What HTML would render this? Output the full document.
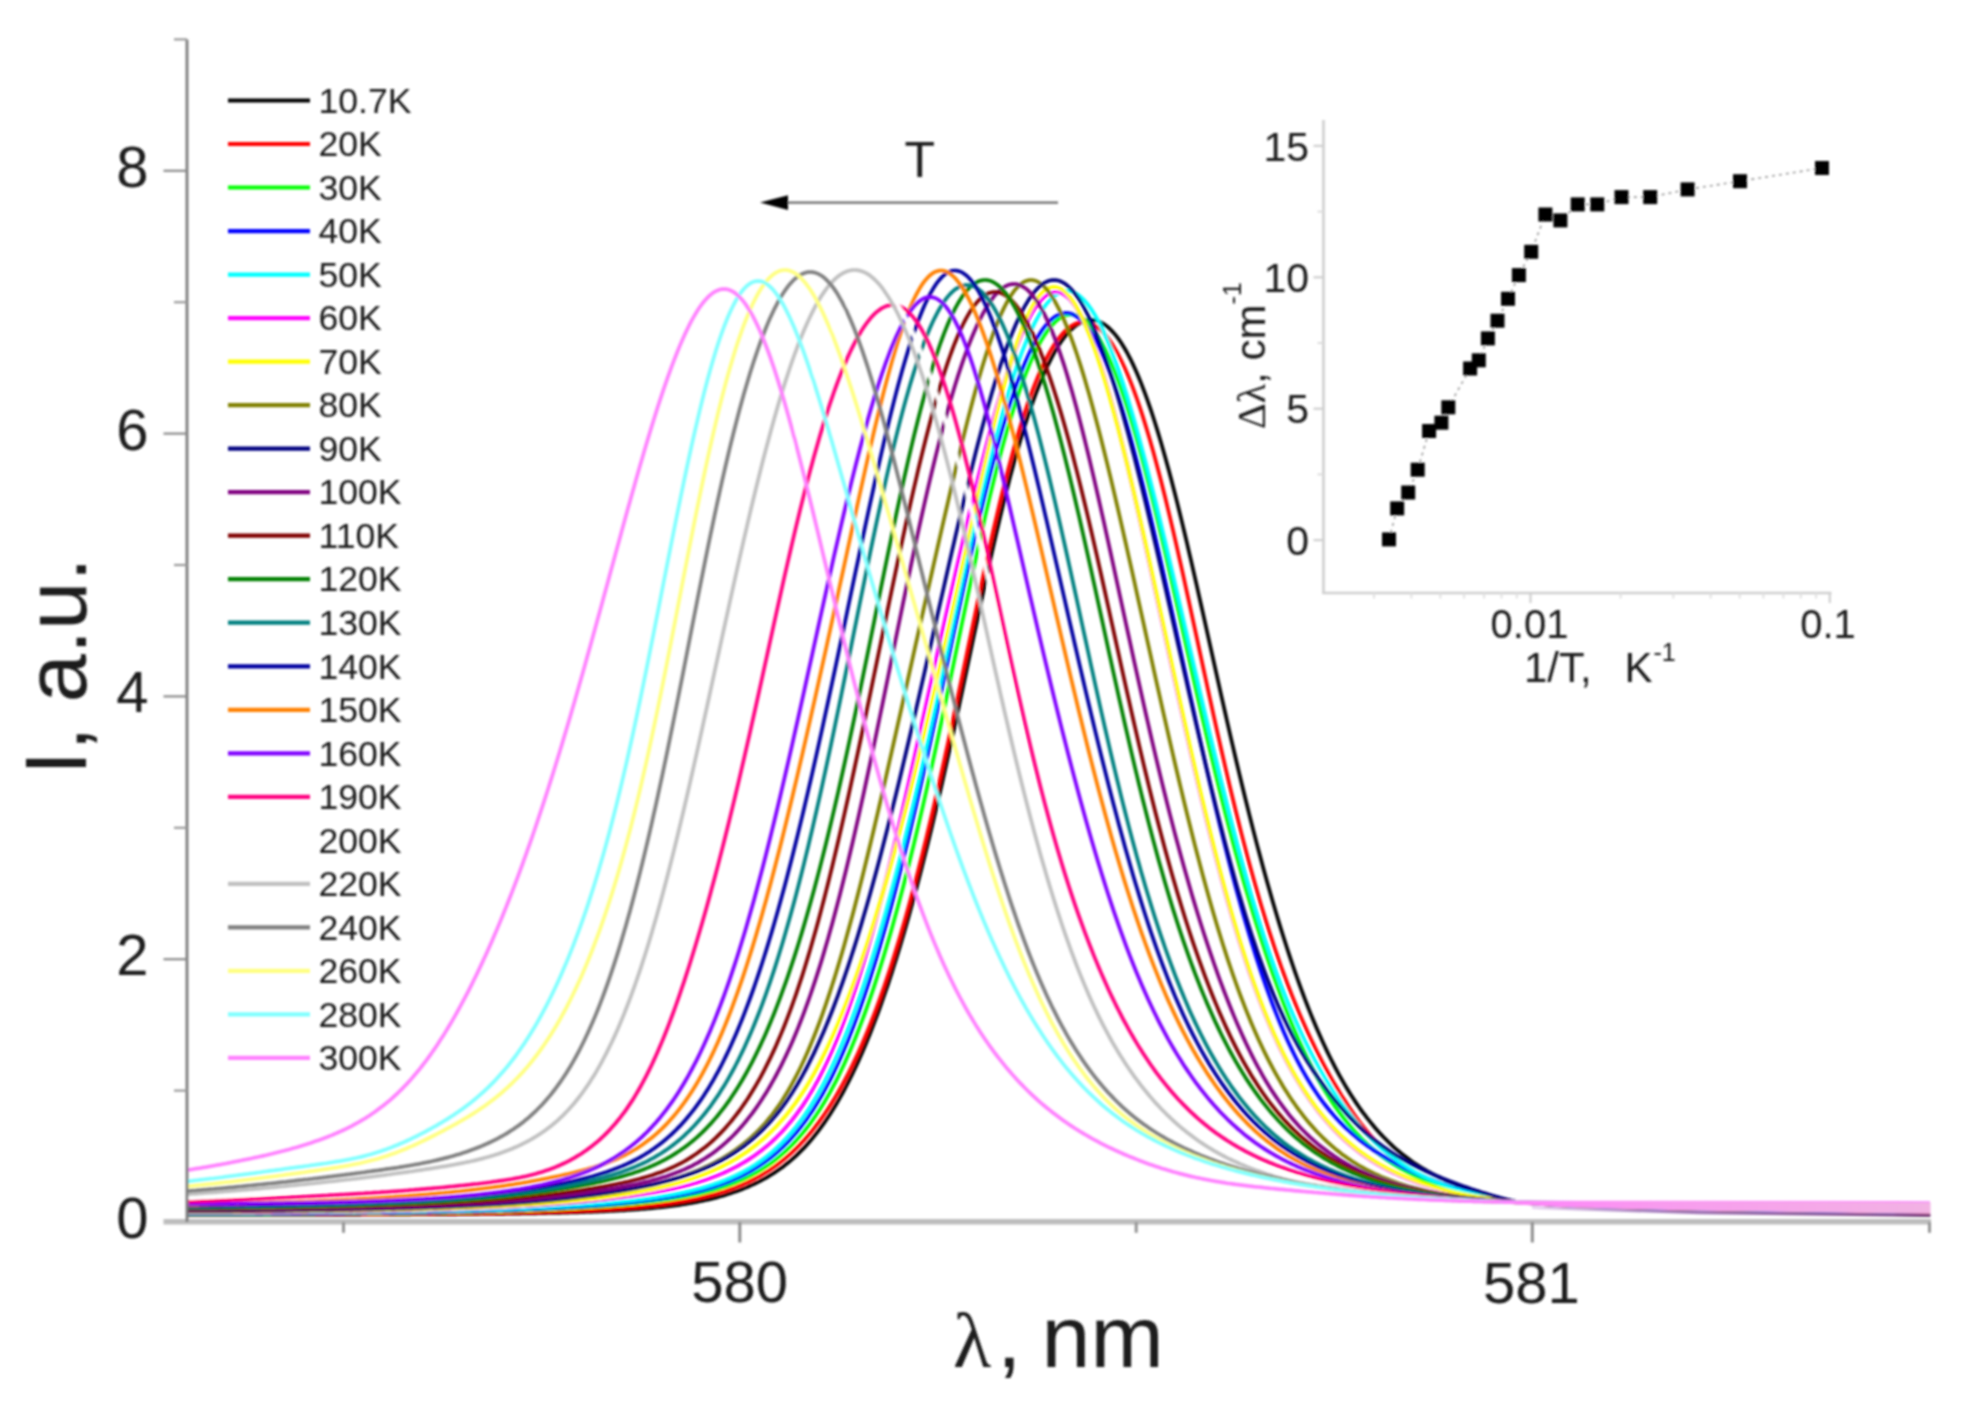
<!DOCTYPE html>
<html lang="en"><head><meta charset="utf-8"><title>Luminescence spectra vs temperature</title>
<style>
html,body{margin:0;padding:0;background:#fff;}
body{width:1965px;height:1404px;overflow:hidden;}
svg{display:block;}
text{font-family:"Liberation Sans",sans-serif;fill:#1a1a1a;}
.ser{font-family:"Liberation Serif",serif;}
.cv path{fill:none;stroke-width:3.7;stroke-linejoin:round;stroke-linecap:butt;}
</style></head><body>
<svg width="1965" height="1404" viewBox="0 0 1965 1404">
<defs><filter id="soft" x="-2%" y="-2%" width="104%" height="104%"><feGaussianBlur stdDeviation="0.9"/></filter></defs>
<rect width="1965" height="1404" fill="#fff"/>
<g filter="url(#soft)">
<g class="cv">
<path d="M188.0 1215.0 L190.0 1215.0 L192.0 1215.0 L194.0 1215.0 L196.0 1215.0 L198.0 1215.0 L200.0 1215.0 L202.0 1215.0 L204.0 1215.0 L206.0 1215.0 L208.0 1215.0 L210.0 1215.0 L212.0 1215.0 L214.0 1215.0 L216.0 1215.0 L218.0 1215.0 L220.0 1215.0 L222.0 1215.0 L224.0 1215.0 L226.0 1215.0 L228.0 1215.0 L230.0 1215.0 L232.0 1215.0 L234.0 1215.0 L236.0 1215.0 L238.0 1215.0 L240.0 1215.0 L242.0 1215.0 L244.0 1215.0 L246.0 1215.0 L248.0 1215.0 L250.0 1215.0 L252.0 1215.0 L254.0 1215.0 L256.0 1215.0 L258.0 1214.9 L260.0 1214.9 L262.0 1214.9 L264.0 1214.9 L266.0 1214.9 L268.0 1214.9 L270.0 1214.9 L272.0 1214.9 L274.0 1214.9 L276.0 1214.9 L278.0 1214.9 L280.0 1214.9 L282.0 1214.9 L284.0 1214.9 L286.0 1214.9 L288.0 1214.9 L290.0 1214.9 L292.0 1214.9 L294.0 1214.9 L296.0 1214.9 L298.0 1214.9 L300.0 1214.9 L302.0 1214.9 L304.0 1214.9 L306.0 1214.9 L308.0 1214.9 L310.0 1214.9 L312.0 1214.9 L314.0 1214.9 L316.0 1214.9 L318.0 1214.9 L320.0 1214.9 L322.0 1214.8 L324.0 1214.8 L326.0 1214.8 L328.0 1214.8 L330.0 1214.8 L332.0 1214.8 L334.0 1214.8 L336.0 1214.8 L338.0 1214.8 L340.0 1214.8 L342.0 1214.8 L344.0 1214.8 L346.0 1214.8 L348.0 1214.8 L350.0 1214.8 L352.0 1214.8 L354.0 1214.8 L356.0 1214.8 L358.0 1214.8 L360.0 1214.8 L362.0 1214.7 L364.0 1214.7 L366.0 1214.7 L368.0 1214.7 L370.0 1214.7 L372.0 1214.7 L374.0 1214.7 L376.0 1214.7 L378.0 1214.7 L380.0 1214.7 L382.0 1214.7 L384.0 1214.7 L386.0 1214.7 L388.0 1214.7 L390.0 1214.6 L392.0 1214.6 L394.0 1214.6 L396.0 1214.6 L398.0 1214.6 L400.0 1214.6 L402.0 1214.6 L404.0 1214.6 L406.0 1214.6 L408.0 1214.6 L410.0 1214.6 L412.0 1214.5 L414.0 1214.5 L416.0 1214.5 L418.0 1214.5 L420.0 1214.5 L422.0 1214.5 L424.0 1214.5 L426.0 1214.5 L428.0 1214.5 L430.0 1214.4 L432.0 1214.4 L434.0 1214.4 L436.0 1214.4 L438.0 1214.4 L440.0 1214.4 L442.0 1214.4 L444.0 1214.3 L446.0 1214.3 L448.0 1214.3 L450.0 1214.3 L452.0 1214.3 L454.0 1214.3 L456.0 1214.3 L458.0 1214.2 L460.0 1214.2 L462.0 1214.2 L464.0 1214.2 L466.0 1214.2 L468.0 1214.2 L470.0 1214.1 L472.0 1214.1 L474.0 1214.1 L476.0 1214.1 L478.0 1214.1 L480.0 1214.0 L482.0 1214.0 L484.0 1214.0 L486.0 1214.0 L488.0 1214.0 L490.0 1213.9 L492.0 1213.9 L494.0 1213.9 L496.0 1213.9 L498.0 1213.8 L500.0 1213.8 L502.0 1213.8 L504.0 1213.8 L506.0 1213.7 L508.0 1213.7 L510.0 1213.7 L512.0 1213.7 L514.0 1213.6 L516.0 1213.6 L518.0 1213.6 L520.0 1213.6 L522.0 1213.5 L524.0 1213.5 L526.0 1213.5 L528.0 1213.4 L530.0 1213.4 L532.0 1213.4 L534.0 1213.3 L536.0 1213.3 L538.0 1213.2 L540.0 1213.2 L542.0 1213.2 L544.0 1213.1 L546.0 1213.1 L548.0 1213.0 L550.0 1213.0 L552.0 1213.0 L554.0 1212.9 L556.0 1212.9 L558.0 1212.8 L560.0 1212.8 L562.0 1212.7 L564.0 1212.7 L566.0 1212.6 L568.0 1212.6 L570.0 1212.5 L572.0 1212.5 L574.0 1212.4 L576.0 1212.3 L578.0 1212.3 L580.0 1212.2 L582.0 1212.2 L584.0 1212.1 L586.0 1212.0 L588.0 1211.9 L590.0 1211.9 L592.0 1211.8 L594.0 1211.7 L596.0 1211.6 L598.0 1211.6 L600.0 1211.5 L602.0 1211.4 L604.0 1211.3 L606.0 1211.2 L608.0 1211.1 L610.0 1211.0 L612.0 1210.9 L614.0 1210.8 L616.0 1210.7 L618.0 1210.6 L620.0 1210.5 L622.0 1210.4 L624.0 1210.3 L626.0 1210.1 L628.0 1210.0 L630.0 1209.9 L632.0 1209.7 L634.0 1209.6 L636.0 1209.5 L638.0 1209.3 L640.0 1209.1 L642.0 1209.0 L644.0 1208.8 L646.0 1208.7 L648.0 1208.5 L650.0 1208.3 L652.0 1208.1 L654.0 1207.9 L656.0 1207.7 L658.0 1207.5 L660.0 1207.3 L662.0 1207.1 L664.0 1206.9 L666.0 1206.7 L668.0 1206.4 L670.0 1206.2 L672.0 1205.9 L674.0 1205.6 L676.0 1205.4 L678.0 1205.1 L680.0 1204.8 L682.0 1204.5 L684.0 1204.2 L686.0 1203.9 L688.0 1203.5 L690.0 1203.2 L692.0 1202.9 L694.0 1202.5 L696.0 1202.1 L698.0 1201.7 L700.0 1201.3 L702.0 1200.9 L704.0 1200.5 L706.0 1200.0 L708.0 1199.6 L710.0 1199.1 L712.0 1198.6 L714.0 1198.1 L716.0 1197.6 L718.0 1197.1 L720.0 1196.5 L722.0 1196.0 L724.0 1195.4 L726.0 1194.8 L728.0 1194.1 L730.0 1193.5 L732.0 1192.8 L734.0 1192.1 L736.0 1191.4 L738.0 1190.7 L740.0 1190.0 L742.0 1189.2 L744.0 1188.4 L746.0 1187.6 L748.0 1186.7 L750.0 1185.8 L752.0 1184.9 L754.0 1184.0 L756.0 1183.0 L758.0 1182.1 L760.0 1181.0 L762.0 1180.0 L764.0 1178.9 L766.0 1177.8 L768.0 1176.6 L770.0 1175.4 L772.0 1174.2 L774.0 1172.9 L776.0 1171.6 L778.0 1170.2 L780.0 1168.8 L782.0 1167.4 L784.0 1165.9 L786.0 1164.3 L788.0 1162.7 L790.0 1161.1 L792.0 1159.4 L794.0 1157.6 L796.0 1155.8 L798.0 1153.9 L800.0 1151.9 L802.0 1149.9 L804.0 1147.9 L806.0 1145.7 L808.0 1143.5 L810.0 1141.2 L812.0 1138.9 L814.0 1136.4 L816.0 1133.9 L818.0 1131.3 L820.0 1128.7 L822.0 1125.9 L824.0 1123.1 L826.0 1120.2 L828.0 1117.2 L830.0 1114.2 L832.0 1111.0 L834.0 1107.8 L836.0 1104.5 L838.0 1101.1 L840.0 1097.6 L842.0 1094.0 L844.0 1090.3 L846.0 1086.5 L848.0 1082.7 L850.0 1078.7 L852.0 1074.6 L854.0 1070.5 L856.0 1066.2 L858.0 1061.9 L860.0 1057.4 L862.0 1052.9 L864.0 1048.2 L866.0 1043.5 L868.0 1038.6 L870.0 1033.7 L872.0 1028.6 L874.0 1023.4 L876.0 1018.2 L878.0 1012.8 L880.0 1007.3 L882.0 1001.7 L884.0 996.0 L886.0 990.2 L888.0 984.3 L890.0 978.2 L892.0 972.1 L894.0 965.8 L896.0 959.4 L898.0 953.0 L900.0 946.4 L902.0 939.7 L904.0 932.9 L906.0 925.9 L908.0 918.9 L910.0 911.8 L912.0 904.5 L914.0 897.2 L916.0 889.7 L918.0 882.2 L920.0 874.5 L922.0 866.7 L924.0 858.8 L926.0 850.8 L928.0 842.8 L930.0 834.6 L932.0 826.3 L934.0 817.9 L936.0 809.4 L938.0 800.9 L940.0 792.2 L942.0 783.5 L944.0 774.6 L946.0 765.7 L948.0 756.7 L950.0 747.7 L952.0 738.5 L954.0 729.3 L956.0 720.1 L958.0 710.8 L960.0 701.4 L962.0 692.0 L964.0 682.6 L966.0 673.1 L968.0 663.6 L970.0 654.1 L972.0 644.7 L974.0 635.2 L976.0 625.8 L978.0 616.3 L980.0 607.0 L982.0 597.6 L984.0 588.4 L986.0 579.2 L988.0 570.1 L990.0 561.0 L992.0 552.1 L994.0 543.3 L996.0 534.6 L998.0 526.0 L1000.0 517.5 L1002.0 509.2 L1004.0 501.0 L1006.0 493.0 L1008.0 485.2 L1010.0 477.4 L1012.0 469.9 L1014.0 462.5 L1016.0 455.3 L1018.0 448.3 L1020.0 441.4 L1022.0 434.8 L1024.0 428.3 L1026.0 422.0 L1028.0 415.8 L1030.0 409.9 L1032.0 404.1 L1034.0 398.6 L1036.0 393.2 L1038.0 388.0 L1040.0 383.0 L1042.0 378.2 L1044.0 373.5 L1046.0 369.1 L1048.0 364.8 L1050.0 360.8 L1052.0 356.9 L1054.0 353.2 L1056.0 349.7 L1058.0 346.4 L1060.0 343.3 L1062.0 340.4 L1064.0 337.7 L1066.0 335.2 L1068.0 332.9 L1070.0 330.7 L1072.0 328.8 L1074.0 327.0 L1076.0 325.5 L1078.0 324.1 L1080.0 322.9 L1082.0 322.0 L1084.0 321.2 L1086.0 320.6 L1088.0 320.2 L1090.0 320.0 L1091.0 320.0 L1093.0 320.1 L1095.0 320.4 L1097.0 320.9 L1099.0 321.6 L1101.0 322.5 L1103.0 323.6 L1105.0 324.9 L1107.0 326.3 L1109.0 328.0 L1111.0 330.0 L1113.0 332.1 L1115.0 334.4 L1117.0 336.9 L1119.0 339.6 L1121.0 342.5 L1123.0 345.7 L1125.0 349.0 L1127.0 352.5 L1129.0 356.3 L1131.0 360.2 L1133.0 364.4 L1135.0 368.7 L1137.0 373.3 L1139.0 378.0 L1141.0 382.9 L1143.0 388.1 L1145.0 393.4 L1147.0 398.9 L1149.0 404.6 L1151.0 410.4 L1153.0 416.5 L1155.0 422.7 L1157.0 429.1 L1159.0 435.7 L1161.0 442.5 L1163.0 449.4 L1165.0 456.4 L1167.0 463.7 L1169.0 471.0 L1171.0 478.5 L1173.0 486.2 L1175.0 494.0 L1177.0 501.9 L1179.0 510.0 L1181.0 518.1 L1183.0 526.4 L1185.0 534.7 L1187.0 543.2 L1189.0 551.8 L1191.0 560.4 L1193.0 569.1 L1195.0 577.9 L1197.0 586.7 L1199.0 595.6 L1201.0 604.5 L1203.0 613.4 L1205.0 622.4 L1207.0 631.4 L1209.0 640.4 L1211.0 649.4 L1213.0 658.4 L1215.0 667.4 L1217.0 676.4 L1219.0 685.4 L1221.0 694.3 L1223.0 703.2 L1225.0 712.0 L1227.0 720.8 L1229.0 729.6 L1231.0 738.3 L1233.0 746.9 L1235.0 755.5 L1237.0 764.0 L1239.0 772.4 L1241.0 780.8 L1243.0 789.0 L1245.0 797.2 L1247.0 805.3 L1249.0 813.4 L1251.0 821.3 L1253.0 829.1 L1255.0 836.9 L1257.0 844.6 L1259.0 852.1 L1261.0 859.6 L1263.0 867.0 L1265.0 874.3 L1267.0 881.5 L1269.0 888.6 L1271.0 895.6 L1273.0 902.5 L1275.0 909.3 L1277.0 916.0 L1279.0 922.6 L1281.0 929.1 L1283.0 935.5 L1285.0 941.8 L1287.0 948.0 L1289.0 954.1 L1291.0 960.1 L1293.0 966.0 L1295.0 971.8 L1297.0 977.5 L1299.0 983.1 L1301.0 988.6 L1303.0 994.0 L1305.0 999.3 L1307.0 1004.5 L1309.0 1009.6 L1311.0 1014.6 L1313.0 1019.5 L1315.0 1024.3 L1317.0 1029.0 L1319.0 1033.6 L1321.0 1038.1 L1323.0 1042.5 L1325.0 1046.8 L1327.0 1051.1 L1329.0 1055.2 L1331.0 1059.3 L1333.0 1063.2 L1335.0 1067.1 L1337.0 1070.9 L1339.0 1074.6 L1341.0 1078.2 L1343.0 1081.7 L1345.0 1085.1 L1347.0 1088.5 L1349.0 1091.8 L1351.0 1095.0 L1353.0 1098.1 L1355.0 1101.1 L1357.0 1104.1 L1359.0 1107.0 L1361.0 1109.8 L1363.0 1112.6 L1365.0 1115.2 L1367.0 1117.9 L1369.0 1120.4 L1371.0 1122.9 L1373.0 1125.3 L1375.0 1127.7 L1377.0 1130.0 L1379.0 1132.2 L1381.0 1134.4 L1383.0 1136.5 L1385.0 1138.5 L1387.0 1140.5 L1389.0 1142.5 L1391.0 1144.4 L1393.0 1146.3 L1395.0 1148.1 L1397.0 1149.8 L1399.0 1151.5 L1401.0 1153.2 L1403.0 1154.8 L1405.0 1156.3 L1407.0 1157.8 L1409.0 1159.3 L1411.0 1160.8 L1413.0 1162.2 L1415.0 1163.5 L1417.0 1164.8 L1419.0 1166.1 L1421.0 1167.3 L1423.0 1168.5 L1425.0 1169.7 L1427.0 1170.9 L1429.0 1172.0 L1431.0 1173.0 L1433.0 1174.1 L1435.0 1175.1 L1437.0 1176.1 L1439.0 1177.0 L1441.0 1178.0 L1443.0 1178.9 L1445.0 1179.8 L1447.0 1180.7 L1449.0 1181.5 L1451.0 1182.3 L1453.0 1183.1 L1455.0 1183.9 L1457.0 1184.7 L1459.0 1185.4 L1461.0 1186.2 L1463.0 1186.9 L1465.0 1187.6 L1467.0 1188.3 L1469.0 1189.0 L1471.0 1189.6 L1473.0 1190.3 L1475.0 1190.9 L1477.0 1191.6 L1479.0 1192.2 L1481.0 1192.8 L1483.0 1193.4 L1485.0 1194.0 L1487.0 1194.5 L1489.0 1195.1 L1491.0 1195.7 L1493.0 1196.2 L1495.0 1196.7 L1497.0 1197.3 L1499.0 1197.8 L1501.0 1198.3 L1503.0 1198.8 L1505.0 1199.3 L1507.0 1199.7 L1509.0 1200.2 L1511.0 1200.7 L1513.0 1201.1 L1515.0 1201.5 L1517.0 1202.0 L1519.0 1202.4 L1579.0 1206.8 L1930.0 1215.0" stroke="#000000"/>
<path d="M188.0 1214.5 L190.0 1214.5 L192.0 1214.5 L194.0 1214.5 L196.0 1214.5 L198.0 1214.5 L200.0 1214.5 L202.0 1214.5 L204.0 1214.5 L206.0 1214.5 L208.0 1214.5 L210.0 1214.5 L212.0 1214.5 L214.0 1214.5 L216.0 1214.5 L218.0 1214.5 L220.0 1214.5 L222.0 1214.5 L224.0 1214.5 L226.0 1214.5 L228.0 1214.5 L230.0 1214.5 L232.0 1214.5 L234.0 1214.5 L236.0 1214.5 L238.0 1214.5 L240.0 1214.5 L242.0 1214.4 L244.0 1214.4 L246.0 1214.4 L248.0 1214.4 L250.0 1214.4 L252.0 1214.4 L254.0 1214.4 L256.0 1214.4 L258.0 1214.4 L260.0 1214.4 L262.0 1214.4 L264.0 1214.4 L266.0 1214.4 L268.0 1214.4 L270.0 1214.4 L272.0 1214.4 L274.0 1214.4 L276.0 1214.4 L278.0 1214.4 L280.0 1214.4 L282.0 1214.4 L284.0 1214.4 L286.0 1214.4 L288.0 1214.4 L290.0 1214.4 L292.0 1214.4 L294.0 1214.4 L296.0 1214.4 L298.0 1214.4 L300.0 1214.4 L302.0 1214.4 L304.0 1214.3 L306.0 1214.3 L308.0 1214.3 L310.0 1214.3 L312.0 1214.3 L314.0 1214.3 L316.0 1214.3 L318.0 1214.3 L320.0 1214.3 L322.0 1214.3 L324.0 1214.3 L326.0 1214.3 L328.0 1214.3 L330.0 1214.3 L332.0 1214.3 L334.0 1214.3 L336.0 1214.3 L338.0 1214.3 L340.0 1214.2 L342.0 1214.2 L344.0 1214.2 L346.0 1214.2 L348.0 1214.2 L350.0 1214.2 L352.0 1214.2 L354.0 1214.2 L356.0 1214.2 L358.0 1214.2 L360.0 1214.2 L362.0 1214.2 L364.0 1214.2 L366.0 1214.2 L368.0 1214.1 L370.0 1214.1 L372.0 1214.1 L374.0 1214.1 L376.0 1214.1 L378.0 1214.1 L380.0 1214.1 L382.0 1214.1 L384.0 1214.1 L386.0 1214.1 L388.0 1214.1 L390.0 1214.0 L392.0 1214.0 L394.0 1214.0 L396.0 1214.0 L398.0 1214.0 L400.0 1214.0 L402.0 1214.0 L404.0 1214.0 L406.0 1214.0 L408.0 1213.9 L410.0 1213.9 L412.0 1213.9 L414.0 1213.9 L416.0 1213.9 L418.0 1213.9 L420.0 1213.9 L422.0 1213.8 L424.0 1213.8 L426.0 1213.8 L428.0 1213.8 L430.0 1213.8 L432.0 1213.8 L434.0 1213.8 L436.0 1213.7 L438.0 1213.7 L440.0 1213.7 L442.0 1213.7 L444.0 1213.7 L446.0 1213.7 L448.0 1213.6 L450.0 1213.6 L452.0 1213.6 L454.0 1213.6 L456.0 1213.6 L458.0 1213.5 L460.0 1213.5 L462.0 1213.5 L464.0 1213.5 L466.0 1213.4 L468.0 1213.4 L470.0 1213.4 L472.0 1213.4 L474.0 1213.3 L476.0 1213.3 L478.0 1213.3 L480.0 1213.3 L482.0 1213.2 L484.0 1213.2 L486.0 1213.2 L488.0 1213.2 L490.0 1213.1 L492.0 1213.1 L494.0 1213.1 L496.0 1213.0 L498.0 1213.0 L500.0 1213.0 L502.0 1212.9 L504.0 1212.9 L506.0 1212.9 L508.0 1212.8 L510.0 1212.8 L512.0 1212.7 L514.0 1212.7 L516.0 1212.7 L518.0 1212.6 L520.0 1212.6 L522.0 1212.5 L524.0 1212.5 L526.0 1212.4 L528.0 1212.4 L530.0 1212.3 L532.0 1212.3 L534.0 1212.2 L536.0 1212.2 L538.0 1212.1 L540.0 1212.1 L542.0 1212.0 L544.0 1212.0 L546.0 1211.9 L548.0 1211.9 L550.0 1211.8 L552.0 1211.7 L554.0 1211.7 L556.0 1211.6 L558.0 1211.5 L560.0 1211.5 L562.0 1211.4 L564.0 1211.3 L566.0 1211.3 L568.0 1211.2 L570.0 1211.1 L572.0 1211.0 L574.0 1210.9 L576.0 1210.9 L578.0 1210.8 L580.0 1210.7 L582.0 1210.6 L584.0 1210.5 L586.0 1210.4 L588.0 1210.3 L590.0 1210.2 L592.0 1210.1 L594.0 1210.0 L596.0 1209.9 L598.0 1209.8 L600.0 1209.7 L602.0 1209.6 L604.0 1209.5 L606.0 1209.3 L608.0 1209.2 L610.0 1209.1 L612.0 1209.0 L614.0 1208.8 L616.0 1208.7 L618.0 1208.6 L620.0 1208.4 L622.0 1208.3 L624.0 1208.1 L626.0 1208.0 L628.0 1207.8 L630.0 1207.6 L632.0 1207.5 L634.0 1207.3 L636.0 1207.1 L638.0 1206.9 L640.0 1206.8 L642.0 1206.6 L644.0 1206.4 L646.0 1206.2 L648.0 1206.0 L650.0 1205.7 L652.0 1205.5 L654.0 1205.3 L656.0 1205.1 L658.0 1204.8 L660.0 1204.6 L662.0 1204.3 L664.0 1204.1 L666.0 1203.8 L668.0 1203.5 L670.0 1203.3 L672.0 1203.0 L674.0 1202.7 L676.0 1202.4 L678.0 1202.0 L680.0 1201.7 L682.0 1201.4 L684.0 1201.0 L686.0 1200.7 L688.0 1200.3 L690.0 1199.9 L692.0 1199.5 L694.0 1199.1 L696.0 1198.7 L698.0 1198.3 L700.0 1197.8 L702.0 1197.4 L704.0 1196.9 L706.0 1196.4 L708.0 1195.9 L710.0 1195.4 L712.0 1194.9 L714.0 1194.4 L716.0 1193.8 L718.0 1193.2 L720.0 1192.6 L722.0 1192.0 L724.0 1191.4 L726.0 1190.7 L728.0 1190.0 L730.0 1189.3 L732.0 1188.6 L734.0 1187.9 L736.0 1187.1 L738.0 1186.3 L740.0 1185.5 L742.0 1184.7 L744.0 1183.8 L746.0 1182.9 L748.0 1182.0 L750.0 1181.0 L752.0 1180.0 L754.0 1179.0 L756.0 1178.0 L758.0 1176.9 L760.0 1175.8 L762.0 1174.6 L764.0 1173.4 L766.0 1172.2 L768.0 1171.0 L770.0 1169.7 L772.0 1168.3 L774.0 1166.9 L776.0 1165.5 L778.0 1164.0 L780.0 1162.5 L782.0 1160.9 L784.0 1159.3 L786.0 1157.6 L788.0 1155.9 L790.0 1154.1 L792.0 1152.3 L794.0 1150.4 L796.0 1148.5 L798.0 1146.5 L800.0 1144.5 L802.0 1142.3 L804.0 1140.2 L806.0 1137.9 L808.0 1135.6 L810.0 1133.3 L812.0 1130.8 L814.0 1128.3 L816.0 1125.7 L818.0 1123.1 L820.0 1120.4 L822.0 1117.6 L824.0 1114.7 L826.0 1111.8 L828.0 1108.8 L830.0 1105.7 L832.0 1102.5 L834.0 1099.2 L836.0 1095.9 L838.0 1092.5 L840.0 1089.0 L842.0 1085.4 L844.0 1081.7 L846.0 1077.9 L848.0 1074.0 L850.0 1070.0 L852.0 1066.0 L854.0 1061.8 L856.0 1057.6 L858.0 1053.2 L860.0 1048.8 L862.0 1044.2 L864.0 1039.5 L866.0 1034.8 L868.0 1029.9 L870.0 1024.9 L872.0 1019.8 L874.0 1014.6 L876.0 1009.3 L878.0 1003.9 L880.0 998.4 L882.0 992.7 L884.0 987.0 L886.0 981.1 L888.0 975.1 L890.0 969.0 L892.0 962.7 L894.0 956.4 L896.0 949.9 L898.0 943.4 L900.0 936.7 L902.0 929.8 L904.0 922.9 L906.0 915.9 L908.0 908.7 L910.0 901.4 L912.0 894.0 L914.0 886.5 L916.0 878.9 L918.0 871.2 L920.0 863.3 L922.0 855.4 L924.0 847.3 L926.0 839.1 L928.0 830.8 L930.0 822.5 L932.0 814.0 L934.0 805.4 L936.0 796.7 L938.0 787.9 L940.0 779.1 L942.0 770.1 L944.0 761.1 L946.0 751.9 L948.0 742.8 L950.0 733.5 L952.0 724.2 L954.0 714.8 L956.0 705.3 L958.0 695.9 L960.0 686.3 L962.0 676.8 L964.0 667.2 L966.0 657.6 L968.0 648.0 L970.0 638.5 L972.0 628.9 L974.0 619.4 L976.0 609.9 L978.0 600.4 L980.0 591.0 L982.0 581.6 L984.0 572.4 L986.0 563.2 L988.0 554.1 L990.0 545.1 L992.0 536.2 L994.0 527.5 L996.0 518.9 L998.0 510.4 L1000.0 502.0 L1002.0 493.8 L1004.0 485.8 L1006.0 477.9 L1008.0 470.2 L1010.0 462.6 L1012.0 455.2 L1014.0 448.0 L1016.0 441.0 L1018.0 434.2 L1020.0 427.5 L1022.0 421.1 L1024.0 414.8 L1026.0 408.8 L1028.0 402.9 L1030.0 397.2 L1032.0 391.7 L1034.0 386.5 L1036.0 381.4 L1038.0 376.5 L1040.0 371.9 L1042.0 367.4 L1044.0 363.1 L1046.0 359.1 L1048.0 355.3 L1050.0 351.6 L1052.0 348.2 L1054.0 345.0 L1056.0 342.0 L1058.0 339.2 L1060.0 336.6 L1062.0 334.2 L1064.0 332.0 L1066.0 330.1 L1068.0 328.3 L1070.0 326.8 L1072.0 325.5 L1074.0 324.4 L1076.0 323.5 L1078.0 322.8 L1080.0 322.3 L1082.0 322.1 L1083.5 322.0 L1085.5 322.1 L1087.5 322.4 L1089.5 323.0 L1091.5 323.7 L1093.5 324.7 L1095.5 325.8 L1097.5 327.2 L1099.5 328.9 L1101.5 330.7 L1103.5 332.7 L1105.5 335.0 L1107.5 337.5 L1109.5 340.2 L1111.5 343.1 L1113.5 346.3 L1115.5 349.6 L1117.5 353.2 L1119.5 357.0 L1121.5 361.0 L1123.5 365.2 L1125.5 369.6 L1127.5 374.3 L1129.5 379.1 L1131.5 384.1 L1133.5 389.4 L1135.5 394.9 L1137.5 400.5 L1139.5 406.4 L1141.5 412.4 L1143.5 418.6 L1145.5 425.1 L1147.5 431.7 L1149.5 438.5 L1151.5 445.5 L1153.5 452.6 L1155.5 459.9 L1157.5 467.4 L1159.5 475.0 L1161.5 482.8 L1163.5 490.8 L1165.5 498.8 L1167.5 507.1 L1169.5 515.4 L1171.5 523.9 L1173.5 532.4 L1175.5 541.1 L1177.5 549.9 L1179.5 558.8 L1181.5 567.7 L1183.5 576.7 L1185.5 585.8 L1187.5 595.0 L1189.5 604.1 L1191.5 613.4 L1193.5 622.6 L1195.5 631.9 L1197.5 641.2 L1199.5 650.5 L1201.5 659.7 L1203.5 669.0 L1205.5 678.2 L1207.5 687.4 L1209.5 696.6 L1211.5 705.7 L1213.5 714.8 L1215.5 723.8 L1217.5 732.8 L1219.5 741.6 L1221.5 750.5 L1223.5 759.2 L1225.5 767.8 L1227.5 776.4 L1229.5 784.9 L1231.5 793.2 L1233.5 801.5 L1235.5 809.7 L1237.5 817.8 L1239.5 825.8 L1241.5 833.6 L1243.5 841.4 L1245.5 849.0 L1247.5 856.6 L1249.5 864.0 L1251.5 871.3 L1253.5 878.5 L1255.5 885.6 L1257.5 892.6 L1259.5 899.5 L1261.5 906.2 L1263.5 912.8 L1265.5 919.4 L1267.5 925.8 L1269.5 932.1 L1271.5 938.2 L1273.5 944.3 L1275.5 950.3 L1277.5 956.1 L1279.5 961.9 L1281.5 967.5 L1283.5 973.0 L1285.5 978.4 L1287.5 983.8 L1289.5 989.0 L1291.5 994.1 L1293.5 999.1 L1295.5 1004.0 L1297.5 1008.9 L1299.5 1013.6 L1301.5 1018.3 L1303.5 1022.8 L1305.5 1027.3 L1307.5 1031.7 L1309.5 1036.0 L1311.5 1040.2 L1313.5 1044.4 L1315.5 1048.5 L1317.5 1052.5 L1319.5 1056.4 L1321.5 1060.3 L1323.5 1064.1 L1325.5 1067.8 L1327.5 1071.5 L1329.5 1075.1 L1331.5 1078.6 L1333.5 1082.1 L1335.5 1085.5 L1337.5 1088.8 L1339.5 1092.1 L1341.5 1095.4 L1343.5 1098.5 L1345.5 1101.6 L1347.5 1104.7 L1349.5 1107.7 L1351.5 1110.6 L1353.5 1113.5 L1355.5 1116.3 L1357.5 1119.1 L1359.5 1121.8 L1361.5 1124.4 L1363.5 1127.0 L1365.5 1129.5 L1367.5 1132.0 L1369.5 1134.4 L1371.5 1136.7 L1373.5 1139.0 L1375.5 1141.2 L1377.5 1143.4 L1379.5 1145.5 L1381.5 1147.5 L1383.5 1149.5 L1385.5 1151.5 L1387.5 1153.4 L1389.5 1155.2 L1391.5 1156.9 L1393.5 1158.7 L1395.5 1160.3 L1397.5 1161.9 L1399.5 1163.5 L1401.5 1165.0 L1403.5 1166.5 L1405.5 1167.9 L1407.5 1169.3 L1409.5 1170.6 L1411.5 1171.9 L1413.5 1173.1 L1415.5 1174.3 L1417.5 1175.5 L1419.5 1176.6 L1421.5 1177.6 L1423.5 1178.7 L1425.5 1179.7 L1427.5 1180.7 L1429.5 1181.6 L1431.5 1182.5 L1433.5 1183.4 L1435.5 1184.2 L1437.5 1185.0 L1439.5 1185.8 L1441.5 1186.6 L1443.5 1187.3 L1445.5 1188.0 L1447.5 1188.7 L1449.5 1189.3 L1451.5 1189.9 L1453.5 1190.6 L1455.5 1191.1 L1457.5 1191.7 L1459.5 1192.3 L1461.5 1192.8 L1463.5 1193.3 L1465.5 1193.8 L1467.5 1194.3 L1469.5 1194.7 L1471.5 1195.2 L1473.5 1195.6 L1475.5 1196.0 L1477.5 1196.4 L1479.5 1196.8 L1481.5 1197.1 L1483.5 1197.5 L1485.5 1197.8 L1487.5 1198.2 L1489.5 1198.5 L1491.5 1198.8 L1493.5 1199.1 L1495.5 1199.4 L1497.5 1199.7 L1499.5 1200.0 L1501.5 1200.3 L1503.5 1200.5 L1505.5 1200.8 L1507.5 1201.0 L1509.5 1201.3 L1511.5 1201.5 L1513.5 1201.8 L1515.5 1202.0 L1517.5 1202.2 L1519.0 1202.4 L1579.0 1206.6 L1930.0 1214.5" stroke="#ff0000"/>
<path d="M188.0 1214.0 L190.0 1214.0 L192.0 1214.0 L194.0 1214.0 L196.0 1214.0 L198.0 1214.0 L200.0 1214.0 L202.0 1214.0 L204.0 1214.0 L206.0 1214.0 L208.0 1214.0 L210.0 1213.9 L212.0 1213.9 L214.0 1213.9 L216.0 1213.9 L218.0 1213.9 L220.0 1213.9 L222.0 1213.9 L224.0 1213.9 L226.0 1213.9 L228.0 1213.9 L230.0 1213.9 L232.0 1213.9 L234.0 1213.9 L236.0 1213.9 L238.0 1213.9 L240.0 1213.9 L242.0 1213.9 L244.0 1213.8 L246.0 1213.8 L248.0 1213.8 L250.0 1213.8 L252.0 1213.8 L254.0 1213.8 L256.0 1213.8 L258.0 1213.8 L260.0 1213.8 L262.0 1213.8 L264.0 1213.8 L266.0 1213.8 L268.0 1213.8 L270.0 1213.8 L272.0 1213.7 L274.0 1213.7 L276.0 1213.7 L278.0 1213.7 L280.0 1213.7 L282.0 1213.7 L284.0 1213.7 L286.0 1213.7 L288.0 1213.7 L290.0 1213.7 L292.0 1213.7 L294.0 1213.7 L296.0 1213.6 L298.0 1213.6 L300.0 1213.6 L302.0 1213.6 L304.0 1213.6 L306.0 1213.6 L308.0 1213.6 L310.0 1213.6 L312.0 1213.6 L314.0 1213.6 L316.0 1213.5 L318.0 1213.5 L320.0 1213.5 L322.0 1213.5 L324.0 1213.5 L326.0 1213.5 L328.0 1213.5 L330.0 1213.5 L332.0 1213.5 L334.0 1213.4 L336.0 1213.4 L338.0 1213.4 L340.0 1213.4 L342.0 1213.4 L344.0 1213.4 L346.0 1213.4 L348.0 1213.3 L350.0 1213.3 L352.0 1213.3 L354.0 1213.3 L356.0 1213.3 L358.0 1213.3 L360.0 1213.3 L362.0 1213.2 L364.0 1213.2 L366.0 1213.2 L368.0 1213.2 L370.0 1213.2 L372.0 1213.2 L374.0 1213.1 L376.0 1213.1 L378.0 1213.1 L380.0 1213.1 L382.0 1213.1 L384.0 1213.0 L386.0 1213.0 L388.0 1213.0 L390.0 1213.0 L392.0 1213.0 L394.0 1212.9 L396.0 1212.9 L398.0 1212.9 L400.0 1212.9 L402.0 1212.9 L404.0 1212.8 L406.0 1212.8 L408.0 1212.8 L410.0 1212.8 L412.0 1212.7 L414.0 1212.7 L416.0 1212.7 L418.0 1212.7 L420.0 1212.6 L422.0 1212.6 L424.0 1212.6 L426.0 1212.6 L428.0 1212.5 L430.0 1212.5 L432.0 1212.5 L434.0 1212.5 L436.0 1212.4 L438.0 1212.4 L440.0 1212.4 L442.0 1212.3 L444.0 1212.3 L446.0 1212.3 L448.0 1212.2 L450.0 1212.2 L452.0 1212.2 L454.0 1212.1 L456.0 1212.1 L458.0 1212.1 L460.0 1212.0 L462.0 1212.0 L464.0 1211.9 L466.0 1211.9 L468.0 1211.9 L470.0 1211.8 L472.0 1211.8 L474.0 1211.7 L476.0 1211.7 L478.0 1211.7 L480.0 1211.6 L482.0 1211.6 L484.0 1211.5 L486.0 1211.5 L488.0 1211.4 L490.0 1211.4 L492.0 1211.3 L494.0 1211.3 L496.0 1211.2 L498.0 1211.2 L500.0 1211.1 L502.0 1211.1 L504.0 1211.0 L506.0 1210.9 L508.0 1210.9 L510.0 1210.8 L512.0 1210.8 L514.0 1210.7 L516.0 1210.6 L518.0 1210.6 L520.0 1210.5 L522.0 1210.4 L524.0 1210.4 L526.0 1210.3 L528.0 1210.2 L530.0 1210.2 L532.0 1210.1 L534.0 1210.0 L536.0 1209.9 L538.0 1209.9 L540.0 1209.8 L542.0 1209.7 L544.0 1209.6 L546.0 1209.5 L548.0 1209.4 L550.0 1209.3 L552.0 1209.3 L554.0 1209.2 L556.0 1209.1 L558.0 1209.0 L560.0 1208.9 L562.0 1208.8 L564.0 1208.7 L566.0 1208.6 L568.0 1208.5 L570.0 1208.4 L572.0 1208.3 L574.0 1208.2 L576.0 1208.1 L578.0 1207.9 L580.0 1207.8 L582.0 1207.7 L584.0 1207.6 L586.0 1207.5 L588.0 1207.3 L590.0 1207.2 L592.0 1207.1 L594.0 1207.0 L596.0 1206.8 L598.0 1206.7 L600.0 1206.6 L602.0 1206.4 L604.0 1206.3 L606.0 1206.1 L608.0 1206.0 L610.0 1205.8 L612.0 1205.7 L614.0 1205.5 L616.0 1205.4 L618.0 1205.2 L620.0 1205.0 L622.0 1204.9 L624.0 1204.7 L626.0 1204.5 L628.0 1204.3 L630.0 1204.1 L632.0 1203.9 L634.0 1203.7 L636.0 1203.6 L638.0 1203.3 L640.0 1203.1 L642.0 1202.9 L644.0 1202.7 L646.0 1202.5 L648.0 1202.3 L650.0 1202.0 L652.0 1201.8 L654.0 1201.5 L656.0 1201.3 L658.0 1201.0 L660.0 1200.8 L662.0 1200.5 L664.0 1200.2 L666.0 1199.9 L668.0 1199.6 L670.0 1199.3 L672.0 1199.0 L674.0 1198.7 L676.0 1198.4 L678.0 1198.1 L680.0 1197.7 L682.0 1197.4 L684.0 1197.0 L686.0 1196.6 L688.0 1196.2 L690.0 1195.8 L692.0 1195.4 L694.0 1195.0 L696.0 1194.6 L698.0 1194.1 L700.0 1193.7 L702.0 1193.2 L704.0 1192.7 L706.0 1192.2 L708.0 1191.7 L710.0 1191.2 L712.0 1190.6 L714.0 1190.1 L716.0 1189.5 L718.0 1188.9 L720.0 1188.2 L722.0 1187.6 L724.0 1186.9 L726.0 1186.3 L728.0 1185.5 L730.0 1184.8 L732.0 1184.1 L734.0 1183.3 L736.0 1182.5 L738.0 1181.6 L740.0 1180.8 L742.0 1179.9 L744.0 1179.0 L746.0 1178.0 L748.0 1177.1 L750.0 1176.0 L752.0 1175.0 L754.0 1173.9 L756.0 1172.8 L758.0 1171.7 L760.0 1170.5 L762.0 1169.2 L764.0 1168.0 L766.0 1166.6 L768.0 1165.3 L770.0 1163.9 L772.0 1162.4 L774.0 1160.9 L776.0 1159.4 L778.0 1157.8 L780.0 1156.1 L782.0 1154.4 L784.0 1152.7 L786.0 1150.8 L788.0 1148.9 L790.0 1147.0 L792.0 1145.0 L794.0 1142.9 L796.0 1140.8 L798.0 1138.6 L800.0 1136.3 L802.0 1133.9 L804.0 1131.5 L806.0 1129.0 L808.0 1126.4 L810.0 1123.8 L812.0 1121.0 L814.0 1118.2 L816.0 1115.3 L818.0 1112.3 L820.0 1109.2 L822.0 1106.0 L824.0 1102.8 L826.0 1099.4 L828.0 1095.9 L830.0 1092.4 L832.0 1088.7 L834.0 1084.9 L836.0 1081.1 L838.0 1077.1 L840.0 1073.0 L842.0 1068.8 L844.0 1064.5 L846.0 1060.1 L848.0 1055.6 L850.0 1051.0 L852.0 1046.3 L854.0 1041.4 L856.0 1036.5 L858.0 1031.4 L860.0 1026.2 L862.0 1020.9 L864.0 1015.5 L866.0 1010.0 L868.0 1004.4 L870.0 998.6 L872.0 992.8 L874.0 986.8 L876.0 980.7 L878.0 974.5 L880.0 968.2 L882.0 961.7 L884.0 955.2 L886.0 948.5 L888.0 941.7 L890.0 934.9 L892.0 927.9 L894.0 920.8 L896.0 913.5 L898.0 906.2 L900.0 898.8 L902.0 891.2 L904.0 883.5 L906.0 875.8 L908.0 867.9 L910.0 859.9 L912.0 851.8 L914.0 843.6 L916.0 835.3 L918.0 826.9 L920.0 818.4 L922.0 809.8 L924.0 801.1 L926.0 792.3 L928.0 783.5 L930.0 774.5 L932.0 765.4 L934.0 756.3 L936.0 747.1 L938.0 737.8 L940.0 728.5 L942.0 719.1 L944.0 709.6 L946.0 700.1 L948.0 690.6 L950.0 681.0 L952.0 671.4 L954.0 661.8 L956.0 652.2 L958.0 642.6 L960.0 633.0 L962.0 623.4 L964.0 613.8 L966.0 604.3 L968.0 594.8 L970.0 585.3 L972.0 576.0 L974.0 566.7 L976.0 557.5 L978.0 548.3 L980.0 539.3 L982.0 530.4 L984.0 521.6 L986.0 512.9 L988.0 504.4 L990.0 495.9 L992.0 487.7 L994.0 479.5 L996.0 471.6 L998.0 463.8 L1000.0 456.1 L1002.0 448.6 L1004.0 441.3 L1006.0 434.2 L1008.0 427.2 L1010.0 420.4 L1012.0 413.9 L1014.0 407.5 L1016.0 401.3 L1018.0 395.2 L1020.0 389.4 L1022.0 383.8 L1024.0 378.4 L1026.0 373.2 L1028.0 368.2 L1030.0 363.4 L1032.0 358.8 L1034.0 354.5 L1036.0 350.3 L1038.0 346.4 L1040.0 342.7 L1042.0 339.2 L1044.0 335.9 L1046.0 332.9 L1048.0 330.1 L1050.0 327.5 L1052.0 325.2 L1054.0 323.0 L1056.0 321.2 L1058.0 319.5 L1060.0 318.1 L1062.0 316.9 L1064.0 316.0 L1066.0 315.2 L1068.0 314.8 L1070.0 314.5 L1071.0 314.5 L1073.0 314.6 L1075.0 315.0 L1077.0 315.6 L1079.0 316.4 L1081.0 317.5 L1083.0 318.8 L1085.0 320.4 L1087.0 322.2 L1089.0 324.3 L1091.0 326.5 L1093.0 329.1 L1095.0 331.8 L1097.0 334.8 L1099.0 338.1 L1101.0 341.6 L1103.0 345.3 L1105.0 349.2 L1107.0 353.3 L1109.0 357.7 L1111.0 362.3 L1113.0 367.1 L1115.0 372.1 L1117.0 377.4 L1119.0 382.8 L1121.0 388.4 L1123.0 394.3 L1125.0 400.3 L1127.0 406.5 L1129.0 412.9 L1131.0 419.4 L1133.0 426.1 L1135.0 433.0 L1137.0 440.1 L1139.0 447.3 L1141.0 454.6 L1143.0 462.1 L1145.0 469.7 L1147.0 477.5 L1149.0 485.3 L1151.0 493.3 L1153.0 501.4 L1155.0 509.6 L1157.0 517.9 L1159.0 526.3 L1161.0 534.8 L1163.0 543.3 L1165.0 551.9 L1167.0 560.6 L1169.0 569.4 L1171.0 578.2 L1173.0 587.0 L1175.0 595.9 L1177.0 604.8 L1179.0 613.7 L1181.0 622.6 L1183.0 631.6 L1185.0 640.5 L1187.0 649.5 L1189.0 658.4 L1191.0 667.4 L1193.0 676.3 L1195.0 685.1 L1197.0 694.0 L1199.0 702.8 L1201.0 711.6 L1203.0 720.3 L1205.0 728.9 L1207.0 737.5 L1209.0 746.1 L1211.0 754.5 L1213.0 762.9 L1215.0 771.3 L1217.0 779.5 L1219.0 787.7 L1221.0 795.8 L1223.0 803.8 L1225.0 811.7 L1227.0 819.5 L1229.0 827.3 L1231.0 834.9 L1233.0 842.5 L1235.0 849.9 L1237.0 857.3 L1239.0 864.6 L1241.0 871.8 L1243.0 878.9 L1245.0 885.9 L1247.0 892.8 L1249.0 899.6 L1251.0 906.3 L1253.0 913.0 L1255.0 919.5 L1257.0 926.0 L1259.0 932.3 L1261.0 938.6 L1263.0 944.8 L1265.0 950.9 L1267.0 956.9 L1269.0 962.8 L1271.0 968.6 L1273.0 974.3 L1275.0 979.9 L1277.0 985.5 L1279.0 990.9 L1281.0 996.3 L1283.0 1001.6 L1285.0 1006.7 L1287.0 1011.8 L1289.0 1016.8 L1291.0 1021.7 L1293.0 1026.5 L1295.0 1031.2 L1297.0 1035.8 L1299.0 1040.4 L1301.0 1044.8 L1303.0 1049.1 L1305.0 1053.4 L1307.0 1057.5 L1309.0 1061.6 L1311.0 1065.6 L1313.0 1069.5 L1315.0 1073.2 L1317.0 1076.9 L1319.0 1080.6 L1321.0 1084.1 L1323.0 1087.5 L1325.0 1090.9 L1327.0 1094.1 L1329.0 1097.3 L1331.0 1100.4 L1333.0 1103.4 L1335.0 1106.4 L1337.0 1109.2 L1339.0 1112.0 L1341.0 1114.7 L1343.0 1117.3 L1345.0 1119.9 L1347.0 1122.4 L1349.0 1124.8 L1351.0 1127.1 L1353.0 1129.4 L1355.0 1131.7 L1357.0 1133.8 L1359.0 1135.9 L1361.0 1138.0 L1363.0 1140.0 L1365.0 1141.9 L1367.0 1143.8 L1369.0 1145.6 L1371.0 1147.4 L1373.0 1149.1 L1375.0 1150.8 L1377.0 1152.4 L1379.0 1154.0 L1381.0 1155.5 L1383.0 1157.0 L1385.0 1158.5 L1387.0 1159.9 L1389.0 1161.3 L1391.0 1162.6 L1393.0 1163.9 L1395.0 1165.2 L1397.0 1166.4 L1399.0 1167.6 L1401.0 1168.8 L1403.0 1169.9 L1405.0 1171.0 L1407.0 1172.1 L1409.0 1173.1 L1411.0 1174.1 L1413.0 1175.1 L1415.0 1176.1 L1417.0 1177.0 L1419.0 1177.9 L1421.0 1178.8 L1423.0 1179.7 L1425.0 1180.5 L1427.0 1181.3 L1429.0 1182.1 L1431.0 1182.9 L1433.0 1183.6 L1435.0 1184.3 L1437.0 1185.0 L1439.0 1185.7 L1441.0 1186.4 L1443.0 1187.0 L1445.0 1187.7 L1447.0 1188.3 L1449.0 1188.9 L1451.0 1189.5 L1453.0 1190.0 L1455.0 1190.6 L1457.0 1191.1 L1459.0 1191.7 L1461.0 1192.2 L1463.0 1192.7 L1465.0 1193.1 L1467.0 1193.6 L1469.0 1194.1 L1471.0 1194.5 L1473.0 1194.9 L1475.0 1195.3 L1477.0 1195.8 L1479.0 1196.2 L1481.0 1196.5 L1483.0 1196.9 L1485.0 1197.3 L1487.0 1197.6 L1489.0 1198.0 L1491.0 1198.3 L1493.0 1198.7 L1495.0 1199.0 L1497.0 1199.3 L1499.0 1199.6 L1501.0 1199.9 L1503.0 1200.2 L1505.0 1200.5 L1507.0 1200.8 L1509.0 1201.1 L1511.0 1201.4 L1513.0 1201.6 L1515.0 1201.9 L1517.0 1202.1 L1519.0 1202.4 L1579.0 1206.4 L1930.0 1213.9" stroke="#00ff00"/>
<path d="M188.0 1213.5 L190.0 1213.5 L192.0 1213.5 L194.0 1213.5 L196.0 1213.5 L198.0 1213.5 L200.0 1213.5 L202.0 1213.5 L204.0 1213.5 L206.0 1213.5 L208.0 1213.4 L210.0 1213.4 L212.0 1213.4 L214.0 1213.4 L216.0 1213.4 L218.0 1213.4 L220.0 1213.4 L222.0 1213.4 L224.0 1213.4 L226.0 1213.4 L228.0 1213.4 L230.0 1213.4 L232.0 1213.4 L234.0 1213.4 L236.0 1213.4 L238.0 1213.3 L240.0 1213.3 L242.0 1213.3 L244.0 1213.3 L246.0 1213.3 L248.0 1213.3 L250.0 1213.3 L252.0 1213.3 L254.0 1213.3 L256.0 1213.3 L258.0 1213.3 L260.0 1213.3 L262.0 1213.3 L264.0 1213.2 L266.0 1213.2 L268.0 1213.2 L270.0 1213.2 L272.0 1213.2 L274.0 1213.2 L276.0 1213.2 L278.0 1213.2 L280.0 1213.2 L282.0 1213.2 L284.0 1213.1 L286.0 1213.1 L288.0 1213.1 L290.0 1213.1 L292.0 1213.1 L294.0 1213.1 L296.0 1213.1 L298.0 1213.1 L300.0 1213.1 L302.0 1213.0 L304.0 1213.0 L306.0 1213.0 L308.0 1213.0 L310.0 1213.0 L312.0 1213.0 L314.0 1213.0 L316.0 1213.0 L318.0 1213.0 L320.0 1212.9 L322.0 1212.9 L324.0 1212.9 L326.0 1212.9 L328.0 1212.9 L330.0 1212.9 L332.0 1212.9 L334.0 1212.8 L336.0 1212.8 L338.0 1212.8 L340.0 1212.8 L342.0 1212.8 L344.0 1212.8 L346.0 1212.7 L348.0 1212.7 L350.0 1212.7 L352.0 1212.7 L354.0 1212.7 L356.0 1212.7 L358.0 1212.6 L360.0 1212.6 L362.0 1212.6 L364.0 1212.6 L366.0 1212.6 L368.0 1212.5 L370.0 1212.5 L372.0 1212.5 L374.0 1212.5 L376.0 1212.5 L378.0 1212.4 L380.0 1212.4 L382.0 1212.4 L384.0 1212.4 L386.0 1212.4 L388.0 1212.3 L390.0 1212.3 L392.0 1212.3 L394.0 1212.3 L396.0 1212.2 L398.0 1212.2 L400.0 1212.2 L402.0 1212.2 L404.0 1212.1 L406.0 1212.1 L408.0 1212.1 L410.0 1212.1 L412.0 1212.0 L414.0 1212.0 L416.0 1212.0 L418.0 1211.9 L420.0 1211.9 L422.0 1211.9 L424.0 1211.8 L426.0 1211.8 L428.0 1211.8 L430.0 1211.8 L432.0 1211.7 L434.0 1211.7 L436.0 1211.6 L438.0 1211.6 L440.0 1211.6 L442.0 1211.5 L444.0 1211.5 L446.0 1211.5 L448.0 1211.4 L450.0 1211.4 L452.0 1211.3 L454.0 1211.3 L456.0 1211.3 L458.0 1211.2 L460.0 1211.2 L462.0 1211.1 L464.0 1211.1 L466.0 1211.0 L468.0 1211.0 L470.0 1211.0 L472.0 1210.9 L474.0 1210.9 L476.0 1210.8 L478.0 1210.8 L480.0 1210.7 L482.0 1210.6 L484.0 1210.6 L486.0 1210.5 L488.0 1210.5 L490.0 1210.4 L492.0 1210.4 L494.0 1210.3 L496.0 1210.3 L498.0 1210.2 L500.0 1210.1 L502.0 1210.1 L504.0 1210.0 L506.0 1209.9 L508.0 1209.9 L510.0 1209.8 L512.0 1209.7 L514.0 1209.7 L516.0 1209.6 L518.0 1209.5 L520.0 1209.4 L522.0 1209.4 L524.0 1209.3 L526.0 1209.2 L528.0 1209.1 L530.0 1209.0 L532.0 1208.9 L534.0 1208.9 L536.0 1208.8 L538.0 1208.7 L540.0 1208.6 L542.0 1208.5 L544.0 1208.4 L546.0 1208.3 L548.0 1208.2 L550.0 1208.1 L552.0 1208.0 L554.0 1207.9 L556.0 1207.8 L558.0 1207.7 L560.0 1207.6 L562.0 1207.5 L564.0 1207.4 L566.0 1207.2 L568.0 1207.1 L570.0 1207.0 L572.0 1206.9 L574.0 1206.8 L576.0 1206.6 L578.0 1206.5 L580.0 1206.4 L582.0 1206.3 L584.0 1206.1 L586.0 1206.0 L588.0 1205.8 L590.0 1205.7 L592.0 1205.6 L594.0 1205.4 L596.0 1205.3 L598.0 1205.1 L600.0 1205.0 L602.0 1204.8 L604.0 1204.7 L606.0 1204.5 L608.0 1204.3 L610.0 1204.2 L612.0 1204.0 L614.0 1203.8 L616.0 1203.6 L618.0 1203.5 L620.0 1203.3 L622.0 1203.1 L624.0 1202.9 L626.0 1202.7 L628.0 1202.5 L630.0 1202.3 L632.0 1202.1 L634.0 1201.9 L636.0 1201.7 L638.0 1201.4 L640.0 1201.2 L642.0 1201.0 L644.0 1200.7 L646.0 1200.5 L648.0 1200.3 L650.0 1200.0 L652.0 1199.7 L654.0 1199.5 L656.0 1199.2 L658.0 1198.9 L660.0 1198.6 L662.0 1198.3 L664.0 1198.0 L666.0 1197.7 L668.0 1197.4 L670.0 1197.1 L672.0 1196.7 L674.0 1196.4 L676.0 1196.0 L678.0 1195.7 L680.0 1195.3 L682.0 1194.9 L684.0 1194.5 L686.0 1194.1 L688.0 1193.7 L690.0 1193.3 L692.0 1192.8 L694.0 1192.4 L696.0 1191.9 L698.0 1191.4 L700.0 1190.9 L702.0 1190.4 L704.0 1189.9 L706.0 1189.3 L708.0 1188.7 L710.0 1188.2 L712.0 1187.6 L714.0 1186.9 L716.0 1186.3 L718.0 1185.6 L720.0 1185.0 L722.0 1184.3 L724.0 1183.5 L726.0 1182.8 L728.0 1182.0 L730.0 1181.2 L732.0 1180.4 L734.0 1179.5 L736.0 1178.6 L738.0 1177.7 L740.0 1176.8 L742.0 1175.8 L744.0 1174.8 L746.0 1173.8 L748.0 1172.7 L750.0 1171.6 L752.0 1170.4 L754.0 1169.3 L756.0 1168.0 L758.0 1166.8 L760.0 1165.5 L762.0 1164.1 L764.0 1162.7 L766.0 1161.3 L768.0 1159.8 L770.0 1158.2 L772.0 1156.7 L774.0 1155.0 L776.0 1153.3 L778.0 1151.6 L780.0 1149.7 L782.0 1147.9 L784.0 1145.9 L786.0 1143.9 L788.0 1141.9 L790.0 1139.8 L792.0 1137.6 L794.0 1135.3 L796.0 1133.0 L798.0 1130.5 L800.0 1128.0 L802.0 1125.5 L804.0 1122.8 L806.0 1120.1 L808.0 1117.3 L810.0 1114.3 L812.0 1111.4 L814.0 1108.3 L816.0 1105.1 L818.0 1101.8 L820.0 1098.4 L822.0 1095.0 L824.0 1091.4 L826.0 1087.7 L828.0 1083.9 L830.0 1080.1 L832.0 1076.1 L834.0 1072.0 L836.0 1067.8 L838.0 1063.4 L840.0 1059.0 L842.0 1054.5 L844.0 1049.8 L846.0 1045.0 L848.0 1040.2 L850.0 1035.1 L852.0 1030.0 L854.0 1024.8 L856.0 1019.4 L858.0 1014.0 L860.0 1008.4 L862.0 1002.7 L864.0 996.8 L866.0 990.9 L868.0 984.8 L870.0 978.6 L872.0 972.3 L874.0 965.9 L876.0 959.4 L878.0 952.7 L880.0 945.9 L882.0 939.0 L884.0 932.0 L886.0 924.9 L888.0 917.7 L890.0 910.4 L892.0 902.9 L894.0 895.4 L896.0 887.7 L898.0 880.0 L900.0 872.1 L902.0 864.1 L904.0 856.1 L906.0 847.9 L908.0 839.7 L910.0 831.3 L912.0 822.9 L914.0 814.4 L916.0 805.8 L918.0 797.1 L920.0 788.3 L922.0 779.5 L924.0 770.6 L926.0 761.6 L928.0 752.6 L930.0 743.5 L932.0 734.4 L934.0 725.2 L936.0 715.9 L938.0 706.7 L940.0 697.4 L942.0 688.0 L944.0 678.7 L946.0 669.3 L948.0 660.0 L950.0 650.6 L952.0 641.2 L954.0 631.9 L956.0 622.6 L958.0 613.3 L960.0 604.0 L962.0 594.8 L964.0 585.7 L966.0 576.6 L968.0 567.5 L970.0 558.5 L972.0 549.7 L974.0 540.9 L976.0 532.1 L978.0 523.5 L980.0 515.0 L982.0 506.6 L984.0 498.4 L986.0 490.2 L988.0 482.2 L990.0 474.3 L992.0 466.6 L994.0 459.0 L996.0 451.5 L998.0 444.2 L1000.0 437.1 L1002.0 430.1 L1004.0 423.3 L1006.0 416.7 L1008.0 410.2 L1010.0 403.9 L1012.0 397.8 L1014.0 391.9 L1016.0 386.2 L1018.0 380.7 L1020.0 375.3 L1022.0 370.2 L1024.0 365.3 L1026.0 360.5 L1028.0 356.0 L1030.0 351.7 L1032.0 347.6 L1034.0 343.7 L1036.0 340.1 L1038.0 336.6 L1040.0 333.4 L1042.0 330.4 L1044.0 327.7 L1046.0 325.2 L1048.0 322.9 L1050.0 320.8 L1052.0 319.0 L1054.0 317.4 L1056.0 316.1 L1058.0 315.0 L1060.0 314.1 L1062.0 313.5 L1064.0 313.1 L1066.0 313.0 L1068.0 313.1 L1070.0 313.5 L1072.0 314.1 L1074.0 315.0 L1076.0 316.1 L1078.0 317.5 L1080.0 319.1 L1082.0 321.0 L1084.0 323.1 L1086.0 325.5 L1088.0 328.1 L1090.0 331.0 L1092.0 334.1 L1094.0 337.5 L1096.0 341.1 L1098.0 344.9 L1100.0 349.0 L1102.0 353.3 L1104.0 357.8 L1106.0 362.5 L1108.0 367.5 L1110.0 372.7 L1112.0 378.1 L1114.0 383.7 L1116.0 389.5 L1118.0 395.6 L1120.0 401.8 L1122.0 408.2 L1124.0 414.7 L1126.0 421.5 L1128.0 428.4 L1130.0 435.5 L1132.0 442.8 L1134.0 450.2 L1136.0 457.7 L1138.0 465.4 L1140.0 473.2 L1142.0 481.2 L1144.0 489.3 L1146.0 497.5 L1148.0 505.8 L1150.0 514.2 L1152.0 522.7 L1154.0 531.3 L1156.0 540.0 L1158.0 548.7 L1160.0 557.5 L1162.0 566.4 L1164.0 575.4 L1166.0 584.4 L1168.0 593.5 L1170.0 602.6 L1172.0 611.7 L1174.0 620.8 L1176.0 630.0 L1178.0 639.2 L1180.0 648.4 L1182.0 657.6 L1184.0 666.8 L1186.0 676.0 L1188.0 685.2 L1190.0 694.3 L1192.0 703.4 L1194.0 712.5 L1196.0 721.6 L1198.0 730.6 L1200.0 739.6 L1202.0 748.5 L1204.0 757.3 L1206.0 766.1 L1208.0 774.9 L1210.0 783.5 L1212.0 792.1 L1214.0 800.6 L1216.0 809.1 L1218.0 817.4 L1220.0 825.7 L1222.0 833.8 L1224.0 841.9 L1226.0 849.9 L1228.0 857.7 L1230.0 865.5 L1232.0 873.2 L1234.0 880.8 L1236.0 888.2 L1238.0 895.6 L1240.0 902.8 L1242.0 909.9 L1244.0 916.9 L1246.0 923.8 L1248.0 930.6 L1250.0 937.3 L1252.0 943.8 L1254.0 950.3 L1256.0 956.6 L1258.0 962.8 L1260.0 968.8 L1262.0 974.8 L1264.0 980.6 L1266.0 986.3 L1268.0 991.9 L1270.0 997.4 L1272.0 1002.8 L1274.0 1008.0 L1276.0 1013.1 L1278.0 1018.1 L1280.0 1023.0 L1282.0 1027.8 L1284.0 1032.5 L1286.0 1037.0 L1288.0 1041.4 L1290.0 1045.7 L1292.0 1049.9 L1294.0 1054.0 L1296.0 1058.0 L1298.0 1061.9 L1300.0 1065.7 L1302.0 1069.4 L1304.0 1072.9 L1306.0 1076.4 L1308.0 1079.8 L1310.0 1083.0 L1312.0 1086.2 L1314.0 1089.3 L1316.0 1092.3 L1318.0 1095.2 L1320.0 1098.1 L1322.0 1100.8 L1324.0 1103.5 L1326.0 1106.0 L1328.0 1108.5 L1330.0 1111.0 L1332.0 1113.3 L1334.0 1115.6 L1336.0 1117.9 L1338.0 1120.0 L1340.0 1122.1 L1342.0 1124.1 L1344.0 1126.1 L1346.0 1128.1 L1348.0 1129.9 L1350.0 1131.7 L1352.0 1133.5 L1354.0 1135.2 L1356.0 1136.9 L1358.0 1138.6 L1360.0 1140.2 L1362.0 1141.7 L1364.0 1143.3 L1366.0 1144.7 L1368.0 1146.2 L1370.0 1147.6 L1372.0 1149.0 L1374.0 1150.4 L1376.0 1151.7 L1378.0 1153.0 L1380.0 1154.3 L1382.0 1155.5 L1384.0 1156.7 L1386.0 1157.9 L1388.0 1159.1 L1390.0 1160.3 L1392.0 1161.4 L1394.0 1162.5 L1396.0 1163.6 L1398.0 1164.7 L1400.0 1165.7 L1402.0 1166.7 L1404.0 1167.8 L1406.0 1168.7 L1408.0 1169.7 L1410.0 1170.7 L1412.0 1171.6 L1414.0 1172.5 L1416.0 1173.4 L1418.0 1174.3 L1420.0 1175.2 L1422.0 1176.0 L1424.0 1176.8 L1426.0 1177.7 L1428.0 1178.5 L1430.0 1179.2 L1432.0 1180.0 L1434.0 1180.8 L1436.0 1181.5 L1438.0 1182.2 L1440.0 1183.0 L1442.0 1183.7 L1444.0 1184.3 L1446.0 1185.0 L1448.0 1185.7 L1450.0 1186.3 L1452.0 1187.0 L1454.0 1187.6 L1456.0 1188.2 L1458.0 1188.8 L1460.0 1189.4 L1462.0 1189.9 L1464.0 1190.5 L1466.0 1191.1 L1468.0 1191.6 L1470.0 1192.1 L1472.0 1192.7 L1474.0 1193.2 L1476.0 1193.7 L1478.0 1194.2 L1480.0 1194.6 L1482.0 1195.1 L1484.0 1195.6 L1486.0 1196.0 L1488.0 1196.5 L1490.0 1196.9 L1492.0 1197.3 L1494.0 1197.8 L1496.0 1198.2 L1498.0 1198.6 L1500.0 1199.0 L1502.0 1199.4 L1504.0 1199.8 L1506.0 1200.1 L1508.0 1200.5 L1510.0 1200.9 L1512.0 1201.2 L1514.0 1201.6 L1516.0 1201.9 L1518.0 1202.2 L1519.0 1202.4 L1579.0 1206.2 L1930.0 1213.4" stroke="#0000ff"/>
<path d="M188.0 1213.0 L190.0 1213.0 L192.0 1213.0 L194.0 1213.0 L196.0 1213.0 L198.0 1213.0 L200.0 1213.0 L202.0 1213.0 L204.0 1212.9 L206.0 1212.9 L208.0 1212.9 L210.0 1212.9 L212.0 1212.9 L214.0 1212.9 L216.0 1212.9 L218.0 1212.9 L220.0 1212.9 L222.0 1212.9 L224.0 1212.9 L226.0 1212.9 L228.0 1212.9 L230.0 1212.9 L232.0 1212.8 L234.0 1212.8 L236.0 1212.8 L238.0 1212.8 L240.0 1212.8 L242.0 1212.8 L244.0 1212.8 L246.0 1212.8 L248.0 1212.8 L250.0 1212.8 L252.0 1212.8 L254.0 1212.8 L256.0 1212.7 L258.0 1212.7 L260.0 1212.7 L262.0 1212.7 L264.0 1212.7 L266.0 1212.7 L268.0 1212.7 L270.0 1212.7 L272.0 1212.7 L274.0 1212.7 L276.0 1212.6 L278.0 1212.6 L280.0 1212.6 L282.0 1212.6 L284.0 1212.6 L286.0 1212.6 L288.0 1212.6 L290.0 1212.6 L292.0 1212.5 L294.0 1212.5 L296.0 1212.5 L298.0 1212.5 L300.0 1212.5 L302.0 1212.5 L304.0 1212.5 L306.0 1212.5 L308.0 1212.4 L310.0 1212.4 L312.0 1212.4 L314.0 1212.4 L316.0 1212.4 L318.0 1212.4 L320.0 1212.4 L322.0 1212.3 L324.0 1212.3 L326.0 1212.3 L328.0 1212.3 L330.0 1212.3 L332.0 1212.3 L334.0 1212.2 L336.0 1212.2 L338.0 1212.2 L340.0 1212.2 L342.0 1212.2 L344.0 1212.1 L346.0 1212.1 L348.0 1212.1 L350.0 1212.1 L352.0 1212.1 L354.0 1212.1 L356.0 1212.0 L358.0 1212.0 L360.0 1212.0 L362.0 1212.0 L364.0 1211.9 L366.0 1211.9 L368.0 1211.9 L370.0 1211.9 L372.0 1211.9 L374.0 1211.8 L376.0 1211.8 L378.0 1211.8 L380.0 1211.8 L382.0 1211.7 L384.0 1211.7 L386.0 1211.7 L388.0 1211.7 L390.0 1211.6 L392.0 1211.6 L394.0 1211.6 L396.0 1211.5 L398.0 1211.5 L400.0 1211.5 L402.0 1211.5 L404.0 1211.4 L406.0 1211.4 L408.0 1211.4 L410.0 1211.3 L412.0 1211.3 L414.0 1211.3 L416.0 1211.2 L418.0 1211.2 L420.0 1211.2 L422.0 1211.1 L424.0 1211.1 L426.0 1211.1 L428.0 1211.0 L430.0 1211.0 L432.0 1210.9 L434.0 1210.9 L436.0 1210.9 L438.0 1210.8 L440.0 1210.8 L442.0 1210.7 L444.0 1210.7 L446.0 1210.7 L448.0 1210.6 L450.0 1210.6 L452.0 1210.5 L454.0 1210.5 L456.0 1210.4 L458.0 1210.4 L460.0 1210.3 L462.0 1210.3 L464.0 1210.2 L466.0 1210.2 L468.0 1210.1 L470.0 1210.1 L472.0 1210.0 L474.0 1210.0 L476.0 1209.9 L478.0 1209.8 L480.0 1209.8 L482.0 1209.7 L484.0 1209.7 L486.0 1209.6 L488.0 1209.5 L490.0 1209.5 L492.0 1209.4 L494.0 1209.3 L496.0 1209.3 L498.0 1209.2 L500.0 1209.1 L502.0 1209.1 L504.0 1209.0 L506.0 1208.9 L508.0 1208.8 L510.0 1208.8 L512.0 1208.7 L514.0 1208.6 L516.0 1208.5 L518.0 1208.4 L520.0 1208.4 L522.0 1208.3 L524.0 1208.2 L526.0 1208.1 L528.0 1208.0 L530.0 1207.9 L532.0 1207.8 L534.0 1207.7 L536.0 1207.6 L538.0 1207.5 L540.0 1207.4 L542.0 1207.3 L544.0 1207.2 L546.0 1207.1 L548.0 1207.0 L550.0 1206.9 L552.0 1206.8 L554.0 1206.6 L556.0 1206.5 L558.0 1206.4 L560.0 1206.3 L562.0 1206.2 L564.0 1206.0 L566.0 1205.9 L568.0 1205.8 L570.0 1205.7 L572.0 1205.5 L574.0 1205.4 L576.0 1205.2 L578.0 1205.1 L580.0 1205.0 L582.0 1204.8 L584.0 1204.7 L586.0 1204.5 L588.0 1204.4 L590.0 1204.2 L592.0 1204.1 L594.0 1203.9 L596.0 1203.7 L598.0 1203.6 L600.0 1203.4 L602.0 1203.3 L604.0 1203.1 L606.0 1202.9 L608.0 1202.7 L610.0 1202.5 L612.0 1202.4 L614.0 1202.2 L616.0 1202.0 L618.0 1201.8 L620.0 1201.6 L622.0 1201.4 L624.0 1201.2 L626.0 1201.0 L628.0 1200.8 L630.0 1200.6 L632.0 1200.3 L634.0 1200.1 L636.0 1199.9 L638.0 1199.6 L640.0 1199.4 L642.0 1199.2 L644.0 1198.9 L646.0 1198.6 L648.0 1198.4 L650.0 1198.1 L652.0 1197.8 L654.0 1197.5 L656.0 1197.3 L658.0 1197.0 L660.0 1196.7 L662.0 1196.3 L664.0 1196.0 L666.0 1195.7 L668.0 1195.4 L670.0 1195.0 L672.0 1194.7 L674.0 1194.3 L676.0 1193.9 L678.0 1193.5 L680.0 1193.1 L682.0 1192.7 L684.0 1192.3 L686.0 1191.9 L688.0 1191.4 L690.0 1191.0 L692.0 1190.5 L694.0 1190.0 L696.0 1189.5 L698.0 1189.0 L700.0 1188.5 L702.0 1187.9 L704.0 1187.4 L706.0 1186.8 L708.0 1186.2 L710.0 1185.6 L712.0 1184.9 L714.0 1184.3 L716.0 1183.6 L718.0 1182.9 L720.0 1182.2 L722.0 1181.4 L724.0 1180.7 L726.0 1179.9 L728.0 1179.0 L730.0 1178.2 L732.0 1177.3 L734.0 1176.4 L736.0 1175.5 L738.0 1174.5 L740.0 1173.5 L742.0 1172.5 L744.0 1171.4 L746.0 1170.3 L748.0 1169.1 L750.0 1168.0 L752.0 1166.7 L754.0 1165.5 L756.0 1164.2 L758.0 1162.8 L760.0 1161.4 L762.0 1160.0 L764.0 1158.5 L766.0 1157.0 L768.0 1155.4 L770.0 1153.8 L772.0 1152.1 L774.0 1150.3 L776.0 1148.5 L778.0 1146.6 L780.0 1144.7 L782.0 1142.7 L784.0 1140.6 L786.0 1138.5 L788.0 1136.3 L790.0 1134.0 L792.0 1131.7 L794.0 1129.3 L796.0 1126.8 L798.0 1124.2 L800.0 1121.5 L802.0 1118.8 L804.0 1116.0 L806.0 1113.1 L808.0 1110.1 L810.0 1107.0 L812.0 1103.8 L814.0 1100.5 L816.0 1097.1 L818.0 1093.6 L820.0 1090.0 L822.0 1086.4 L824.0 1082.6 L826.0 1078.7 L828.0 1074.7 L830.0 1070.6 L832.0 1066.4 L834.0 1062.1 L836.0 1057.6 L838.0 1053.1 L840.0 1048.5 L842.0 1043.7 L844.0 1038.8 L846.0 1033.9 L848.0 1028.8 L850.0 1023.6 L852.0 1018.3 L854.0 1012.8 L856.0 1007.3 L858.0 1001.7 L860.0 995.9 L862.0 990.1 L864.0 984.1 L866.0 978.0 L868.0 971.8 L870.0 965.5 L872.0 959.1 L874.0 952.6 L876.0 946.0 L878.0 939.3 L880.0 932.5 L882.0 925.5 L884.0 918.5 L886.0 911.4 L888.0 904.1 L890.0 896.8 L892.0 889.3 L894.0 881.8 L896.0 874.2 L898.0 866.4 L900.0 858.6 L902.0 850.7 L904.0 842.6 L906.0 834.5 L908.0 826.3 L910.0 818.0 L912.0 809.6 L914.0 801.2 L916.0 792.6 L918.0 784.0 L920.0 775.3 L922.0 766.5 L924.0 757.7 L926.0 748.7 L928.0 739.8 L930.0 730.7 L932.0 721.6 L934.0 712.5 L936.0 703.3 L938.0 694.1 L940.0 684.8 L942.0 675.5 L944.0 666.2 L946.0 656.8 L948.0 647.5 L950.0 638.1 L952.0 628.8 L954.0 619.4 L956.0 610.1 L958.0 600.8 L960.0 591.5 L962.0 582.3 L964.0 573.0 L966.0 563.9 L968.0 554.8 L970.0 545.7 L972.0 536.8 L974.0 527.8 L976.0 519.0 L978.0 510.3 L980.0 501.7 L982.0 493.1 L984.0 484.7 L986.0 476.4 L988.0 468.2 L990.0 460.1 L992.0 452.2 L994.0 444.4 L996.0 436.7 L998.0 429.2 L1000.0 421.8 L1002.0 414.6 L1004.0 407.6 L1006.0 400.7 L1008.0 394.0 L1010.0 387.4 L1012.0 381.1 L1014.0 374.9 L1016.0 369.0 L1018.0 363.2 L1020.0 357.6 L1022.0 352.2 L1024.0 347.1 L1026.0 342.1 L1028.0 337.3 L1030.0 332.8 L1032.0 328.5 L1034.0 324.4 L1036.0 320.5 L1038.0 316.9 L1040.0 313.5 L1042.0 310.3 L1044.0 307.4 L1046.0 304.7 L1048.0 302.2 L1050.0 300.0 L1052.0 298.0 L1054.0 296.3 L1056.0 294.8 L1058.0 293.5 L1060.0 292.5 L1062.0 291.8 L1064.0 291.3 L1066.0 291.0 L1067.0 291.0 L1069.0 291.1 L1071.0 291.5 L1073.0 292.1 L1075.0 293.0 L1077.0 294.1 L1079.0 295.5 L1081.0 297.1 L1083.0 299.0 L1085.0 301.1 L1087.0 303.4 L1089.0 306.0 L1091.0 308.8 L1093.0 311.9 L1095.0 315.2 L1097.0 318.7 L1099.0 322.4 L1101.0 326.4 L1103.0 330.5 L1105.0 334.9 L1107.0 339.5 L1109.0 344.3 L1111.0 349.3 L1113.0 354.5 L1115.0 359.9 L1117.0 365.4 L1119.0 371.2 L1121.0 377.1 L1123.0 383.2 L1125.0 389.5 L1127.0 395.9 L1129.0 402.5 L1131.0 409.2 L1133.0 416.1 L1135.0 423.1 L1137.0 430.2 L1139.0 437.5 L1141.0 444.9 L1143.0 452.4 L1145.0 460.0 L1147.0 467.7 L1149.0 475.6 L1151.0 483.5 L1153.0 491.5 L1155.0 499.5 L1157.0 507.7 L1159.0 515.9 L1161.0 524.2 L1163.0 532.6 L1165.0 541.0 L1167.0 549.4 L1169.0 557.9 L1171.0 566.4 L1173.0 575.0 L1175.0 583.6 L1177.0 592.2 L1179.0 600.9 L1181.0 609.5 L1183.0 618.2 L1185.0 626.9 L1187.0 635.6 L1189.0 644.3 L1191.0 653.0 L1193.0 661.6 L1195.0 670.3 L1197.0 678.9 L1199.0 687.6 L1201.0 696.2 L1203.0 704.8 L1205.0 713.3 L1207.0 721.8 L1209.0 730.3 L1211.0 738.7 L1213.0 747.1 L1215.0 755.5 L1217.0 763.7 L1219.0 772.0 L1221.0 780.2 L1223.0 788.3 L1225.0 796.3 L1227.0 804.3 L1229.0 812.2 L1231.0 820.0 L1233.0 827.8 L1235.0 835.5 L1237.0 843.1 L1239.0 850.6 L1241.0 858.0 L1243.0 865.3 L1245.0 872.6 L1247.0 879.7 L1249.0 886.7 L1251.0 893.7 L1253.0 900.5 L1255.0 907.2 L1257.0 913.9 L1259.0 920.4 L1261.0 926.8 L1263.0 933.1 L1265.0 939.3 L1267.0 945.4 L1269.0 951.3 L1271.0 957.2 L1273.0 962.9 L1275.0 968.6 L1277.0 974.1 L1279.0 979.5 L1281.0 984.8 L1283.0 990.0 L1285.0 995.1 L1287.0 1000.1 L1289.0 1005.0 L1291.0 1009.8 L1293.0 1014.5 L1295.0 1019.1 L1297.0 1023.6 L1299.0 1028.0 L1301.0 1032.3 L1303.0 1036.5 L1305.0 1040.7 L1307.0 1044.7 L1309.0 1048.7 L1311.0 1052.6 L1313.0 1056.4 L1315.0 1060.1 L1317.0 1063.7 L1319.0 1067.3 L1321.0 1070.8 L1323.0 1074.2 L1325.0 1077.6 L1327.0 1080.9 L1329.0 1084.1 L1331.0 1087.3 L1333.0 1090.4 L1335.0 1093.4 L1337.0 1096.4 L1339.0 1099.3 L1341.0 1102.2 L1343.0 1105.0 L1345.0 1107.7 L1347.0 1110.4 L1349.0 1113.0 L1351.0 1115.6 L1353.0 1118.1 L1355.0 1120.6 L1357.0 1123.0 L1359.0 1125.3 L1361.0 1127.6 L1363.0 1129.8 L1365.0 1132.0 L1367.0 1134.2 L1369.0 1136.3 L1371.0 1138.3 L1373.0 1140.3 L1375.0 1142.2 L1377.0 1144.1 L1379.0 1146.0 L1381.0 1147.8 L1383.0 1149.5 L1385.0 1151.2 L1387.0 1152.9 L1389.0 1154.5 L1391.0 1156.1 L1393.0 1157.6 L1395.0 1159.1 L1397.0 1160.6 L1399.0 1162.0 L1401.0 1163.4 L1403.0 1164.7 L1405.0 1166.0 L1407.0 1167.2 L1409.0 1168.5 L1411.0 1169.7 L1413.0 1170.8 L1415.0 1172.0 L1417.0 1173.1 L1419.0 1174.1 L1421.0 1175.2 L1423.0 1176.2 L1425.0 1177.1 L1427.0 1178.1 L1429.0 1179.0 L1431.0 1179.9 L1433.0 1180.8 L1435.0 1181.6 L1437.0 1182.4 L1439.0 1183.2 L1441.0 1184.0 L1443.0 1184.8 L1445.0 1185.5 L1447.0 1186.2 L1449.0 1186.9 L1451.0 1187.6 L1453.0 1188.2 L1455.0 1188.9 L1457.0 1189.5 L1459.0 1190.1 L1461.0 1190.7 L1463.0 1191.3 L1465.0 1191.8 L1467.0 1192.4 L1469.0 1192.9 L1471.0 1193.4 L1473.0 1193.9 L1475.0 1194.4 L1477.0 1194.8 L1479.0 1195.3 L1481.0 1195.7 L1483.0 1196.2 L1485.0 1196.6 L1487.0 1197.0 L1489.0 1197.4 L1491.0 1197.8 L1493.0 1198.2 L1495.0 1198.5 L1497.0 1198.9 L1499.0 1199.3 L1501.0 1199.6 L1503.0 1199.9 L1505.0 1200.3 L1507.0 1200.6 L1509.0 1200.9 L1511.0 1201.2 L1513.0 1201.5 L1515.0 1201.8 L1517.0 1202.1 L1519.0 1202.4 L1579.0 1206.0 L1930.0 1212.8" stroke="#00ffff"/>
<path d="M188.0 1212.5 L190.0 1212.5 L192.0 1212.5 L194.0 1212.5 L196.0 1212.5 L198.0 1212.5 L200.0 1212.5 L202.0 1212.4 L204.0 1212.4 L206.0 1212.4 L208.0 1212.4 L210.0 1212.4 L212.0 1212.4 L214.0 1212.4 L216.0 1212.4 L218.0 1212.4 L220.0 1212.4 L222.0 1212.4 L224.0 1212.3 L226.0 1212.3 L228.0 1212.3 L230.0 1212.3 L232.0 1212.3 L234.0 1212.3 L236.0 1212.3 L238.0 1212.3 L240.0 1212.3 L242.0 1212.2 L244.0 1212.2 L246.0 1212.2 L248.0 1212.2 L250.0 1212.2 L252.0 1212.2 L254.0 1212.2 L256.0 1212.2 L258.0 1212.1 L260.0 1212.1 L262.0 1212.1 L264.0 1212.1 L266.0 1212.1 L268.0 1212.1 L270.0 1212.1 L272.0 1212.1 L274.0 1212.0 L276.0 1212.0 L278.0 1212.0 L280.0 1212.0 L282.0 1212.0 L284.0 1212.0 L286.0 1211.9 L288.0 1211.9 L290.0 1211.9 L292.0 1211.9 L294.0 1211.9 L296.0 1211.9 L298.0 1211.8 L300.0 1211.8 L302.0 1211.8 L304.0 1211.8 L306.0 1211.8 L308.0 1211.8 L310.0 1211.7 L312.0 1211.7 L314.0 1211.7 L316.0 1211.7 L318.0 1211.7 L320.0 1211.6 L322.0 1211.6 L324.0 1211.6 L326.0 1211.6 L328.0 1211.6 L330.0 1211.5 L332.0 1211.5 L334.0 1211.5 L336.0 1211.5 L338.0 1211.4 L340.0 1211.4 L342.0 1211.4 L344.0 1211.4 L346.0 1211.3 L348.0 1211.3 L350.0 1211.3 L352.0 1211.3 L354.0 1211.2 L356.0 1211.2 L358.0 1211.2 L360.0 1211.2 L362.0 1211.1 L364.0 1211.1 L366.0 1211.1 L368.0 1211.0 L370.0 1211.0 L372.0 1211.0 L374.0 1210.9 L376.0 1210.9 L378.0 1210.9 L380.0 1210.8 L382.0 1210.8 L384.0 1210.8 L386.0 1210.7 L388.0 1210.7 L390.0 1210.7 L392.0 1210.6 L394.0 1210.6 L396.0 1210.6 L398.0 1210.5 L400.0 1210.5 L402.0 1210.4 L404.0 1210.4 L406.0 1210.4 L408.0 1210.3 L410.0 1210.3 L412.0 1210.2 L414.0 1210.2 L416.0 1210.1 L418.0 1210.1 L420.0 1210.0 L422.0 1210.0 L424.0 1210.0 L426.0 1209.9 L428.0 1209.9 L430.0 1209.8 L432.0 1209.8 L434.0 1209.7 L436.0 1209.7 L438.0 1209.6 L440.0 1209.5 L442.0 1209.5 L444.0 1209.4 L446.0 1209.4 L448.0 1209.3 L450.0 1209.3 L452.0 1209.2 L454.0 1209.1 L456.0 1209.1 L458.0 1209.0 L460.0 1208.9 L462.0 1208.9 L464.0 1208.8 L466.0 1208.7 L468.0 1208.7 L470.0 1208.6 L472.0 1208.5 L474.0 1208.5 L476.0 1208.4 L478.0 1208.3 L480.0 1208.2 L482.0 1208.1 L484.0 1208.1 L486.0 1208.0 L488.0 1207.9 L490.0 1207.8 L492.0 1207.7 L494.0 1207.6 L496.0 1207.5 L498.0 1207.5 L500.0 1207.4 L502.0 1207.3 L504.0 1207.2 L506.0 1207.1 L508.0 1207.0 L510.0 1206.9 L512.0 1206.8 L514.0 1206.7 L516.0 1206.6 L518.0 1206.5 L520.0 1206.3 L522.0 1206.2 L524.0 1206.1 L526.0 1206.0 L528.0 1205.9 L530.0 1205.8 L532.0 1205.6 L534.0 1205.5 L536.0 1205.4 L538.0 1205.3 L540.0 1205.1 L542.0 1205.0 L544.0 1204.8 L546.0 1204.7 L548.0 1204.6 L550.0 1204.4 L552.0 1204.3 L554.0 1204.1 L556.0 1204.0 L558.0 1203.8 L560.0 1203.7 L562.0 1203.5 L564.0 1203.4 L566.0 1203.2 L568.0 1203.0 L570.0 1202.9 L572.0 1202.7 L574.0 1202.5 L576.0 1202.3 L578.0 1202.2 L580.0 1202.0 L582.0 1201.8 L584.0 1201.6 L586.0 1201.4 L588.0 1201.2 L590.0 1201.0 L592.0 1200.8 L594.0 1200.6 L596.0 1200.4 L598.0 1200.2 L600.0 1200.0 L602.0 1199.8 L604.0 1199.6 L606.0 1199.4 L608.0 1199.1 L610.0 1198.9 L612.0 1198.7 L614.0 1198.4 L616.0 1198.2 L618.0 1197.9 L620.0 1197.7 L622.0 1197.4 L624.0 1197.2 L626.0 1196.9 L628.0 1196.6 L630.0 1196.4 L632.0 1196.1 L634.0 1195.8 L636.0 1195.5 L638.0 1195.2 L640.0 1194.9 L642.0 1194.6 L644.0 1194.3 L646.0 1194.0 L648.0 1193.7 L650.0 1193.3 L652.0 1193.0 L654.0 1192.6 L656.0 1192.3 L658.0 1191.9 L660.0 1191.5 L662.0 1191.1 L664.0 1190.8 L666.0 1190.4 L668.0 1189.9 L670.0 1189.5 L672.0 1189.1 L674.0 1188.6 L676.0 1188.2 L678.0 1187.7 L680.0 1187.3 L682.0 1186.8 L684.0 1186.3 L686.0 1185.7 L688.0 1185.2 L690.0 1184.7 L692.0 1184.1 L694.0 1183.5 L696.0 1183.0 L698.0 1182.3 L700.0 1181.7 L702.0 1181.1 L704.0 1180.4 L706.0 1179.7 L708.0 1179.1 L710.0 1178.3 L712.0 1177.6 L714.0 1176.8 L716.0 1176.1 L718.0 1175.3 L720.0 1174.4 L722.0 1173.6 L724.0 1172.7 L726.0 1171.8 L728.0 1170.9 L730.0 1169.9 L732.0 1168.9 L734.0 1167.9 L736.0 1166.9 L738.0 1165.8 L740.0 1164.7 L742.0 1163.5 L744.0 1162.4 L746.0 1161.2 L748.0 1159.9 L750.0 1158.6 L752.0 1157.3 L754.0 1155.9 L756.0 1154.5 L758.0 1153.1 L760.0 1151.6 L762.0 1150.0 L764.0 1148.4 L766.0 1146.8 L768.0 1145.1 L770.0 1143.4 L772.0 1141.6 L774.0 1139.7 L776.0 1137.8 L778.0 1135.8 L780.0 1133.8 L782.0 1131.7 L784.0 1129.5 L786.0 1127.2 L788.0 1124.9 L790.0 1122.5 L792.0 1120.1 L794.0 1117.5 L796.0 1114.9 L798.0 1112.2 L800.0 1109.4 L802.0 1106.6 L804.0 1103.6 L806.0 1100.5 L808.0 1097.4 L810.0 1094.1 L812.0 1090.8 L814.0 1087.3 L816.0 1083.7 L818.0 1080.1 L820.0 1076.3 L822.0 1072.4 L824.0 1068.4 L826.0 1064.3 L828.0 1060.0 L830.0 1055.7 L832.0 1051.2 L834.0 1046.6 L836.0 1041.8 L838.0 1037.0 L840.0 1032.0 L842.0 1026.9 L844.0 1021.6 L846.0 1016.2 L848.0 1010.7 L850.0 1005.0 L852.0 999.2 L854.0 993.2 L856.0 987.1 L858.0 980.9 L860.0 974.5 L862.0 968.0 L864.0 961.4 L866.0 954.6 L868.0 947.7 L870.0 940.6 L872.0 933.4 L874.0 926.1 L876.0 918.7 L878.0 911.1 L880.0 903.4 L882.0 895.7 L884.0 887.7 L886.0 879.7 L888.0 871.6 L890.0 863.4 L892.0 855.1 L894.0 846.7 L896.0 838.2 L898.0 829.6 L900.0 821.0 L902.0 812.3 L904.0 803.5 L906.0 794.7 L908.0 785.8 L910.0 776.9 L912.0 768.0 L914.0 759.0 L916.0 750.0 L918.0 741.0 L920.0 731.9 L922.0 722.9 L924.0 713.8 L926.0 704.8 L928.0 695.7 L930.0 686.6 L932.0 677.6 L934.0 668.5 L936.0 659.5 L938.0 650.5 L940.0 641.5 L942.0 632.5 L944.0 623.6 L946.0 614.7 L948.0 605.8 L950.0 597.0 L952.0 588.2 L954.0 579.4 L956.0 570.7 L958.0 562.0 L960.0 553.4 L962.0 544.8 L964.0 536.2 L966.0 527.8 L968.0 519.3 L970.0 511.0 L972.0 502.7 L974.0 494.5 L976.0 486.3 L978.0 478.3 L980.0 470.3 L982.0 462.4 L984.0 454.6 L986.0 447.0 L988.0 439.4 L990.0 431.9 L992.0 424.6 L994.0 417.3 L996.0 410.3 L998.0 403.3 L1000.0 396.5 L1002.0 389.9 L1004.0 383.4 L1006.0 377.0 L1008.0 370.9 L1010.0 364.9 L1012.0 359.1 L1014.0 353.6 L1016.0 348.2 L1018.0 343.0 L1020.0 338.0 L1022.0 333.3 L1024.0 328.8 L1026.0 324.5 L1028.0 320.4 L1030.0 316.6 L1032.0 313.1 L1034.0 309.8 L1036.0 306.8 L1038.0 304.0 L1040.0 301.5 L1042.0 299.3 L1044.0 297.4 L1046.0 295.8 L1048.0 294.4 L1050.0 293.4 L1052.0 292.6 L1054.0 292.2 L1056.0 292.0 L1058.0 292.2 L1060.0 292.6 L1062.0 293.4 L1064.0 294.5 L1066.0 295.9 L1068.0 297.5 L1070.0 299.5 L1072.0 301.8 L1074.0 304.4 L1076.0 307.3 L1078.0 310.5 L1080.0 313.9 L1082.0 317.7 L1084.0 321.7 L1086.0 326.0 L1088.0 330.6 L1090.0 335.4 L1092.0 340.5 L1094.0 345.8 L1096.0 351.4 L1098.0 357.2 L1100.0 363.3 L1102.0 369.6 L1104.0 376.1 L1106.0 382.8 L1108.0 389.7 L1110.0 396.8 L1112.0 404.1 L1114.0 411.5 L1116.0 419.2 L1118.0 427.0 L1120.0 434.9 L1122.0 443.0 L1124.0 451.2 L1126.0 459.5 L1128.0 468.0 L1130.0 476.5 L1132.0 485.2 L1134.0 493.9 L1136.0 502.8 L1138.0 511.7 L1140.0 520.6 L1142.0 529.7 L1144.0 538.7 L1146.0 547.8 L1148.0 557.0 L1150.0 566.2 L1152.0 575.4 L1154.0 584.6 L1156.0 593.9 L1158.0 603.1 L1160.0 612.4 L1162.0 621.7 L1164.0 630.9 L1166.0 640.2 L1168.0 649.4 L1170.0 658.6 L1172.0 667.8 L1174.0 677.0 L1176.0 686.1 L1178.0 695.3 L1180.0 704.3 L1182.0 713.4 L1184.0 722.4 L1186.0 731.3 L1188.0 740.2 L1190.0 749.1 L1192.0 757.8 L1194.0 766.6 L1196.0 775.2 L1198.0 783.8 L1200.0 792.4 L1202.0 800.8 L1204.0 809.2 L1206.0 817.5 L1208.0 825.7 L1210.0 833.8 L1212.0 841.8 L1214.0 849.7 L1216.0 857.6 L1218.0 865.3 L1220.0 872.9 L1222.0 880.5 L1224.0 887.9 L1226.0 895.2 L1228.0 902.4 L1230.0 909.5 L1232.0 916.4 L1234.0 923.3 L1236.0 930.0 L1238.0 936.6 L1240.0 943.1 L1242.0 949.5 L1244.0 955.7 L1246.0 961.9 L1248.0 967.9 L1250.0 973.8 L1252.0 979.5 L1254.0 985.2 L1256.0 990.7 L1258.0 996.1 L1260.0 1001.4 L1262.0 1006.5 L1264.0 1011.6 L1266.0 1016.5 L1268.0 1021.4 L1270.0 1026.1 L1272.0 1030.7 L1274.0 1035.2 L1276.0 1039.6 L1278.0 1043.9 L1280.0 1048.1 L1282.0 1052.2 L1284.0 1056.2 L1286.0 1060.1 L1288.0 1063.9 L1290.0 1067.6 L1292.0 1071.2 L1294.0 1074.8 L1296.0 1078.2 L1298.0 1081.6 L1300.0 1084.9 L1302.0 1088.1 L1304.0 1091.2 L1306.0 1094.3 L1308.0 1097.2 L1310.0 1100.1 L1312.0 1102.9 L1314.0 1105.7 L1316.0 1108.4 L1318.0 1111.0 L1320.0 1113.5 L1322.0 1116.0 L1324.0 1118.4 L1326.0 1120.8 L1328.0 1123.1 L1330.0 1125.3 L1332.0 1127.5 L1334.0 1129.6 L1336.0 1131.7 L1338.0 1133.7 L1340.0 1135.7 L1342.0 1137.6 L1344.0 1139.5 L1346.0 1141.3 L1348.0 1143.0 L1350.0 1144.8 L1352.0 1146.4 L1354.0 1148.1 L1356.0 1149.6 L1358.0 1151.2 L1360.0 1152.7 L1362.0 1154.2 L1364.0 1155.6 L1366.0 1157.0 L1368.0 1158.3 L1370.0 1159.6 L1372.0 1160.9 L1374.0 1162.2 L1376.0 1163.4 L1378.0 1164.6 L1380.0 1165.7 L1382.0 1166.8 L1384.0 1167.9 L1386.0 1169.0 L1388.0 1170.0 L1390.0 1171.0 L1392.0 1172.0 L1394.0 1173.0 L1396.0 1173.9 L1398.0 1174.8 L1400.0 1175.7 L1402.0 1176.6 L1404.0 1177.4 L1406.0 1178.2 L1408.0 1179.0 L1410.0 1179.8 L1412.0 1180.5 L1414.0 1181.3 L1416.0 1182.0 L1418.0 1182.7 L1420.0 1183.4 L1422.0 1184.0 L1424.0 1184.7 L1426.0 1185.3 L1428.0 1185.9 L1430.0 1186.5 L1432.0 1187.1 L1434.0 1187.7 L1436.0 1188.2 L1438.0 1188.8 L1440.0 1189.3 L1442.0 1189.8 L1444.0 1190.3 L1446.0 1190.8 L1448.0 1191.3 L1450.0 1191.7 L1452.0 1192.2 L1454.0 1192.6 L1456.0 1193.0 L1458.0 1193.5 L1460.0 1193.9 L1462.0 1194.3 L1464.0 1194.7 L1466.0 1195.0 L1468.0 1195.4 L1470.0 1195.8 L1472.0 1196.1 L1474.0 1196.5 L1476.0 1196.8 L1478.0 1197.1 L1480.0 1197.4 L1482.0 1197.7 L1484.0 1198.0 L1486.0 1198.3 L1488.0 1198.6 L1490.0 1198.9 L1492.0 1199.2 L1494.0 1199.5 L1496.0 1199.7 L1498.0 1200.0 L1500.0 1200.2 L1502.0 1200.5 L1504.0 1200.7 L1506.0 1201.0 L1508.0 1201.2 L1510.0 1201.4 L1512.0 1201.6 L1514.0 1201.9 L1516.0 1202.1 L1518.0 1202.3 L1519.0 1202.4 L1579.0 1205.9 L1930.0 1212.3" stroke="#ff00ff"/>
<path d="M188.0 1212.0 L190.0 1212.0 L192.0 1212.0 L194.0 1212.0 L196.0 1212.0 L198.0 1212.0 L200.0 1212.0 L202.0 1211.9 L204.0 1211.9 L206.0 1211.9 L208.0 1211.9 L210.0 1211.9 L212.0 1211.9 L214.0 1211.9 L216.0 1211.9 L218.0 1211.9 L220.0 1211.9 L222.0 1211.8 L224.0 1211.8 L226.0 1211.8 L228.0 1211.8 L230.0 1211.8 L232.0 1211.8 L234.0 1211.8 L236.0 1211.8 L238.0 1211.8 L240.0 1211.8 L242.0 1211.7 L244.0 1211.7 L246.0 1211.7 L248.0 1211.7 L250.0 1211.7 L252.0 1211.7 L254.0 1211.7 L256.0 1211.7 L258.0 1211.6 L260.0 1211.6 L262.0 1211.6 L264.0 1211.6 L266.0 1211.6 L268.0 1211.6 L270.0 1211.6 L272.0 1211.5 L274.0 1211.5 L276.0 1211.5 L278.0 1211.5 L280.0 1211.5 L282.0 1211.5 L284.0 1211.4 L286.0 1211.4 L288.0 1211.4 L290.0 1211.4 L292.0 1211.4 L294.0 1211.4 L296.0 1211.3 L298.0 1211.3 L300.0 1211.3 L302.0 1211.3 L304.0 1211.3 L306.0 1211.3 L308.0 1211.2 L310.0 1211.2 L312.0 1211.2 L314.0 1211.2 L316.0 1211.2 L318.0 1211.1 L320.0 1211.1 L322.0 1211.1 L324.0 1211.1 L326.0 1211.0 L328.0 1211.0 L330.0 1211.0 L332.0 1211.0 L334.0 1210.9 L336.0 1210.9 L338.0 1210.9 L340.0 1210.9 L342.0 1210.8 L344.0 1210.8 L346.0 1210.8 L348.0 1210.8 L350.0 1210.7 L352.0 1210.7 L354.0 1210.7 L356.0 1210.7 L358.0 1210.6 L360.0 1210.6 L362.0 1210.6 L364.0 1210.5 L366.0 1210.5 L368.0 1210.5 L370.0 1210.4 L372.0 1210.4 L374.0 1210.4 L376.0 1210.3 L378.0 1210.3 L380.0 1210.3 L382.0 1210.2 L384.0 1210.2 L386.0 1210.2 L388.0 1210.1 L390.0 1210.1 L392.0 1210.0 L394.0 1210.0 L396.0 1210.0 L398.0 1209.9 L400.0 1209.9 L402.0 1209.8 L404.0 1209.8 L406.0 1209.7 L408.0 1209.7 L410.0 1209.7 L412.0 1209.6 L414.0 1209.6 L416.0 1209.5 L418.0 1209.5 L420.0 1209.4 L422.0 1209.4 L424.0 1209.3 L426.0 1209.3 L428.0 1209.2 L430.0 1209.1 L432.0 1209.1 L434.0 1209.0 L436.0 1209.0 L438.0 1208.9 L440.0 1208.9 L442.0 1208.8 L444.0 1208.7 L446.0 1208.7 L448.0 1208.6 L450.0 1208.5 L452.0 1208.5 L454.0 1208.4 L456.0 1208.3 L458.0 1208.3 L460.0 1208.2 L462.0 1208.1 L464.0 1208.1 L466.0 1208.0 L468.0 1207.9 L470.0 1207.8 L472.0 1207.8 L474.0 1207.7 L476.0 1207.6 L478.0 1207.5 L480.0 1207.4 L482.0 1207.3 L484.0 1207.2 L486.0 1207.2 L488.0 1207.1 L490.0 1207.0 L492.0 1206.9 L494.0 1206.8 L496.0 1206.7 L498.0 1206.6 L500.0 1206.5 L502.0 1206.4 L504.0 1206.3 L506.0 1206.2 L508.0 1206.0 L510.0 1205.9 L512.0 1205.8 L514.0 1205.7 L516.0 1205.6 L518.0 1205.5 L520.0 1205.3 L522.0 1205.2 L524.0 1205.1 L526.0 1205.0 L528.0 1204.8 L530.0 1204.7 L532.0 1204.6 L534.0 1204.4 L536.0 1204.3 L538.0 1204.1 L540.0 1204.0 L542.0 1203.8 L544.0 1203.7 L546.0 1203.5 L548.0 1203.4 L550.0 1203.2 L552.0 1203.0 L554.0 1202.9 L556.0 1202.7 L558.0 1202.5 L560.0 1202.3 L562.0 1202.2 L564.0 1202.0 L566.0 1201.8 L568.0 1201.6 L570.0 1201.4 L572.0 1201.2 L574.0 1201.0 L576.0 1200.8 L578.0 1200.6 L580.0 1200.4 L582.0 1200.2 L584.0 1200.0 L586.0 1199.7 L588.0 1199.5 L590.0 1199.3 L592.0 1199.1 L594.0 1198.8 L596.0 1198.6 L598.0 1198.3 L600.0 1198.1 L602.0 1197.8 L604.0 1197.6 L606.0 1197.3 L608.0 1197.0 L610.0 1196.8 L612.0 1196.5 L614.0 1196.2 L616.0 1195.9 L618.0 1195.6 L620.0 1195.3 L622.0 1195.0 L624.0 1194.7 L626.0 1194.4 L628.0 1194.1 L630.0 1193.7 L632.0 1193.4 L634.0 1193.0 L636.0 1192.7 L638.0 1192.3 L640.0 1192.0 L642.0 1191.6 L644.0 1191.2 L646.0 1190.8 L648.0 1190.4 L650.0 1190.0 L652.0 1189.6 L654.0 1189.2 L656.0 1188.7 L658.0 1188.3 L660.0 1187.8 L662.0 1187.4 L664.0 1186.9 L666.0 1186.4 L668.0 1185.9 L670.0 1185.4 L672.0 1184.9 L674.0 1184.3 L676.0 1183.8 L678.0 1183.2 L680.0 1182.6 L682.0 1182.1 L684.0 1181.5 L686.0 1180.8 L688.0 1180.2 L690.0 1179.5 L692.0 1178.9 L694.0 1178.2 L696.0 1177.5 L698.0 1176.8 L700.0 1176.0 L702.0 1175.3 L704.0 1174.5 L706.0 1173.7 L708.0 1172.9 L710.0 1172.0 L712.0 1171.2 L714.0 1170.3 L716.0 1169.4 L718.0 1168.4 L720.0 1167.5 L722.0 1166.5 L724.0 1165.5 L726.0 1164.4 L728.0 1163.4 L730.0 1162.3 L732.0 1161.1 L734.0 1160.0 L736.0 1158.8 L738.0 1157.6 L740.0 1156.3 L742.0 1155.0 L744.0 1153.7 L746.0 1152.4 L748.0 1151.0 L750.0 1149.5 L752.0 1148.1 L754.0 1146.5 L756.0 1145.0 L758.0 1143.4 L760.0 1141.7 L762.0 1140.0 L764.0 1138.3 L766.0 1136.5 L768.0 1134.6 L770.0 1132.7 L772.0 1130.8 L774.0 1128.8 L776.0 1126.7 L778.0 1124.5 L780.0 1122.3 L782.0 1120.1 L784.0 1117.8 L786.0 1115.4 L788.0 1112.9 L790.0 1110.3 L792.0 1107.7 L794.0 1105.0 L796.0 1102.3 L798.0 1099.4 L800.0 1096.5 L802.0 1093.5 L804.0 1090.4 L806.0 1087.2 L808.0 1083.9 L810.0 1080.6 L812.0 1077.1 L814.0 1073.6 L816.0 1069.9 L818.0 1066.2 L820.0 1062.4 L822.0 1058.4 L824.0 1054.4 L826.0 1050.3 L828.0 1046.1 L830.0 1041.8 L832.0 1037.4 L834.0 1032.9 L836.0 1028.3 L838.0 1023.6 L840.0 1018.8 L842.0 1013.8 L844.0 1008.8 L846.0 1003.7 L848.0 998.5 L850.0 993.2 L852.0 987.8 L854.0 982.4 L856.0 976.8 L858.0 971.1 L860.0 965.3 L862.0 959.4 L864.0 953.4 L866.0 947.4 L868.0 941.2 L870.0 934.9 L872.0 928.6 L874.0 922.2 L876.0 915.6 L878.0 909.0 L880.0 902.3 L882.0 895.5 L884.0 888.6 L886.0 881.6 L888.0 874.6 L890.0 867.4 L892.0 860.2 L894.0 852.9 L896.0 845.5 L898.0 838.1 L900.0 830.5 L902.0 822.9 L904.0 815.2 L906.0 807.5 L908.0 799.6 L910.0 791.7 L912.0 783.8 L914.0 775.7 L916.0 767.6 L918.0 759.5 L920.0 751.2 L922.0 743.0 L924.0 734.6 L926.0 726.2 L928.0 717.7 L930.0 709.2 L932.0 700.7 L934.0 692.1 L936.0 683.4 L938.0 674.7 L940.0 665.9 L942.0 657.1 L944.0 648.2 L946.0 639.4 L948.0 630.4 L950.0 621.5 L952.0 612.4 L954.0 603.4 L956.0 594.3 L958.0 585.3 L960.0 576.2 L962.0 567.0 L964.0 557.9 L966.0 548.8 L968.0 539.6 L970.0 530.5 L972.0 521.4 L974.0 512.3 L976.0 503.3 L978.0 494.3 L980.0 485.3 L982.0 476.4 L984.0 467.6 L986.0 458.9 L988.0 450.2 L990.0 441.7 L992.0 433.3 L994.0 425.0 L996.0 416.8 L998.0 408.9 L1000.0 401.0 L1002.0 393.4 L1004.0 385.9 L1006.0 378.7 L1008.0 371.6 L1010.0 364.8 L1012.0 358.2 L1014.0 351.9 L1016.0 345.8 L1018.0 340.0 L1020.0 334.4 L1022.0 329.1 L1024.0 324.1 L1026.0 319.4 L1028.0 315.0 L1030.0 310.9 L1032.0 307.1 L1034.0 303.7 L1036.0 300.5 L1038.0 297.7 L1040.0 295.2 L1042.0 293.0 L1044.0 291.2 L1046.0 289.7 L1048.0 288.5 L1050.0 287.7 L1052.0 287.2 L1054.0 287.0 L1056.0 287.2 L1058.0 287.7 L1060.0 288.5 L1062.0 289.7 L1064.0 291.1 L1066.0 292.9 L1068.0 295.0 L1070.0 297.4 L1072.0 300.1 L1074.0 303.0 L1076.0 306.3 L1078.0 309.8 L1080.0 313.6 L1082.0 317.7 L1084.0 322.0 L1086.0 326.6 L1088.0 331.4 L1090.0 336.4 L1092.0 341.7 L1094.0 347.2 L1096.0 352.9 L1098.0 358.8 L1100.0 364.9 L1102.0 371.2 L1104.0 377.7 L1106.0 384.3 L1108.0 391.2 L1110.0 398.2 L1112.0 405.4 L1114.0 412.7 L1116.0 420.2 L1118.0 427.8 L1120.0 435.6 L1122.0 443.5 L1124.0 451.5 L1126.0 459.6 L1128.0 467.8 L1130.0 476.2 L1132.0 484.6 L1134.0 493.1 L1136.0 501.8 L1138.0 510.5 L1140.0 519.2 L1142.0 528.1 L1144.0 537.0 L1146.0 545.9 L1148.0 554.9 L1150.0 564.0 L1152.0 573.0 L1154.0 582.2 L1156.0 591.3 L1158.0 600.5 L1160.0 609.7 L1162.0 618.9 L1164.0 628.1 L1166.0 637.3 L1168.0 646.5 L1170.0 655.7 L1172.0 664.9 L1174.0 674.1 L1176.0 683.2 L1178.0 692.4 L1180.0 701.5 L1182.0 710.5 L1184.0 719.6 L1186.0 728.5 L1188.0 737.5 L1190.0 746.3 L1192.0 755.2 L1194.0 763.9 L1196.0 772.6 L1198.0 781.3 L1200.0 789.8 L1202.0 798.3 L1204.0 806.7 L1206.0 815.1 L1208.0 823.3 L1210.0 831.4 L1212.0 839.5 L1214.0 847.5 L1216.0 855.3 L1218.0 863.1 L1220.0 870.8 L1222.0 878.3 L1224.0 885.8 L1226.0 893.1 L1228.0 900.3 L1230.0 907.4 L1232.0 914.4 L1234.0 921.3 L1236.0 928.1 L1238.0 934.7 L1240.0 941.2 L1242.0 947.6 L1244.0 953.9 L1246.0 960.1 L1248.0 966.1 L1250.0 972.0 L1252.0 977.8 L1254.0 983.5 L1256.0 989.1 L1258.0 994.5 L1260.0 999.8 L1262.0 1005.0 L1264.0 1010.1 L1266.0 1015.1 L1268.0 1020.0 L1270.0 1024.7 L1272.0 1029.3 L1274.0 1033.9 L1276.0 1038.3 L1278.0 1042.6 L1280.0 1046.8 L1282.0 1051.0 L1284.0 1055.0 L1286.0 1058.9 L1288.0 1062.7 L1290.0 1066.4 L1292.0 1070.1 L1294.0 1073.6 L1296.0 1077.1 L1298.0 1080.5 L1300.0 1083.8 L1302.0 1087.0 L1304.0 1090.1 L1306.0 1093.1 L1308.0 1096.1 L1310.0 1099.0 L1312.0 1101.8 L1314.0 1104.6 L1316.0 1107.3 L1318.0 1109.9 L1320.0 1112.4 L1322.0 1114.9 L1324.0 1117.3 L1326.0 1119.6 L1328.0 1121.9 L1330.0 1124.2 L1332.0 1126.3 L1334.0 1128.4 L1336.0 1130.5 L1338.0 1132.5 L1340.0 1134.5 L1342.0 1136.4 L1344.0 1138.2 L1346.0 1140.0 L1348.0 1141.8 L1350.0 1143.5 L1352.0 1145.2 L1354.0 1146.8 L1356.0 1148.4 L1358.0 1149.9 L1360.0 1151.4 L1362.0 1152.9 L1364.0 1154.3 L1366.0 1155.7 L1368.0 1157.1 L1370.0 1158.4 L1372.0 1159.7 L1374.0 1160.9 L1376.0 1162.2 L1378.0 1163.3 L1380.0 1164.5 L1382.0 1165.6 L1384.0 1166.7 L1386.0 1167.8 L1388.0 1168.9 L1390.0 1169.9 L1392.0 1170.9 L1394.0 1171.8 L1396.0 1172.8 L1398.0 1173.7 L1400.0 1174.6 L1402.0 1175.5 L1404.0 1176.3 L1406.0 1177.2 L1408.0 1178.0 L1410.0 1178.8 L1412.0 1179.6 L1414.0 1180.3 L1416.0 1181.1 L1418.0 1181.8 L1420.0 1182.5 L1422.0 1183.2 L1424.0 1183.8 L1426.0 1184.5 L1428.0 1185.1 L1430.0 1185.7 L1432.0 1186.3 L1434.0 1186.9 L1436.0 1187.5 L1438.0 1188.0 L1440.0 1188.6 L1442.0 1189.1 L1444.0 1189.6 L1446.0 1190.1 L1448.0 1190.6 L1450.0 1191.1 L1452.0 1191.6 L1454.0 1192.0 L1456.0 1192.5 L1458.0 1192.9 L1460.0 1193.4 L1462.0 1193.8 L1464.0 1194.2 L1466.0 1194.6 L1468.0 1195.0 L1470.0 1195.3 L1472.0 1195.7 L1474.0 1196.1 L1476.0 1196.4 L1478.0 1196.8 L1480.0 1197.1 L1482.0 1197.4 L1484.0 1197.8 L1486.0 1198.1 L1488.0 1198.4 L1490.0 1198.7 L1492.0 1199.0 L1494.0 1199.3 L1496.0 1199.5 L1498.0 1199.8 L1500.0 1200.1 L1502.0 1200.3 L1504.0 1200.6 L1506.0 1200.9 L1508.0 1201.1 L1510.0 1201.3 L1512.0 1201.6 L1514.0 1201.8 L1516.0 1202.1 L1518.0 1202.3 L1519.0 1202.4 L1579.0 1205.7 L1930.0 1211.7" stroke="#ffff00"/>
<path d="M188.0 1211.5 L190.0 1211.5 L192.0 1211.5 L194.0 1211.5 L196.0 1211.5 L198.0 1211.5 L200.0 1211.4 L202.0 1211.4 L204.0 1211.4 L206.0 1211.4 L208.0 1211.4 L210.0 1211.4 L212.0 1211.4 L214.0 1211.4 L216.0 1211.4 L218.0 1211.3 L220.0 1211.3 L222.0 1211.3 L224.0 1211.3 L226.0 1211.3 L228.0 1211.3 L230.0 1211.3 L232.0 1211.3 L234.0 1211.2 L236.0 1211.2 L238.0 1211.2 L240.0 1211.2 L242.0 1211.2 L244.0 1211.2 L246.0 1211.2 L248.0 1211.1 L250.0 1211.1 L252.0 1211.1 L254.0 1211.1 L256.0 1211.1 L258.0 1211.1 L260.0 1211.1 L262.0 1211.0 L264.0 1211.0 L266.0 1211.0 L268.0 1211.0 L270.0 1211.0 L272.0 1211.0 L274.0 1210.9 L276.0 1210.9 L278.0 1210.9 L280.0 1210.9 L282.0 1210.9 L284.0 1210.8 L286.0 1210.8 L288.0 1210.8 L290.0 1210.8 L292.0 1210.8 L294.0 1210.7 L296.0 1210.7 L298.0 1210.7 L300.0 1210.7 L302.0 1210.6 L304.0 1210.6 L306.0 1210.6 L308.0 1210.6 L310.0 1210.5 L312.0 1210.5 L314.0 1210.5 L316.0 1210.5 L318.0 1210.4 L320.0 1210.4 L322.0 1210.4 L324.0 1210.4 L326.0 1210.3 L328.0 1210.3 L330.0 1210.3 L332.0 1210.3 L334.0 1210.2 L336.0 1210.2 L338.0 1210.2 L340.0 1210.1 L342.0 1210.1 L344.0 1210.1 L346.0 1210.0 L348.0 1210.0 L350.0 1210.0 L352.0 1209.9 L354.0 1209.9 L356.0 1209.9 L358.0 1209.8 L360.0 1209.8 L362.0 1209.7 L364.0 1209.7 L366.0 1209.7 L368.0 1209.6 L370.0 1209.6 L372.0 1209.6 L374.0 1209.5 L376.0 1209.5 L378.0 1209.4 L380.0 1209.4 L382.0 1209.3 L384.0 1209.3 L386.0 1209.2 L388.0 1209.2 L390.0 1209.2 L392.0 1209.1 L394.0 1209.1 L396.0 1209.0 L398.0 1209.0 L400.0 1208.9 L402.0 1208.9 L404.0 1208.8 L406.0 1208.7 L408.0 1208.7 L410.0 1208.6 L412.0 1208.6 L414.0 1208.5 L416.0 1208.5 L418.0 1208.4 L420.0 1208.3 L422.0 1208.3 L424.0 1208.2 L426.0 1208.1 L428.0 1208.1 L430.0 1208.0 L432.0 1207.9 L434.0 1207.9 L436.0 1207.8 L438.0 1207.7 L440.0 1207.7 L442.0 1207.6 L444.0 1207.5 L446.0 1207.4 L448.0 1207.4 L450.0 1207.3 L452.0 1207.2 L454.0 1207.1 L456.0 1207.0 L458.0 1206.9 L460.0 1206.9 L462.0 1206.8 L464.0 1206.7 L466.0 1206.6 L468.0 1206.5 L470.0 1206.4 L472.0 1206.3 L474.0 1206.2 L476.0 1206.1 L478.0 1206.0 L480.0 1205.9 L482.0 1205.8 L484.0 1205.7 L486.0 1205.6 L488.0 1205.5 L490.0 1205.4 L492.0 1205.2 L494.0 1205.1 L496.0 1205.0 L498.0 1204.9 L500.0 1204.8 L502.0 1204.6 L504.0 1204.5 L506.0 1204.4 L508.0 1204.2 L510.0 1204.1 L512.0 1204.0 L514.0 1203.8 L516.0 1203.7 L518.0 1203.5 L520.0 1203.4 L522.0 1203.2 L524.0 1203.1 L526.0 1202.9 L528.0 1202.7 L530.0 1202.6 L532.0 1202.4 L534.0 1202.2 L536.0 1202.1 L538.0 1201.9 L540.0 1201.7 L542.0 1201.5 L544.0 1201.4 L546.0 1201.2 L548.0 1201.0 L550.0 1200.8 L552.0 1200.6 L554.0 1200.4 L556.0 1200.2 L558.0 1200.0 L560.0 1199.8 L562.0 1199.5 L564.0 1199.3 L566.0 1199.1 L568.0 1198.9 L570.0 1198.7 L572.0 1198.4 L574.0 1198.2 L576.0 1197.9 L578.0 1197.7 L580.0 1197.5 L582.0 1197.2 L584.0 1196.9 L586.0 1196.7 L588.0 1196.4 L590.0 1196.2 L592.0 1195.9 L594.0 1195.6 L596.0 1195.3 L598.0 1195.0 L600.0 1194.8 L602.0 1194.5 L604.0 1194.2 L606.0 1193.9 L608.0 1193.6 L610.0 1193.2 L612.0 1192.9 L614.0 1192.6 L616.0 1192.3 L618.0 1191.9 L620.0 1191.6 L622.0 1191.2 L624.0 1190.9 L626.0 1190.5 L628.0 1190.1 L630.0 1189.8 L632.0 1189.4 L634.0 1189.0 L636.0 1188.6 L638.0 1188.2 L640.0 1187.8 L642.0 1187.3 L644.0 1186.9 L646.0 1186.5 L648.0 1186.0 L650.0 1185.6 L652.0 1185.1 L654.0 1184.6 L656.0 1184.1 L658.0 1183.6 L660.0 1183.1 L662.0 1182.5 L664.0 1182.0 L666.0 1181.4 L668.0 1180.9 L670.0 1180.3 L672.0 1179.7 L674.0 1179.1 L676.0 1178.4 L678.0 1177.8 L680.0 1177.1 L682.0 1176.5 L684.0 1175.8 L686.0 1175.1 L688.0 1174.3 L690.0 1173.6 L692.0 1172.8 L694.0 1172.0 L696.0 1171.2 L698.0 1170.4 L700.0 1169.5 L702.0 1168.6 L704.0 1167.7 L706.0 1166.8 L708.0 1165.9 L710.0 1164.9 L712.0 1163.9 L714.0 1162.9 L716.0 1161.8 L718.0 1160.7 L720.0 1159.6 L722.0 1158.5 L724.0 1157.3 L726.0 1156.1 L728.0 1154.8 L730.0 1153.6 L732.0 1152.2 L734.0 1150.9 L736.0 1149.5 L738.0 1148.0 L740.0 1146.5 L742.0 1145.0 L744.0 1143.4 L746.0 1141.8 L748.0 1140.1 L750.0 1138.4 L752.0 1136.6 L754.0 1134.7 L756.0 1132.8 L758.0 1130.8 L760.0 1128.7 L762.0 1126.6 L764.0 1124.4 L766.0 1122.1 L768.0 1119.7 L770.0 1117.3 L772.0 1114.8 L774.0 1112.1 L776.0 1109.4 L778.0 1106.6 L780.0 1103.7 L782.0 1100.7 L784.0 1097.5 L786.0 1094.3 L788.0 1091.0 L790.0 1087.5 L792.0 1083.9 L794.0 1080.2 L796.0 1076.4 L798.0 1072.5 L800.0 1068.5 L802.0 1064.3 L804.0 1060.0 L806.0 1055.5 L808.0 1051.0 L810.0 1046.3 L812.0 1041.4 L814.0 1036.5 L816.0 1031.4 L818.0 1026.1 L820.0 1020.8 L822.0 1015.3 L824.0 1009.6 L826.0 1003.8 L828.0 997.9 L830.0 991.9 L832.0 985.7 L834.0 979.4 L836.0 973.0 L838.0 966.4 L840.0 959.7 L842.0 952.9 L844.0 945.9 L846.0 938.8 L848.0 931.6 L850.0 924.3 L852.0 916.9 L854.0 909.4 L856.0 901.7 L858.0 894.0 L860.0 886.1 L862.0 878.2 L864.0 870.1 L866.0 862.0 L868.0 853.8 L870.0 845.5 L872.0 837.1 L874.0 828.7 L876.0 820.2 L878.0 811.6 L880.0 803.0 L882.0 794.3 L884.0 785.6 L886.0 776.8 L888.0 768.0 L890.0 759.2 L892.0 750.4 L894.0 741.5 L896.0 732.6 L898.0 723.7 L900.0 714.8 L902.0 705.8 L904.0 696.9 L906.0 687.9 L908.0 679.0 L910.0 670.0 L912.0 661.1 L914.0 652.2 L916.0 643.2 L918.0 634.3 L920.0 625.4 L922.0 616.4 L924.0 607.5 L926.0 598.6 L928.0 589.7 L930.0 580.8 L932.0 572.0 L934.0 563.1 L936.0 554.3 L938.0 545.5 L940.0 536.7 L942.0 527.9 L944.0 519.2 L946.0 510.5 L948.0 501.8 L950.0 493.2 L952.0 484.6 L954.0 476.1 L956.0 467.7 L958.0 459.3 L960.0 451.0 L962.0 442.8 L964.0 434.7 L966.0 426.8 L968.0 418.9 L970.0 411.1 L972.0 403.5 L974.0 396.1 L976.0 388.7 L978.0 381.6 L980.0 374.6 L982.0 367.8 L984.0 361.3 L986.0 354.9 L988.0 348.7 L990.0 342.7 L992.0 337.0 L994.0 331.5 L996.0 326.3 L998.0 321.3 L1000.0 316.6 L1002.0 312.1 L1004.0 307.9 L1006.0 304.0 L1008.0 300.4 L1010.0 297.0 L1012.0 294.0 L1014.0 291.2 L1016.0 288.7 L1018.0 286.6 L1020.0 284.7 L1022.0 283.2 L1024.0 281.9 L1026.0 281.0 L1028.0 280.4 L1030.0 280.0 L1031.0 280.0 L1033.0 280.2 L1035.0 280.6 L1037.0 281.4 L1039.0 282.5 L1041.0 283.9 L1043.0 285.6 L1045.0 287.5 L1047.0 289.8 L1049.0 292.3 L1051.0 295.2 L1053.0 298.3 L1055.0 301.6 L1057.0 305.3 L1059.0 309.1 L1061.0 313.3 L1063.0 317.6 L1065.0 322.2 L1067.0 327.1 L1069.0 332.1 L1071.0 337.4 L1073.0 342.9 L1075.0 348.6 L1077.0 354.5 L1079.0 360.6 L1081.0 366.9 L1083.0 373.4 L1085.0 380.0 L1087.0 386.9 L1089.0 393.8 L1091.0 401.0 L1093.0 408.2 L1095.0 415.7 L1097.0 423.2 L1099.0 430.9 L1101.0 438.7 L1103.0 446.7 L1105.0 454.7 L1107.0 462.9 L1109.0 471.1 L1111.0 479.4 L1113.0 487.9 L1115.0 496.4 L1117.0 505.0 L1119.0 513.6 L1121.0 522.3 L1123.0 531.1 L1125.0 540.0 L1127.0 548.8 L1129.0 557.8 L1131.0 566.7 L1133.0 575.7 L1135.0 584.7 L1137.0 593.8 L1139.0 602.8 L1141.0 611.9 L1143.0 620.9 L1145.0 630.0 L1147.0 639.1 L1149.0 648.2 L1151.0 657.2 L1153.0 666.3 L1155.0 675.3 L1157.0 684.3 L1159.0 693.2 L1161.0 702.2 L1163.0 711.1 L1165.0 719.9 L1167.0 728.7 L1169.0 737.5 L1171.0 746.2 L1173.0 754.9 L1175.0 763.5 L1177.0 772.0 L1179.0 780.5 L1181.0 788.9 L1183.0 797.2 L1185.0 805.5 L1187.0 813.7 L1189.0 821.8 L1191.0 829.8 L1193.0 837.7 L1195.0 845.6 L1197.0 853.3 L1199.0 860.9 L1201.0 868.5 L1203.0 875.9 L1205.0 883.3 L1207.0 890.5 L1209.0 897.7 L1211.0 904.7 L1213.0 911.7 L1215.0 918.5 L1217.0 925.2 L1219.0 931.8 L1221.0 938.3 L1223.0 944.7 L1225.0 950.9 L1227.0 957.1 L1229.0 963.1 L1231.0 969.0 L1233.0 974.8 L1235.0 980.5 L1237.0 986.1 L1239.0 991.6 L1241.0 997.0 L1243.0 1002.2 L1245.0 1007.4 L1247.0 1012.4 L1249.0 1017.3 L1251.0 1022.2 L1253.0 1026.9 L1255.0 1031.5 L1257.0 1036.0 L1259.0 1040.4 L1261.0 1044.8 L1263.0 1049.0 L1265.0 1053.1 L1267.0 1057.1 L1269.0 1061.1 L1271.0 1064.9 L1273.0 1068.7 L1275.0 1072.3 L1277.0 1075.9 L1279.0 1079.4 L1281.0 1082.8 L1283.0 1086.2 L1285.0 1089.4 L1287.0 1092.6 L1289.0 1095.7 L1291.0 1098.7 L1293.0 1101.7 L1295.0 1104.5 L1297.0 1107.3 L1299.0 1110.1 L1301.0 1112.7 L1303.0 1115.3 L1305.0 1117.8 L1307.0 1120.3 L1309.0 1122.7 L1311.0 1125.0 L1313.0 1127.3 L1315.0 1129.5 L1317.0 1131.7 L1319.0 1133.8 L1321.0 1135.8 L1323.0 1137.8 L1325.0 1139.7 L1327.0 1141.6 L1329.0 1143.4 L1331.0 1145.2 L1333.0 1146.9 L1335.0 1148.6 L1337.0 1150.2 L1339.0 1151.8 L1341.0 1153.4 L1343.0 1154.9 L1345.0 1156.3 L1347.0 1157.8 L1349.0 1159.1 L1351.0 1160.5 L1353.0 1161.8 L1355.0 1163.0 L1357.0 1164.3 L1359.0 1165.5 L1361.0 1166.6 L1363.0 1167.7 L1365.0 1168.8 L1367.0 1169.9 L1369.0 1170.9 L1371.0 1171.9 L1373.0 1172.9 L1375.0 1173.9 L1377.0 1174.8 L1379.0 1175.7 L1381.0 1176.6 L1383.0 1177.4 L1385.0 1178.2 L1387.0 1179.0 L1389.0 1179.8 L1391.0 1180.6 L1393.0 1181.3 L1395.0 1182.0 L1397.0 1182.7 L1399.0 1183.4 L1401.0 1184.0 L1403.0 1184.7 L1405.0 1185.3 L1407.0 1185.9 L1409.0 1186.5 L1411.0 1187.0 L1413.0 1187.6 L1415.0 1188.1 L1417.0 1188.6 L1419.0 1189.1 L1421.0 1189.6 L1423.0 1190.1 L1425.0 1190.6 L1427.0 1191.0 L1429.0 1191.5 L1431.0 1191.9 L1433.0 1192.3 L1435.0 1192.7 L1437.0 1193.1 L1439.0 1193.5 L1441.0 1193.8 L1443.0 1194.2 L1445.0 1194.6 L1447.0 1194.9 L1449.0 1195.2 L1451.0 1195.5 L1453.0 1195.8 L1455.0 1196.1 L1457.0 1196.4 L1459.0 1196.7 L1461.0 1197.0 L1463.0 1197.3 L1465.0 1197.5 L1467.0 1197.8 L1469.0 1198.0 L1471.0 1198.3 L1473.0 1198.5 L1475.0 1198.7 L1477.0 1198.9 L1479.0 1199.1 L1481.0 1199.3 L1483.0 1199.5 L1485.0 1199.7 L1487.0 1199.9 L1489.0 1200.1 L1491.0 1200.3 L1493.0 1200.5 L1495.0 1200.6 L1497.0 1200.8 L1499.0 1201.0 L1501.0 1201.1 L1503.0 1201.3 L1505.0 1201.4 L1507.0 1201.6 L1509.0 1201.7 L1511.0 1201.9 L1513.0 1202.0 L1515.0 1202.1 L1517.0 1202.3 L1519.0 1202.4 L1579.0 1205.5 L1930.0 1211.2" stroke="#808000"/>
<path d="M188.0 1211.0 L190.0 1211.0 L192.0 1211.0 L194.0 1211.0 L196.0 1211.0 L198.0 1210.9 L200.0 1210.9 L202.0 1210.9 L204.0 1210.9 L206.0 1210.9 L208.0 1210.9 L210.0 1210.9 L212.0 1210.9 L214.0 1210.9 L216.0 1210.8 L218.0 1210.8 L220.0 1210.8 L222.0 1210.8 L224.0 1210.8 L226.0 1210.8 L228.0 1210.8 L230.0 1210.8 L232.0 1210.7 L234.0 1210.7 L236.0 1210.7 L238.0 1210.7 L240.0 1210.7 L242.0 1210.7 L244.0 1210.6 L246.0 1210.6 L248.0 1210.6 L250.0 1210.6 L252.0 1210.6 L254.0 1210.6 L256.0 1210.5 L258.0 1210.5 L260.0 1210.5 L262.0 1210.5 L264.0 1210.5 L266.0 1210.5 L268.0 1210.4 L270.0 1210.4 L272.0 1210.4 L274.0 1210.4 L276.0 1210.4 L278.0 1210.3 L280.0 1210.3 L282.0 1210.3 L284.0 1210.3 L286.0 1210.2 L288.0 1210.2 L290.0 1210.2 L292.0 1210.2 L294.0 1210.2 L296.0 1210.1 L298.0 1210.1 L300.0 1210.1 L302.0 1210.1 L304.0 1210.0 L306.0 1210.0 L308.0 1210.0 L310.0 1209.9 L312.0 1209.9 L314.0 1209.9 L316.0 1209.9 L318.0 1209.8 L320.0 1209.8 L322.0 1209.8 L324.0 1209.7 L326.0 1209.7 L328.0 1209.7 L330.0 1209.6 L332.0 1209.6 L334.0 1209.6 L336.0 1209.5 L338.0 1209.5 L340.0 1209.5 L342.0 1209.4 L344.0 1209.4 L346.0 1209.4 L348.0 1209.3 L350.0 1209.3 L352.0 1209.3 L354.0 1209.2 L356.0 1209.2 L358.0 1209.1 L360.0 1209.1 L362.0 1209.1 L364.0 1209.0 L366.0 1209.0 L368.0 1208.9 L370.0 1208.9 L372.0 1208.8 L374.0 1208.8 L376.0 1208.8 L378.0 1208.7 L380.0 1208.7 L382.0 1208.6 L384.0 1208.6 L386.0 1208.5 L388.0 1208.5 L390.0 1208.4 L392.0 1208.4 L394.0 1208.3 L396.0 1208.2 L398.0 1208.2 L400.0 1208.1 L402.0 1208.1 L404.0 1208.0 L406.0 1208.0 L408.0 1207.9 L410.0 1207.8 L412.0 1207.8 L414.0 1207.7 L416.0 1207.6 L418.0 1207.6 L420.0 1207.5 L422.0 1207.4 L424.0 1207.4 L426.0 1207.3 L428.0 1207.2 L430.0 1207.2 L432.0 1207.1 L434.0 1207.0 L436.0 1206.9 L438.0 1206.9 L440.0 1206.8 L442.0 1206.7 L444.0 1206.6 L446.0 1206.5 L448.0 1206.5 L450.0 1206.4 L452.0 1206.3 L454.0 1206.2 L456.0 1206.1 L458.0 1206.0 L460.0 1205.9 L462.0 1205.8 L464.0 1205.7 L466.0 1205.6 L468.0 1205.5 L470.0 1205.4 L472.0 1205.3 L474.0 1205.2 L476.0 1205.1 L478.0 1205.0 L480.0 1204.9 L482.0 1204.8 L484.0 1204.7 L486.0 1204.5 L488.0 1204.4 L490.0 1204.3 L492.0 1204.2 L494.0 1204.1 L496.0 1203.9 L498.0 1203.8 L500.0 1203.7 L502.0 1203.5 L504.0 1203.4 L506.0 1203.3 L508.0 1203.1 L510.0 1203.0 L512.0 1202.8 L514.0 1202.7 L516.0 1202.5 L518.0 1202.4 L520.0 1202.2 L522.0 1202.1 L524.0 1201.9 L526.0 1201.7 L528.0 1201.6 L530.0 1201.4 L532.0 1201.2 L534.0 1201.0 L536.0 1200.9 L538.0 1200.7 L540.0 1200.5 L542.0 1200.3 L544.0 1200.1 L546.0 1199.9 L548.0 1199.7 L550.0 1199.5 L552.0 1199.3 L554.0 1199.1 L556.0 1198.9 L558.0 1198.7 L560.0 1198.5 L562.0 1198.3 L564.0 1198.0 L566.0 1197.8 L568.0 1197.6 L570.0 1197.4 L572.0 1197.1 L574.0 1196.9 L576.0 1196.7 L578.0 1196.4 L580.0 1196.2 L582.0 1195.9 L584.0 1195.7 L586.0 1195.4 L588.0 1195.2 L590.0 1194.9 L592.0 1194.7 L594.0 1194.4 L596.0 1194.1 L598.0 1193.8 L600.0 1193.6 L602.0 1193.3 L604.0 1193.0 L606.0 1192.7 L608.0 1192.4 L610.0 1192.1 L612.0 1191.8 L614.0 1191.5 L616.0 1191.2 L618.0 1190.9 L620.0 1190.6 L622.0 1190.2 L624.0 1189.9 L626.0 1189.6 L628.0 1189.2 L630.0 1188.9 L632.0 1188.5 L634.0 1188.2 L636.0 1187.8 L638.0 1187.4 L640.0 1187.0 L642.0 1186.7 L644.0 1186.3 L646.0 1185.9 L648.0 1185.4 L650.0 1185.0 L652.0 1184.6 L654.0 1184.2 L656.0 1183.7 L658.0 1183.2 L660.0 1182.8 L662.0 1182.3 L664.0 1181.8 L666.0 1181.3 L668.0 1180.8 L670.0 1180.2 L672.0 1179.7 L674.0 1179.1 L676.0 1178.6 L678.0 1178.0 L680.0 1177.4 L682.0 1176.8 L684.0 1176.1 L686.0 1175.5 L688.0 1174.8 L690.0 1174.1 L692.0 1173.4 L694.0 1172.7 L696.0 1171.9 L698.0 1171.2 L700.0 1170.4 L702.0 1169.6 L704.0 1168.7 L706.0 1167.9 L708.0 1167.0 L710.0 1166.1 L712.0 1165.1 L714.0 1164.2 L716.0 1163.2 L718.0 1162.2 L720.0 1161.1 L722.0 1160.1 L724.0 1158.9 L726.0 1157.8 L728.0 1156.6 L730.0 1155.4 L732.0 1154.2 L734.0 1152.9 L736.0 1151.6 L738.0 1150.2 L740.0 1148.8 L742.0 1147.4 L744.0 1145.9 L746.0 1144.4 L748.0 1142.8 L750.0 1141.2 L752.0 1139.5 L754.0 1137.8 L756.0 1136.1 L758.0 1134.2 L760.0 1132.3 L762.0 1130.4 L764.0 1128.4 L766.0 1126.3 L768.0 1124.2 L770.0 1122.0 L772.0 1119.8 L774.0 1117.4 L776.0 1115.0 L778.0 1112.5 L780.0 1110.0 L782.0 1107.4 L784.0 1104.6 L786.0 1101.8 L788.0 1099.0 L790.0 1096.0 L792.0 1092.9 L794.0 1089.8 L796.0 1086.6 L798.0 1083.2 L800.0 1079.8 L802.0 1076.3 L804.0 1072.7 L806.0 1069.0 L808.0 1065.1 L810.0 1061.2 L812.0 1057.2 L814.0 1053.1 L816.0 1048.8 L818.0 1044.5 L820.0 1040.1 L822.0 1035.5 L824.0 1030.9 L826.0 1026.1 L828.0 1021.2 L830.0 1016.3 L832.0 1011.2 L834.0 1006.0 L836.0 1000.7 L838.0 995.3 L840.0 989.7 L842.0 984.1 L844.0 978.4 L846.0 972.5 L848.0 966.6 L850.0 960.5 L852.0 954.3 L854.0 948.1 L856.0 941.7 L858.0 935.2 L860.0 928.6 L862.0 921.9 L864.0 915.1 L866.0 908.2 L868.0 901.3 L870.0 894.2 L872.0 887.0 L874.0 879.7 L876.0 872.4 L878.0 864.9 L880.0 857.4 L882.0 849.7 L884.0 842.0 L886.0 834.2 L888.0 826.4 L890.0 818.4 L892.0 810.4 L894.0 802.3 L896.0 794.2 L898.0 786.0 L900.0 777.7 L902.0 769.3 L904.0 760.9 L906.0 752.5 L908.0 744.0 L910.0 735.4 L912.0 726.9 L914.0 718.2 L916.0 709.6 L918.0 700.9 L920.0 692.1 L922.0 683.4 L924.0 674.6 L926.0 665.8 L928.0 657.0 L930.0 648.1 L932.0 639.3 L934.0 630.4 L936.0 621.6 L938.0 612.7 L940.0 603.9 L942.0 595.1 L944.0 586.3 L946.0 577.5 L948.0 568.7 L950.0 559.9 L952.0 551.2 L954.0 542.6 L956.0 533.9 L958.0 525.4 L960.0 516.8 L962.0 508.4 L964.0 500.0 L966.0 491.7 L968.0 483.4 L970.0 475.2 L972.0 467.2 L974.0 459.2 L976.0 451.3 L978.0 443.5 L980.0 435.9 L982.0 428.3 L984.0 420.9 L986.0 413.6 L988.0 406.5 L990.0 399.5 L992.0 392.6 L994.0 385.9 L996.0 379.4 L998.0 373.0 L1000.0 366.8 L1002.0 360.8 L1004.0 355.0 L1006.0 349.4 L1008.0 343.9 L1010.0 338.6 L1012.0 333.6 L1014.0 328.7 L1016.0 324.1 L1018.0 319.7 L1020.0 315.5 L1022.0 311.5 L1024.0 307.7 L1026.0 304.2 L1028.0 300.9 L1030.0 297.9 L1032.0 295.0 L1034.0 292.4 L1036.0 290.1 L1038.0 288.0 L1040.0 286.1 L1042.0 284.5 L1044.0 283.1 L1046.0 282.0 L1048.0 281.1 L1050.0 280.5 L1052.0 280.1 L1054.0 280.0 L1056.0 280.1 L1058.0 280.5 L1060.0 281.1 L1062.0 282.0 L1064.0 283.1 L1066.0 284.5 L1068.0 286.1 L1070.0 288.0 L1072.0 290.1 L1074.0 292.4 L1076.0 295.0 L1078.0 297.8 L1080.0 300.8 L1082.0 304.1 L1084.0 307.6 L1086.0 311.3 L1088.0 315.2 L1090.0 319.4 L1092.0 323.7 L1094.0 328.3 L1096.0 333.0 L1098.0 338.0 L1100.0 343.1 L1102.0 348.5 L1104.0 354.0 L1106.0 359.7 L1108.0 365.6 L1110.0 371.6 L1112.0 377.8 L1114.0 384.2 L1116.0 390.8 L1118.0 397.5 L1120.0 404.3 L1122.0 411.3 L1124.0 418.4 L1126.0 425.7 L1128.0 433.0 L1130.0 440.5 L1132.0 448.2 L1134.0 455.9 L1136.0 463.7 L1138.0 471.7 L1140.0 479.7 L1142.0 487.9 L1144.0 496.1 L1146.0 504.4 L1148.0 512.8 L1150.0 521.2 L1152.0 529.7 L1154.0 538.3 L1156.0 546.9 L1158.0 555.6 L1160.0 564.3 L1162.0 573.1 L1164.0 581.9 L1166.0 590.7 L1168.0 599.5 L1170.0 608.4 L1172.0 617.3 L1174.0 626.2 L1176.0 635.1 L1178.0 644.0 L1180.0 652.8 L1182.0 661.7 L1184.0 670.6 L1186.0 679.4 L1188.0 688.3 L1190.0 697.1 L1192.0 705.8 L1194.0 714.6 L1196.0 723.3 L1198.0 731.9 L1200.0 740.5 L1202.0 749.0 L1204.0 757.5 L1206.0 766.0 L1208.0 774.3 L1210.0 782.6 L1212.0 790.9 L1214.0 799.0 L1216.0 807.1 L1218.0 815.1 L1220.0 823.0 L1222.0 830.8 L1224.0 838.6 L1226.0 846.2 L1228.0 853.7 L1230.0 861.2 L1232.0 868.5 L1234.0 875.7 L1236.0 882.9 L1238.0 889.9 L1240.0 896.8 L1242.0 903.5 L1244.0 910.2 L1246.0 916.7 L1248.0 923.2 L1250.0 929.5 L1252.0 935.7 L1254.0 941.7 L1256.0 947.7 L1258.0 953.5 L1260.0 959.2 L1262.0 964.7 L1264.0 970.2 L1266.0 975.5 L1268.0 980.7 L1270.0 985.8 L1272.0 990.7 L1274.0 995.6 L1276.0 1000.3 L1278.0 1004.9 L1280.0 1009.4 L1282.0 1013.8 L1284.0 1018.1 L1286.0 1022.3 L1288.0 1026.4 L1290.0 1030.4 L1292.0 1034.3 L1294.0 1038.1 L1296.0 1041.8 L1298.0 1045.5 L1300.0 1049.0 L1302.0 1052.5 L1304.0 1055.9 L1306.0 1059.2 L1308.0 1062.5 L1310.0 1065.6 L1312.0 1068.8 L1314.0 1071.8 L1316.0 1074.8 L1318.0 1077.7 L1320.0 1080.6 L1322.0 1083.4 L1324.0 1086.1 L1326.0 1088.8 L1328.0 1091.5 L1330.0 1094.1 L1332.0 1096.6 L1334.0 1099.1 L1336.0 1101.5 L1338.0 1103.9 L1340.0 1106.3 L1342.0 1108.6 L1344.0 1110.8 L1346.0 1113.1 L1348.0 1115.2 L1350.0 1117.4 L1352.0 1119.4 L1354.0 1121.5 L1356.0 1123.5 L1358.0 1125.4 L1360.0 1127.3 L1362.0 1129.2 L1364.0 1131.0 L1366.0 1132.8 L1368.0 1134.6 L1370.0 1136.3 L1372.0 1138.0 L1374.0 1139.6 L1376.0 1141.2 L1378.0 1142.8 L1380.0 1144.3 L1382.0 1145.8 L1384.0 1147.2 L1386.0 1148.6 L1388.0 1150.0 L1390.0 1151.4 L1392.0 1152.7 L1394.0 1154.0 L1396.0 1155.3 L1398.0 1156.5 L1400.0 1157.7 L1402.0 1158.9 L1404.0 1160.0 L1406.0 1161.1 L1408.0 1162.2 L1410.0 1163.3 L1412.0 1164.4 L1414.0 1165.4 L1416.0 1166.4 L1418.0 1167.4 L1420.0 1168.4 L1422.0 1169.4 L1424.0 1170.3 L1426.0 1171.2 L1428.0 1172.1 L1430.0 1173.0 L1432.0 1173.9 L1434.0 1174.8 L1436.0 1175.6 L1438.0 1176.5 L1440.0 1177.3 L1442.0 1178.1 L1444.0 1178.9 L1446.0 1179.7 L1448.0 1180.5 L1450.0 1181.3 L1452.0 1182.0 L1454.0 1182.8 L1456.0 1183.5 L1458.0 1184.3 L1460.0 1185.0 L1462.0 1185.7 L1464.0 1186.4 L1466.0 1187.1 L1468.0 1187.8 L1470.0 1188.5 L1472.0 1189.2 L1474.0 1189.8 L1476.0 1190.5 L1478.0 1191.1 L1480.0 1191.8 L1482.0 1192.4 L1484.0 1193.0 L1486.0 1193.6 L1488.0 1194.3 L1490.0 1194.8 L1492.0 1195.4 L1494.0 1196.0 L1496.0 1196.6 L1498.0 1197.1 L1500.0 1197.7 L1502.0 1198.2 L1504.0 1198.7 L1506.0 1199.3 L1508.0 1199.8 L1510.0 1200.3 L1512.0 1200.8 L1514.0 1201.2 L1516.0 1201.7 L1518.0 1202.2 L1519.0 1202.4 L1579.0 1205.3 L1930.0 1210.6" stroke="#000080"/>
<path d="M188.0 1210.0 L190.0 1210.0 L192.0 1210.0 L194.0 1210.0 L196.0 1210.0 L198.0 1209.9 L200.0 1209.9 L202.0 1209.9 L204.0 1209.9 L206.0 1209.9 L208.0 1209.9 L210.0 1209.9 L212.0 1209.9 L214.0 1209.8 L216.0 1209.8 L218.0 1209.8 L220.0 1209.8 L222.0 1209.8 L224.0 1209.8 L226.0 1209.8 L228.0 1209.7 L230.0 1209.7 L232.0 1209.7 L234.0 1209.7 L236.0 1209.7 L238.0 1209.7 L240.0 1209.7 L242.0 1209.6 L244.0 1209.6 L246.0 1209.6 L248.0 1209.6 L250.0 1209.6 L252.0 1209.5 L254.0 1209.5 L256.0 1209.5 L258.0 1209.5 L260.0 1209.5 L262.0 1209.5 L264.0 1209.4 L266.0 1209.4 L268.0 1209.4 L270.0 1209.4 L272.0 1209.3 L274.0 1209.3 L276.0 1209.3 L278.0 1209.3 L280.0 1209.3 L282.0 1209.2 L284.0 1209.2 L286.0 1209.2 L288.0 1209.2 L290.0 1209.1 L292.0 1209.1 L294.0 1209.1 L296.0 1209.1 L298.0 1209.0 L300.0 1209.0 L302.0 1209.0 L304.0 1208.9 L306.0 1208.9 L308.0 1208.9 L310.0 1208.9 L312.0 1208.8 L314.0 1208.8 L316.0 1208.8 L318.0 1208.7 L320.0 1208.7 L322.0 1208.7 L324.0 1208.6 L326.0 1208.6 L328.0 1208.6 L330.0 1208.5 L332.0 1208.5 L334.0 1208.5 L336.0 1208.4 L338.0 1208.4 L340.0 1208.4 L342.0 1208.3 L344.0 1208.3 L346.0 1208.2 L348.0 1208.2 L350.0 1208.2 L352.0 1208.1 L354.0 1208.1 L356.0 1208.0 L358.0 1208.0 L360.0 1207.9 L362.0 1207.9 L364.0 1207.8 L366.0 1207.8 L368.0 1207.7 L370.0 1207.7 L372.0 1207.6 L374.0 1207.6 L376.0 1207.5 L378.0 1207.5 L380.0 1207.4 L382.0 1207.4 L384.0 1207.3 L386.0 1207.3 L388.0 1207.2 L390.0 1207.2 L392.0 1207.1 L394.0 1207.0 L396.0 1207.0 L398.0 1206.9 L400.0 1206.9 L402.0 1206.8 L404.0 1206.7 L406.0 1206.7 L408.0 1206.6 L410.0 1206.5 L412.0 1206.5 L414.0 1206.4 L416.0 1206.3 L418.0 1206.2 L420.0 1206.2 L422.0 1206.1 L424.0 1206.0 L426.0 1205.9 L428.0 1205.9 L430.0 1205.8 L432.0 1205.7 L434.0 1205.6 L436.0 1205.5 L438.0 1205.4 L440.0 1205.4 L442.0 1205.3 L444.0 1205.2 L446.0 1205.1 L448.0 1205.0 L450.0 1204.9 L452.0 1204.8 L454.0 1204.7 L456.0 1204.6 L458.0 1204.5 L460.0 1204.4 L462.0 1204.3 L464.0 1204.2 L466.0 1204.1 L468.0 1203.9 L470.0 1203.8 L472.0 1203.7 L474.0 1203.6 L476.0 1203.5 L478.0 1203.3 L480.0 1203.2 L482.0 1203.1 L484.0 1203.0 L486.0 1202.8 L488.0 1202.7 L490.0 1202.6 L492.0 1202.4 L494.0 1202.3 L496.0 1202.1 L498.0 1202.0 L500.0 1201.8 L502.0 1201.7 L504.0 1201.5 L506.0 1201.4 L508.0 1201.2 L510.0 1201.0 L512.0 1200.9 L514.0 1200.7 L516.0 1200.5 L518.0 1200.4 L520.0 1200.2 L522.0 1200.0 L524.0 1199.8 L526.0 1199.6 L528.0 1199.4 L530.0 1199.2 L532.0 1199.0 L534.0 1198.8 L536.0 1198.6 L538.0 1198.4 L540.0 1198.2 L542.0 1198.0 L544.0 1197.8 L546.0 1197.6 L548.0 1197.4 L550.0 1197.1 L552.0 1196.9 L554.0 1196.7 L556.0 1196.4 L558.0 1196.2 L560.0 1196.0 L562.0 1195.7 L564.0 1195.5 L566.0 1195.2 L568.0 1195.0 L570.0 1194.7 L572.0 1194.4 L574.0 1194.2 L576.0 1193.9 L578.0 1193.7 L580.0 1193.4 L582.0 1193.1 L584.0 1192.8 L586.0 1192.6 L588.0 1192.3 L590.0 1192.0 L592.0 1191.7 L594.0 1191.4 L596.0 1191.1 L598.0 1190.8 L600.0 1190.5 L602.0 1190.2 L604.0 1189.9 L606.0 1189.6 L608.0 1189.3 L610.0 1189.0 L612.0 1188.6 L614.0 1188.3 L616.0 1188.0 L618.0 1187.6 L620.0 1187.3 L622.0 1186.9 L624.0 1186.5 L626.0 1186.2 L628.0 1185.8 L630.0 1185.4 L632.0 1185.0 L634.0 1184.6 L636.0 1184.2 L638.0 1183.8 L640.0 1183.3 L642.0 1182.9 L644.0 1182.4 L646.0 1181.9 L648.0 1181.5 L650.0 1181.0 L652.0 1180.4 L654.0 1179.9 L656.0 1179.4 L658.0 1178.8 L660.0 1178.2 L662.0 1177.6 L664.0 1177.0 L666.0 1176.4 L668.0 1175.7 L670.0 1175.0 L672.0 1174.3 L674.0 1173.6 L676.0 1172.8 L678.0 1172.1 L680.0 1171.3 L682.0 1170.4 L684.0 1169.6 L686.0 1168.7 L688.0 1167.7 L690.0 1166.8 L692.0 1165.8 L694.0 1164.7 L696.0 1163.7 L698.0 1162.6 L700.0 1161.4 L702.0 1160.2 L704.0 1159.0 L706.0 1157.7 L708.0 1156.4 L710.0 1155.1 L712.0 1153.7 L714.0 1152.2 L716.0 1150.7 L718.0 1149.1 L720.0 1147.5 L722.0 1145.9 L724.0 1144.1 L726.0 1142.4 L728.0 1140.5 L730.0 1138.7 L732.0 1136.7 L734.0 1134.7 L736.0 1132.6 L738.0 1130.5 L740.0 1128.3 L742.0 1126.0 L744.0 1123.6 L746.0 1121.2 L748.0 1118.7 L750.0 1116.2 L752.0 1113.6 L754.0 1110.8 L756.0 1108.1 L758.0 1105.2 L760.0 1102.2 L762.0 1099.2 L764.0 1096.1 L766.0 1092.9 L768.0 1089.6 L770.0 1086.2 L772.0 1082.7 L774.0 1079.2 L776.0 1075.5 L778.0 1071.7 L780.0 1067.9 L782.0 1063.9 L784.0 1059.8 L786.0 1055.6 L788.0 1051.3 L790.0 1046.9 L792.0 1042.4 L794.0 1037.7 L796.0 1033.0 L798.0 1028.1 L800.0 1023.0 L802.0 1017.9 L804.0 1012.6 L806.0 1007.2 L808.0 1001.7 L810.0 996.0 L812.0 990.2 L814.0 984.2 L816.0 978.2 L818.0 971.9 L820.0 965.6 L822.0 959.1 L824.0 952.4 L826.0 945.6 L828.0 938.7 L830.0 931.6 L832.0 924.4 L834.0 917.0 L836.0 909.6 L838.0 901.9 L840.0 894.2 L842.0 886.3 L844.0 878.3 L846.0 870.2 L848.0 861.9 L850.0 853.5 L852.0 845.0 L854.0 836.4 L856.0 827.7 L858.0 818.8 L860.0 809.9 L862.0 800.9 L864.0 791.8 L866.0 782.5 L868.0 773.2 L870.0 763.9 L872.0 754.4 L874.0 744.9 L876.0 735.3 L878.0 725.7 L880.0 716.0 L882.0 706.3 L884.0 696.6 L886.0 686.8 L888.0 677.0 L890.0 667.2 L892.0 657.4 L894.0 647.5 L896.0 637.7 L898.0 627.9 L900.0 618.2 L902.0 608.4 L904.0 598.7 L906.0 589.1 L908.0 579.5 L910.0 570.0 L912.0 560.5 L914.0 551.1 L916.0 541.8 L918.0 532.6 L920.0 523.5 L922.0 514.5 L924.0 505.6 L926.0 496.8 L928.0 488.2 L930.0 479.6 L932.0 471.2 L934.0 463.0 L936.0 454.9 L938.0 446.9 L940.0 439.0 L942.0 431.4 L944.0 423.9 L946.0 416.5 L948.0 409.3 L950.0 402.3 L952.0 395.4 L954.0 388.8 L956.0 382.3 L958.0 375.9 L960.0 369.8 L962.0 363.8 L964.0 358.1 L966.0 352.5 L968.0 347.2 L970.0 342.0 L972.0 337.0 L974.0 332.2 L976.0 327.7 L978.0 323.3 L980.0 319.2 L982.0 315.3 L984.0 311.6 L986.0 308.1 L988.0 304.8 L990.0 301.8 L992.0 299.0 L994.0 296.4 L996.0 294.1 L998.0 292.0 L1000.0 290.1 L1002.0 288.5 L1004.0 287.1 L1006.0 286.0 L1008.0 285.1 L1010.0 284.5 L1012.0 284.1 L1014.0 284.0 L1016.0 284.1 L1018.0 284.5 L1020.0 285.2 L1022.0 286.1 L1024.0 287.3 L1026.0 288.7 L1028.0 290.4 L1030.0 292.4 L1032.0 294.6 L1034.0 297.1 L1036.0 299.9 L1038.0 302.9 L1040.0 306.2 L1042.0 309.7 L1044.0 313.5 L1046.0 317.6 L1048.0 321.9 L1050.0 326.4 L1052.0 331.2 L1054.0 336.3 L1056.0 341.6 L1058.0 347.1 L1060.0 352.8 L1062.0 358.8 L1064.0 364.9 L1066.0 371.3 L1068.0 377.9 L1070.0 384.7 L1072.0 391.6 L1074.0 398.8 L1076.0 406.1 L1078.0 413.6 L1080.0 421.2 L1082.0 429.0 L1084.0 437.0 L1086.0 445.1 L1088.0 453.3 L1090.0 461.6 L1092.0 470.1 L1094.0 478.6 L1096.0 487.3 L1098.0 496.0 L1100.0 504.9 L1102.0 513.8 L1104.0 522.7 L1106.0 531.8 L1108.0 540.9 L1110.0 550.0 L1112.0 559.1 L1114.0 568.3 L1116.0 577.6 L1118.0 586.8 L1120.0 596.1 L1122.0 605.3 L1124.0 614.6 L1126.0 623.8 L1128.0 633.0 L1130.0 642.2 L1132.0 651.4 L1134.0 660.6 L1136.0 669.7 L1138.0 678.7 L1140.0 687.7 L1142.0 696.7 L1144.0 705.6 L1146.0 714.5 L1148.0 723.2 L1150.0 732.0 L1152.0 740.6 L1154.0 749.2 L1156.0 757.6 L1158.0 766.0 L1160.0 774.4 L1162.0 782.6 L1164.0 790.7 L1166.0 798.8 L1168.0 806.8 L1170.0 814.6 L1172.0 822.4 L1174.0 830.1 L1176.0 837.7 L1178.0 845.1 L1180.0 852.5 L1182.0 859.8 L1184.0 867.0 L1186.0 874.1 L1188.0 881.1 L1190.0 888.0 L1192.0 894.9 L1194.0 901.6 L1196.0 908.2 L1198.0 914.7 L1200.0 921.2 L1202.0 927.5 L1204.0 933.7 L1206.0 939.9 L1208.0 945.9 L1210.0 951.9 L1212.0 957.7 L1214.0 963.5 L1216.0 969.2 L1218.0 974.8 L1220.0 980.3 L1222.0 985.7 L1224.0 991.0 L1226.0 996.2 L1228.0 1001.3 L1230.0 1006.3 L1232.0 1011.3 L1234.0 1016.1 L1236.0 1020.9 L1238.0 1025.5 L1240.0 1030.1 L1242.0 1034.6 L1244.0 1038.9 L1246.0 1043.2 L1248.0 1047.4 L1250.0 1051.5 L1252.0 1055.6 L1254.0 1059.5 L1256.0 1063.3 L1258.0 1067.1 L1260.0 1070.7 L1262.0 1074.3 L1264.0 1077.8 L1266.0 1081.2 L1268.0 1084.5 L1270.0 1087.7 L1272.0 1090.9 L1274.0 1093.9 L1276.0 1096.9 L1278.0 1099.8 L1280.0 1102.7 L1282.0 1105.4 L1284.0 1108.1 L1286.0 1110.7 L1288.0 1113.3 L1290.0 1115.8 L1292.0 1118.2 L1294.0 1120.5 L1296.0 1122.8 L1298.0 1125.0 L1300.0 1127.2 L1302.0 1129.3 L1304.0 1131.3 L1306.0 1133.3 L1308.0 1135.2 L1310.0 1137.1 L1312.0 1138.9 L1314.0 1140.7 L1316.0 1142.4 L1318.0 1144.1 L1320.0 1145.7 L1322.0 1147.3 L1324.0 1148.8 L1326.0 1150.3 L1328.0 1151.8 L1330.0 1153.2 L1332.0 1154.6 L1334.0 1156.0 L1336.0 1157.3 L1338.0 1158.6 L1340.0 1159.8 L1342.0 1161.0 L1344.0 1162.2 L1346.0 1163.3 L1348.0 1164.5 L1350.0 1165.5 L1352.0 1166.6 L1354.0 1167.6 L1356.0 1168.6 L1358.0 1169.6 L1360.0 1170.6 L1362.0 1171.5 L1364.0 1172.4 L1366.0 1173.3 L1368.0 1174.2 L1370.0 1175.0 L1372.0 1175.8 L1374.0 1176.6 L1376.0 1177.4 L1378.0 1178.1 L1380.0 1178.9 L1382.0 1179.6 L1384.0 1180.3 L1386.0 1181.0 L1388.0 1181.6 L1390.0 1182.3 L1392.0 1182.9 L1394.0 1183.5 L1396.0 1184.1 L1398.0 1184.7 L1400.0 1185.3 L1402.0 1185.8 L1404.0 1186.4 L1406.0 1186.9 L1408.0 1187.4 L1410.0 1187.9 L1412.0 1188.4 L1414.0 1188.9 L1416.0 1189.4 L1418.0 1189.8 L1420.0 1190.2 L1422.0 1190.7 L1424.0 1191.1 L1426.0 1191.5 L1428.0 1191.9 L1430.0 1192.3 L1432.0 1192.7 L1434.0 1193.0 L1436.0 1193.4 L1438.0 1193.7 L1440.0 1194.1 L1442.0 1194.4 L1444.0 1194.7 L1446.0 1195.0 L1448.0 1195.3 L1450.0 1195.6 L1452.0 1195.9 L1454.0 1196.2 L1456.0 1196.5 L1458.0 1196.7 L1460.0 1197.0 L1462.0 1197.3 L1464.0 1197.5 L1466.0 1197.7 L1468.0 1198.0 L1470.0 1198.2 L1472.0 1198.4 L1474.0 1198.6 L1476.0 1198.9 L1478.0 1199.1 L1480.0 1199.3 L1482.0 1199.5 L1484.0 1199.7 L1486.0 1199.8 L1488.0 1200.0 L1490.0 1200.2 L1492.0 1200.4 L1494.0 1200.5 L1496.0 1200.7 L1498.0 1200.9 L1500.0 1201.0 L1502.0 1201.2 L1504.0 1201.3 L1506.0 1201.5 L1508.0 1201.6 L1510.0 1201.8 L1512.0 1201.9 L1514.0 1202.1 L1516.0 1202.2 L1518.0 1202.3 L1519.0 1202.4 L1579.0 1205.1 L1930.0 1210.1" stroke="#800080"/>
<path d="M188.0 1209.0 L190.0 1209.0 L192.0 1209.0 L194.0 1209.0 L196.0 1209.0 L198.0 1208.9 L200.0 1208.9 L202.0 1208.9 L204.0 1208.9 L206.0 1208.9 L208.0 1208.9 L210.0 1208.9 L212.0 1208.9 L214.0 1208.8 L216.0 1208.8 L218.0 1208.8 L220.0 1208.8 L222.0 1208.8 L224.0 1208.8 L226.0 1208.7 L228.0 1208.7 L230.0 1208.7 L232.0 1208.7 L234.0 1208.7 L236.0 1208.7 L238.0 1208.6 L240.0 1208.6 L242.0 1208.6 L244.0 1208.6 L246.0 1208.6 L248.0 1208.6 L250.0 1208.5 L252.0 1208.5 L254.0 1208.5 L256.0 1208.5 L258.0 1208.5 L260.0 1208.4 L262.0 1208.4 L264.0 1208.4 L266.0 1208.4 L268.0 1208.3 L270.0 1208.3 L272.0 1208.3 L274.0 1208.3 L276.0 1208.3 L278.0 1208.2 L280.0 1208.2 L282.0 1208.2 L284.0 1208.2 L286.0 1208.1 L288.0 1208.1 L290.0 1208.1 L292.0 1208.0 L294.0 1208.0 L296.0 1208.0 L298.0 1208.0 L300.0 1207.9 L302.0 1207.9 L304.0 1207.9 L306.0 1207.8 L308.0 1207.8 L310.0 1207.8 L312.0 1207.7 L314.0 1207.7 L316.0 1207.7 L318.0 1207.6 L320.0 1207.6 L322.0 1207.6 L324.0 1207.5 L326.0 1207.5 L328.0 1207.5 L330.0 1207.4 L332.0 1207.4 L334.0 1207.3 L336.0 1207.3 L338.0 1207.3 L340.0 1207.2 L342.0 1207.2 L344.0 1207.1 L346.0 1207.1 L348.0 1207.0 L350.0 1207.0 L352.0 1207.0 L354.0 1206.9 L356.0 1206.9 L358.0 1206.8 L360.0 1206.8 L362.0 1206.7 L364.0 1206.7 L366.0 1206.6 L368.0 1206.6 L370.0 1206.5 L372.0 1206.5 L374.0 1206.4 L376.0 1206.3 L378.0 1206.3 L380.0 1206.2 L382.0 1206.2 L384.0 1206.1 L386.0 1206.0 L388.0 1206.0 L390.0 1205.9 L392.0 1205.9 L394.0 1205.8 L396.0 1205.7 L398.0 1205.7 L400.0 1205.6 L402.0 1205.5 L404.0 1205.4 L406.0 1205.4 L408.0 1205.3 L410.0 1205.2 L412.0 1205.1 L414.0 1205.1 L416.0 1205.0 L418.0 1204.9 L420.0 1204.8 L422.0 1204.7 L424.0 1204.7 L426.0 1204.6 L428.0 1204.5 L430.0 1204.4 L432.0 1204.3 L434.0 1204.2 L436.0 1204.1 L438.0 1204.0 L440.0 1203.9 L442.0 1203.8 L444.0 1203.7 L446.0 1203.6 L448.0 1203.5 L450.0 1203.4 L452.0 1203.3 L454.0 1203.2 L456.0 1203.1 L458.0 1203.0 L460.0 1202.8 L462.0 1202.7 L464.0 1202.6 L466.0 1202.5 L468.0 1202.4 L470.0 1202.2 L472.0 1202.1 L474.0 1202.0 L476.0 1201.8 L478.0 1201.7 L480.0 1201.6 L482.0 1201.4 L484.0 1201.3 L486.0 1201.1 L488.0 1201.0 L490.0 1200.8 L492.0 1200.7 L494.0 1200.5 L496.0 1200.3 L498.0 1200.2 L500.0 1200.0 L502.0 1199.8 L504.0 1199.7 L506.0 1199.5 L508.0 1199.3 L510.0 1199.1 L512.0 1198.9 L514.0 1198.7 L516.0 1198.5 L518.0 1198.3 L520.0 1198.1 L522.0 1197.9 L524.0 1197.7 L526.0 1197.5 L528.0 1197.3 L530.0 1197.1 L532.0 1196.9 L534.0 1196.6 L536.0 1196.4 L538.0 1196.2 L540.0 1195.9 L542.0 1195.7 L544.0 1195.5 L546.0 1195.2 L548.0 1195.0 L550.0 1194.7 L552.0 1194.4 L554.0 1194.2 L556.0 1193.9 L558.0 1193.6 L560.0 1193.4 L562.0 1193.1 L564.0 1192.8 L566.0 1192.5 L568.0 1192.2 L570.0 1192.0 L572.0 1191.7 L574.0 1191.4 L576.0 1191.1 L578.0 1190.8 L580.0 1190.5 L582.0 1190.2 L584.0 1189.8 L586.0 1189.5 L588.0 1189.2 L590.0 1188.9 L592.0 1188.6 L594.0 1188.2 L596.0 1187.9 L598.0 1187.5 L600.0 1187.2 L602.0 1186.8 L604.0 1186.5 L606.0 1186.1 L608.0 1185.8 L610.0 1185.4 L612.0 1185.0 L614.0 1184.6 L616.0 1184.2 L618.0 1183.8 L620.0 1183.4 L622.0 1183.0 L624.0 1182.5 L626.0 1182.1 L628.0 1181.7 L630.0 1181.2 L632.0 1180.7 L634.0 1180.2 L636.0 1179.7 L638.0 1179.2 L640.0 1178.7 L642.0 1178.1 L644.0 1177.6 L646.0 1177.0 L648.0 1176.4 L650.0 1175.8 L652.0 1175.2 L654.0 1174.5 L656.0 1173.8 L658.0 1173.1 L660.0 1172.4 L662.0 1171.7 L664.0 1170.9 L666.0 1170.1 L668.0 1169.3 L670.0 1168.4 L672.0 1167.5 L674.0 1166.6 L676.0 1165.6 L678.0 1164.6 L680.0 1163.6 L682.0 1162.6 L684.0 1161.5 L686.0 1160.3 L688.0 1159.1 L690.0 1157.9 L692.0 1156.6 L694.0 1155.3 L696.0 1154.0 L698.0 1152.6 L700.0 1151.1 L702.0 1149.6 L704.0 1148.1 L706.0 1146.5 L708.0 1144.8 L710.0 1143.1 L712.0 1141.3 L714.0 1139.5 L716.0 1137.6 L718.0 1135.6 L720.0 1133.6 L722.0 1131.6 L724.0 1129.4 L726.0 1127.2 L728.0 1124.9 L730.0 1122.6 L732.0 1120.2 L734.0 1117.7 L736.0 1115.1 L738.0 1112.5 L740.0 1109.8 L742.0 1107.0 L744.0 1104.1 L746.0 1101.2 L748.0 1098.2 L750.0 1095.0 L752.0 1091.8 L754.0 1088.5 L756.0 1085.1 L758.0 1081.6 L760.0 1078.1 L762.0 1074.4 L764.0 1070.6 L766.0 1066.7 L768.0 1062.7 L770.0 1058.6 L772.0 1054.4 L774.0 1050.1 L776.0 1045.7 L778.0 1041.1 L780.0 1036.4 L782.0 1031.6 L784.0 1026.7 L786.0 1021.6 L788.0 1016.4 L790.0 1011.1 L792.0 1005.6 L794.0 1000.0 L796.0 994.3 L798.0 988.4 L800.0 982.4 L802.0 976.3 L804.0 970.0 L806.0 963.5 L808.0 956.9 L810.0 950.2 L812.0 943.3 L814.0 936.3 L816.0 929.2 L818.0 921.9 L820.0 914.5 L822.0 906.9 L824.0 899.2 L826.0 891.4 L828.0 883.5 L830.0 875.4 L832.0 867.2 L834.0 858.9 L836.0 850.5 L838.0 842.0 L840.0 833.4 L842.0 824.7 L844.0 815.9 L846.0 806.9 L848.0 798.0 L850.0 788.9 L852.0 779.7 L854.0 770.5 L856.0 761.2 L858.0 751.9 L860.0 742.5 L862.0 733.0 L864.0 723.5 L866.0 714.0 L868.0 704.4 L870.0 694.8 L872.0 685.2 L874.0 675.5 L876.0 665.9 L878.0 656.2 L880.0 646.5 L882.0 636.9 L884.0 627.2 L886.0 617.6 L888.0 608.0 L890.0 598.4 L892.0 588.9 L894.0 579.4 L896.0 569.9 L898.0 560.5 L900.0 551.1 L902.0 541.9 L904.0 532.7 L906.0 523.5 L908.0 514.5 L910.0 505.5 L912.0 496.7 L914.0 487.9 L916.0 479.3 L918.0 470.7 L920.0 462.3 L922.0 454.1 L924.0 446.0 L926.0 438.0 L928.0 430.2 L930.0 422.5 L932.0 415.0 L934.0 407.7 L936.0 400.5 L938.0 393.5 L940.0 386.8 L942.0 380.2 L944.0 373.8 L946.0 367.7 L948.0 361.7 L950.0 356.0 L952.0 350.5 L954.0 345.2 L956.0 340.2 L958.0 335.4 L960.0 330.8 L962.0 326.5 L964.0 322.5 L966.0 318.6 L968.0 315.1 L970.0 311.8 L972.0 308.7 L974.0 305.9 L976.0 303.4 L978.0 301.1 L980.0 299.1 L982.0 297.3 L984.0 295.8 L986.0 294.5 L988.0 293.5 L990.0 292.8 L992.0 292.3 L994.0 292.0 L995.0 292.0 L997.0 292.1 L999.0 292.5 L1001.0 293.1 L1003.0 294.0 L1005.0 295.1 L1007.0 296.4 L1009.0 298.0 L1011.0 299.8 L1013.0 301.9 L1015.0 304.1 L1017.0 306.6 L1019.0 309.4 L1021.0 312.3 L1023.0 315.5 L1025.0 318.8 L1027.0 322.4 L1029.0 326.2 L1031.0 330.2 L1033.0 334.4 L1035.0 338.8 L1037.0 343.4 L1039.0 348.2 L1041.0 353.2 L1043.0 358.4 L1045.0 363.8 L1047.0 369.3 L1049.0 375.0 L1051.0 380.9 L1053.0 387.0 L1055.0 393.2 L1057.0 399.6 L1059.0 406.2 L1061.0 412.9 L1063.0 419.8 L1065.0 426.8 L1067.0 434.0 L1069.0 441.3 L1071.0 448.8 L1073.0 456.3 L1075.0 464.1 L1077.0 471.9 L1079.0 479.9 L1081.0 488.0 L1083.0 496.2 L1085.0 504.5 L1087.0 512.9 L1089.0 521.4 L1091.0 530.0 L1093.0 538.7 L1095.0 547.4 L1097.0 556.2 L1099.0 565.1 L1101.0 574.0 L1103.0 583.0 L1105.0 592.0 L1107.0 601.1 L1109.0 610.2 L1111.0 619.3 L1113.0 628.4 L1115.0 637.5 L1117.0 646.6 L1119.0 655.7 L1121.0 664.8 L1123.0 673.8 L1125.0 682.8 L1127.0 691.8 L1129.0 700.7 L1131.0 709.6 L1133.0 718.5 L1135.0 727.2 L1137.0 735.9 L1139.0 744.6 L1141.0 753.1 L1143.0 761.6 L1145.0 770.0 L1147.0 778.3 L1149.0 786.6 L1151.0 794.7 L1153.0 802.8 L1155.0 810.7 L1157.0 818.5 L1159.0 826.3 L1161.0 833.9 L1163.0 841.5 L1165.0 848.9 L1167.0 856.3 L1169.0 863.5 L1171.0 870.7 L1173.0 877.7 L1175.0 884.6 L1177.0 891.4 L1179.0 898.1 L1181.0 904.8 L1183.0 911.3 L1185.0 917.7 L1187.0 924.0 L1189.0 930.2 L1191.0 936.3 L1193.0 942.3 L1195.0 948.2 L1197.0 953.9 L1199.0 959.6 L1201.0 965.2 L1203.0 970.7 L1205.0 976.1 L1207.0 981.4 L1209.0 986.6 L1211.0 991.7 L1213.0 996.7 L1215.0 1001.6 L1217.0 1006.4 L1219.0 1011.2 L1221.0 1015.8 L1223.0 1020.3 L1225.0 1024.8 L1227.0 1029.1 L1229.0 1033.4 L1231.0 1037.6 L1233.0 1041.6 L1235.0 1045.6 L1237.0 1049.6 L1239.0 1053.4 L1241.0 1057.1 L1243.0 1060.8 L1245.0 1064.4 L1247.0 1067.9 L1249.0 1071.3 L1251.0 1074.7 L1253.0 1077.9 L1255.0 1081.1 L1257.0 1084.2 L1259.0 1087.3 L1261.0 1090.3 L1263.0 1093.2 L1265.0 1096.0 L1267.0 1098.8 L1269.0 1101.5 L1271.0 1104.1 L1273.0 1106.7 L1275.0 1109.2 L1277.0 1111.6 L1279.0 1114.0 L1281.0 1116.3 L1283.0 1118.6 L1285.0 1120.8 L1287.0 1122.9 L1289.0 1125.0 L1291.0 1127.1 L1293.0 1129.1 L1295.0 1131.0 L1297.0 1132.9 L1299.0 1134.8 L1301.0 1136.6 L1303.0 1138.3 L1305.0 1140.0 L1307.0 1141.7 L1309.0 1143.3 L1311.0 1144.9 L1313.0 1146.5 L1315.0 1148.0 L1317.0 1149.4 L1319.0 1150.9 L1321.0 1152.2 L1323.0 1153.6 L1325.0 1154.9 L1327.0 1156.2 L1329.0 1157.5 L1331.0 1158.7 L1333.0 1159.9 L1335.0 1161.0 L1337.0 1162.2 L1339.0 1163.3 L1341.0 1164.4 L1343.0 1165.4 L1345.0 1166.4 L1347.0 1167.4 L1349.0 1168.4 L1351.0 1169.4 L1353.0 1170.3 L1355.0 1171.2 L1357.0 1172.1 L1359.0 1172.9 L1361.0 1173.8 L1363.0 1174.6 L1365.0 1175.4 L1367.0 1176.1 L1369.0 1176.9 L1371.0 1177.6 L1373.0 1178.4 L1375.0 1179.1 L1377.0 1179.7 L1379.0 1180.4 L1381.0 1181.1 L1383.0 1181.7 L1385.0 1182.3 L1387.0 1182.9 L1389.0 1183.5 L1391.0 1184.1 L1393.0 1184.7 L1395.0 1185.2 L1397.0 1185.7 L1399.0 1186.3 L1401.0 1186.8 L1403.0 1187.3 L1405.0 1187.8 L1407.0 1188.2 L1409.0 1188.7 L1411.0 1189.1 L1413.0 1189.6 L1415.0 1190.0 L1417.0 1190.4 L1419.0 1190.8 L1421.0 1191.2 L1423.0 1191.6 L1425.0 1192.0 L1427.0 1192.4 L1429.0 1192.7 L1431.0 1193.1 L1433.0 1193.4 L1435.0 1193.7 L1437.0 1194.1 L1439.0 1194.4 L1441.0 1194.7 L1443.0 1195.0 L1445.0 1195.3 L1447.0 1195.6 L1449.0 1195.9 L1451.0 1196.1 L1453.0 1196.4 L1455.0 1196.7 L1457.0 1196.9 L1459.0 1197.2 L1461.0 1197.4 L1463.0 1197.6 L1465.0 1197.9 L1467.0 1198.1 L1469.0 1198.3 L1471.0 1198.5 L1473.0 1198.7 L1475.0 1198.9 L1477.0 1199.1 L1479.0 1199.3 L1481.0 1199.5 L1483.0 1199.7 L1485.0 1199.9 L1487.0 1200.0 L1489.0 1200.2 L1491.0 1200.4 L1493.0 1200.5 L1495.0 1200.7 L1497.0 1200.9 L1499.0 1201.0 L1501.0 1201.2 L1503.0 1201.3 L1505.0 1201.5 L1507.0 1201.6 L1509.0 1201.7 L1511.0 1201.9 L1513.0 1202.0 L1515.0 1202.1 L1517.0 1202.3 L1519.0 1202.4 L1579.0 1204.9 L1930.0 1209.5" stroke="#800000"/>
<path d="M188.0 1208.0 L190.0 1208.0 L192.0 1208.0 L194.0 1208.0 L196.0 1207.9 L198.0 1207.9 L200.0 1207.9 L202.0 1207.9 L204.0 1207.9 L206.0 1207.9 L208.0 1207.8 L210.0 1207.8 L212.0 1207.8 L214.0 1207.8 L216.0 1207.8 L218.0 1207.7 L220.0 1207.7 L222.0 1207.7 L224.0 1207.7 L226.0 1207.7 L228.0 1207.6 L230.0 1207.6 L232.0 1207.6 L234.0 1207.6 L236.0 1207.6 L238.0 1207.5 L240.0 1207.5 L242.0 1207.5 L244.0 1207.5 L246.0 1207.4 L248.0 1207.4 L250.0 1207.4 L252.0 1207.4 L254.0 1207.3 L256.0 1207.3 L258.0 1207.3 L260.0 1207.3 L262.0 1207.2 L264.0 1207.2 L266.0 1207.2 L268.0 1207.1 L270.0 1207.1 L272.0 1207.1 L274.0 1207.1 L276.0 1207.0 L278.0 1207.0 L280.0 1207.0 L282.0 1206.9 L284.0 1206.9 L286.0 1206.9 L288.0 1206.8 L290.0 1206.8 L292.0 1206.8 L294.0 1206.7 L296.0 1206.7 L298.0 1206.7 L300.0 1206.6 L302.0 1206.6 L304.0 1206.5 L306.0 1206.5 L308.0 1206.5 L310.0 1206.4 L312.0 1206.4 L314.0 1206.3 L316.0 1206.3 L318.0 1206.3 L320.0 1206.2 L322.0 1206.2 L324.0 1206.1 L326.0 1206.1 L328.0 1206.0 L330.0 1206.0 L332.0 1205.9 L334.0 1205.9 L336.0 1205.8 L338.0 1205.8 L340.0 1205.7 L342.0 1205.7 L344.0 1205.6 L346.0 1205.6 L348.0 1205.5 L350.0 1205.5 L352.0 1205.4 L354.0 1205.4 L356.0 1205.3 L358.0 1205.2 L360.0 1205.2 L362.0 1205.1 L364.0 1205.1 L366.0 1205.0 L368.0 1204.9 L370.0 1204.9 L372.0 1204.8 L374.0 1204.7 L376.0 1204.7 L378.0 1204.6 L380.0 1204.5 L382.0 1204.5 L384.0 1204.4 L386.0 1204.3 L388.0 1204.2 L390.0 1204.2 L392.0 1204.1 L394.0 1204.0 L396.0 1203.9 L398.0 1203.9 L400.0 1203.8 L402.0 1203.7 L404.0 1203.6 L406.0 1203.5 L408.0 1203.4 L410.0 1203.3 L412.0 1203.2 L414.0 1203.1 L416.0 1203.1 L418.0 1203.0 L420.0 1202.9 L422.0 1202.8 L424.0 1202.7 L426.0 1202.6 L428.0 1202.5 L430.0 1202.3 L432.0 1202.2 L434.0 1202.1 L436.0 1202.0 L438.0 1201.9 L440.0 1201.8 L442.0 1201.7 L444.0 1201.6 L446.0 1201.4 L448.0 1201.3 L450.0 1201.2 L452.0 1201.0 L454.0 1200.9 L456.0 1200.8 L458.0 1200.7 L460.0 1200.5 L462.0 1200.4 L464.0 1200.2 L466.0 1200.1 L468.0 1199.9 L470.0 1199.8 L472.0 1199.6 L474.0 1199.5 L476.0 1199.3 L478.0 1199.2 L480.0 1199.0 L482.0 1198.8 L484.0 1198.7 L486.0 1198.5 L488.0 1198.3 L490.0 1198.1 L492.0 1197.9 L494.0 1197.8 L496.0 1197.6 L498.0 1197.4 L500.0 1197.2 L502.0 1197.0 L504.0 1196.8 L506.0 1196.6 L508.0 1196.4 L510.0 1196.1 L512.0 1195.9 L514.0 1195.7 L516.0 1195.5 L518.0 1195.2 L520.0 1195.0 L522.0 1194.8 L524.0 1194.5 L526.0 1194.3 L528.0 1194.0 L530.0 1193.8 L532.0 1193.5 L534.0 1193.2 L536.0 1193.0 L538.0 1192.7 L540.0 1192.4 L542.0 1192.1 L544.0 1191.9 L546.0 1191.6 L548.0 1191.3 L550.0 1191.0 L552.0 1190.7 L554.0 1190.4 L556.0 1190.0 L558.0 1189.7 L560.0 1189.4 L562.0 1189.1 L564.0 1188.7 L566.0 1188.4 L568.0 1188.1 L570.0 1187.7 L572.0 1187.4 L574.0 1187.0 L576.0 1186.6 L578.0 1186.3 L580.0 1185.9 L582.0 1185.5 L584.0 1185.2 L586.0 1184.8 L588.0 1184.4 L590.0 1184.0 L592.0 1183.6 L594.0 1183.1 L596.0 1182.7 L598.0 1182.3 L600.0 1181.9 L602.0 1181.4 L604.0 1181.0 L606.0 1180.5 L608.0 1180.0 L610.0 1179.5 L612.0 1179.0 L614.0 1178.5 L616.0 1178.0 L618.0 1177.5 L620.0 1176.9 L622.0 1176.4 L624.0 1175.8 L626.0 1175.2 L628.0 1174.6 L630.0 1174.0 L632.0 1173.4 L634.0 1172.7 L636.0 1172.1 L638.0 1171.4 L640.0 1170.7 L642.0 1169.9 L644.0 1169.2 L646.0 1168.4 L648.0 1167.6 L650.0 1166.7 L652.0 1165.9 L654.0 1165.0 L656.0 1164.1 L658.0 1163.1 L660.0 1162.2 L662.0 1161.2 L664.0 1160.1 L666.0 1159.1 L668.0 1157.9 L670.0 1156.8 L672.0 1155.6 L674.0 1154.4 L676.0 1153.1 L678.0 1151.8 L680.0 1150.5 L682.0 1149.1 L684.0 1147.7 L686.0 1146.2 L688.0 1144.7 L690.0 1143.1 L692.0 1141.5 L694.0 1139.8 L696.0 1138.1 L698.0 1136.3 L700.0 1134.5 L702.0 1132.6 L704.0 1130.6 L706.0 1128.6 L708.0 1126.5 L710.0 1124.4 L712.0 1122.2 L714.0 1119.9 L716.0 1117.6 L718.0 1115.2 L720.0 1112.7 L722.0 1110.2 L724.0 1107.6 L726.0 1104.9 L728.0 1102.1 L730.0 1099.3 L732.0 1096.3 L734.0 1093.3 L736.0 1090.2 L738.0 1087.1 L740.0 1083.8 L742.0 1080.5 L744.0 1077.0 L746.0 1073.5 L748.0 1069.9 L750.0 1066.2 L752.0 1062.3 L754.0 1058.4 L756.0 1054.4 L758.0 1050.3 L760.0 1046.1 L762.0 1041.8 L764.0 1037.4 L766.0 1032.9 L768.0 1028.2 L770.0 1023.5 L772.0 1018.6 L774.0 1013.7 L776.0 1008.6 L778.0 1003.4 L780.0 998.1 L782.0 992.7 L784.0 987.2 L786.0 981.6 L788.0 975.8 L790.0 969.9 L792.0 963.9 L794.0 957.8 L796.0 951.6 L798.0 945.2 L800.0 938.7 L802.0 932.1 L804.0 925.4 L806.0 918.6 L808.0 911.6 L810.0 904.5 L812.0 897.3 L814.0 890.0 L816.0 882.5 L818.0 874.9 L820.0 867.3 L822.0 859.4 L824.0 851.5 L826.0 843.5 L828.0 835.3 L830.0 827.0 L832.0 818.6 L834.0 810.1 L836.0 801.5 L838.0 792.8 L840.0 784.0 L842.0 775.0 L844.0 766.0 L846.0 756.9 L848.0 747.7 L850.0 738.4 L852.0 729.0 L854.0 719.6 L856.0 710.1 L858.0 700.5 L860.0 690.8 L862.0 681.1 L864.0 671.4 L866.0 661.6 L868.0 651.8 L870.0 642.0 L872.0 632.1 L874.0 622.3 L876.0 612.4 L878.0 602.5 L880.0 592.7 L882.0 582.9 L884.0 573.1 L886.0 563.4 L888.0 553.7 L890.0 544.0 L892.0 534.4 L894.0 524.9 L896.0 515.5 L898.0 506.2 L900.0 497.0 L902.0 487.8 L904.0 478.8 L906.0 470.0 L908.0 461.2 L910.0 452.6 L912.0 444.1 L914.0 435.8 L916.0 427.7 L918.0 419.7 L920.0 411.9 L922.0 404.2 L924.0 396.8 L926.0 389.5 L928.0 382.5 L930.0 375.6 L932.0 368.9 L934.0 362.5 L936.0 356.3 L938.0 350.3 L940.0 344.5 L942.0 339.0 L944.0 333.7 L946.0 328.6 L948.0 323.8 L950.0 319.2 L952.0 314.8 L954.0 310.7 L956.0 306.9 L958.0 303.3 L960.0 300.0 L962.0 296.9 L964.0 294.1 L966.0 291.5 L968.0 289.2 L970.0 287.2 L972.0 285.4 L974.0 283.8 L976.0 282.6 L978.0 281.5 L980.0 280.8 L982.0 280.3 L984.0 280.0 L985.0 280.0 L987.0 280.1 L989.0 280.5 L991.0 281.1 L993.0 282.0 L995.0 283.2 L997.0 284.5 L999.0 286.2 L1001.0 288.0 L1003.0 290.1 L1005.0 292.5 L1007.0 295.0 L1009.0 297.9 L1011.0 300.9 L1013.0 304.2 L1015.0 307.6 L1017.0 311.4 L1019.0 315.3 L1021.0 319.4 L1023.0 323.8 L1025.0 328.3 L1027.0 333.1 L1029.0 338.1 L1031.0 343.2 L1033.0 348.6 L1035.0 354.1 L1037.0 359.9 L1039.0 365.8 L1041.0 371.9 L1043.0 378.2 L1045.0 384.6 L1047.0 391.2 L1049.0 398.0 L1051.0 405.0 L1053.0 412.0 L1055.0 419.3 L1057.0 426.7 L1059.0 434.2 L1061.0 441.9 L1063.0 449.7 L1065.0 457.6 L1067.0 465.7 L1069.0 473.8 L1071.0 482.1 L1073.0 490.5 L1075.0 499.0 L1077.0 507.6 L1079.0 516.2 L1081.0 525.0 L1083.0 533.8 L1085.0 542.7 L1087.0 551.6 L1089.0 560.7 L1091.0 569.7 L1093.0 578.8 L1095.0 587.9 L1097.0 597.1 L1099.0 606.3 L1101.0 615.5 L1103.0 624.7 L1105.0 633.9 L1107.0 643.1 L1109.0 652.3 L1111.0 661.4 L1113.0 670.6 L1115.0 679.7 L1117.0 688.7 L1119.0 697.8 L1121.0 706.7 L1123.0 715.6 L1125.0 724.5 L1127.0 733.2 L1129.0 741.9 L1131.0 750.6 L1133.0 759.1 L1135.0 767.6 L1137.0 775.9 L1139.0 784.2 L1141.0 792.4 L1143.0 800.5 L1145.0 808.4 L1147.0 816.3 L1149.0 824.1 L1151.0 831.8 L1153.0 839.4 L1155.0 846.8 L1157.0 854.2 L1159.0 861.4 L1161.0 868.6 L1163.0 875.6 L1165.0 882.5 L1167.0 889.3 L1169.0 896.0 L1171.0 902.6 L1173.0 909.1 L1175.0 915.4 L1177.0 921.7 L1179.0 927.9 L1181.0 933.9 L1183.0 939.9 L1185.0 945.7 L1187.0 951.4 L1189.0 957.1 L1191.0 962.6 L1193.0 968.0 L1195.0 973.3 L1197.0 978.5 L1199.0 983.7 L1201.0 988.7 L1203.0 993.6 L1205.0 998.4 L1207.0 1003.2 L1209.0 1007.8 L1211.0 1012.3 L1213.0 1016.8 L1215.0 1021.2 L1217.0 1025.4 L1219.0 1029.6 L1221.0 1033.7 L1223.0 1037.8 L1225.0 1041.7 L1227.0 1045.5 L1229.0 1049.3 L1231.0 1053.0 L1233.0 1056.6 L1235.0 1060.2 L1237.0 1063.6 L1239.0 1067.0 L1241.0 1070.3 L1243.0 1073.6 L1245.0 1076.7 L1247.0 1079.9 L1249.0 1082.9 L1251.0 1085.9 L1253.0 1088.8 L1255.0 1091.6 L1257.0 1094.4 L1259.0 1097.1 L1261.0 1099.8 L1263.0 1102.4 L1265.0 1104.9 L1267.0 1107.4 L1269.0 1109.9 L1271.0 1112.2 L1273.0 1114.6 L1275.0 1116.8 L1277.0 1119.0 L1279.0 1121.2 L1281.0 1123.3 L1283.0 1125.4 L1285.0 1127.4 L1287.0 1129.4 L1289.0 1131.3 L1291.0 1133.2 L1293.0 1135.0 L1295.0 1136.8 L1297.0 1138.5 L1299.0 1140.2 L1301.0 1141.9 L1303.0 1143.5 L1305.0 1145.1 L1307.0 1146.6 L1309.0 1148.1 L1311.0 1149.5 L1313.0 1151.0 L1315.0 1152.4 L1317.0 1153.7 L1319.0 1155.0 L1321.0 1156.3 L1323.0 1157.6 L1325.0 1158.8 L1327.0 1160.0 L1329.0 1161.1 L1331.0 1162.3 L1333.0 1163.4 L1335.0 1164.4 L1337.0 1165.5 L1339.0 1166.5 L1341.0 1167.5 L1343.0 1168.5 L1345.0 1169.4 L1347.0 1170.3 L1349.0 1171.2 L1351.0 1172.1 L1353.0 1173.0 L1355.0 1173.8 L1357.0 1174.6 L1359.0 1175.4 L1361.0 1176.2 L1363.0 1176.9 L1365.0 1177.6 L1367.0 1178.4 L1369.0 1179.1 L1371.0 1179.7 L1373.0 1180.4 L1375.0 1181.0 L1377.0 1181.7 L1379.0 1182.3 L1381.0 1182.9 L1383.0 1183.5 L1385.0 1184.1 L1387.0 1184.6 L1389.0 1185.2 L1391.0 1185.7 L1393.0 1186.2 L1395.0 1186.7 L1397.0 1187.2 L1399.0 1187.7 L1401.0 1188.1 L1403.0 1188.6 L1405.0 1189.0 L1407.0 1189.5 L1409.0 1189.9 L1411.0 1190.3 L1413.0 1190.7 L1415.0 1191.1 L1417.0 1191.5 L1419.0 1191.9 L1421.0 1192.2 L1423.0 1192.6 L1425.0 1192.9 L1427.0 1193.3 L1429.0 1193.6 L1431.0 1193.9 L1433.0 1194.2 L1435.0 1194.5 L1437.0 1194.8 L1439.0 1195.1 L1441.0 1195.4 L1443.0 1195.7 L1445.0 1196.0 L1447.0 1196.2 L1449.0 1196.5 L1451.0 1196.7 L1453.0 1197.0 L1455.0 1197.2 L1457.0 1197.4 L1459.0 1197.7 L1461.0 1197.9 L1463.0 1198.1 L1465.0 1198.3 L1467.0 1198.5 L1469.0 1198.7 L1471.0 1198.9 L1473.0 1199.1 L1475.0 1199.3 L1477.0 1199.4 L1479.0 1199.6 L1481.0 1199.8 L1483.0 1200.0 L1485.0 1200.1 L1487.0 1200.3 L1489.0 1200.4 L1491.0 1200.6 L1493.0 1200.7 L1495.0 1200.9 L1497.0 1201.0 L1499.0 1201.2 L1501.0 1201.3 L1503.0 1201.4 L1505.0 1201.5 L1507.0 1201.7 L1509.0 1201.8 L1511.0 1201.9 L1513.0 1202.0 L1515.0 1202.2 L1517.0 1202.3 L1519.0 1202.4 L1579.0 1204.7 L1930.0 1209.0" stroke="#008000"/>
<path d="M188.0 1207.0 L190.0 1207.0 L192.0 1207.0 L194.0 1206.9 L196.0 1206.9 L198.0 1206.9 L200.0 1206.9 L202.0 1206.8 L204.0 1206.8 L206.0 1206.8 L208.0 1206.8 L210.0 1206.8 L212.0 1206.7 L214.0 1206.7 L216.0 1206.7 L218.0 1206.7 L220.0 1206.6 L222.0 1206.6 L224.0 1206.6 L226.0 1206.6 L228.0 1206.5 L230.0 1206.5 L232.0 1206.5 L234.0 1206.4 L236.0 1206.4 L238.0 1206.4 L240.0 1206.4 L242.0 1206.3 L244.0 1206.3 L246.0 1206.3 L248.0 1206.2 L250.0 1206.2 L252.0 1206.2 L254.0 1206.1 L256.0 1206.1 L258.0 1206.1 L260.0 1206.0 L262.0 1206.0 L264.0 1206.0 L266.0 1205.9 L268.0 1205.9 L270.0 1205.9 L272.0 1205.8 L274.0 1205.8 L276.0 1205.8 L278.0 1205.7 L280.0 1205.7 L282.0 1205.7 L284.0 1205.6 L286.0 1205.6 L288.0 1205.5 L290.0 1205.5 L292.0 1205.5 L294.0 1205.4 L296.0 1205.4 L298.0 1205.3 L300.0 1205.3 L302.0 1205.2 L304.0 1205.2 L306.0 1205.2 L308.0 1205.1 L310.0 1205.1 L312.0 1205.0 L314.0 1205.0 L316.0 1204.9 L318.0 1204.9 L320.0 1204.8 L322.0 1204.8 L324.0 1204.7 L326.0 1204.7 L328.0 1204.6 L330.0 1204.6 L332.0 1204.5 L334.0 1204.4 L336.0 1204.4 L338.0 1204.3 L340.0 1204.3 L342.0 1204.2 L344.0 1204.2 L346.0 1204.1 L348.0 1204.0 L350.0 1204.0 L352.0 1203.9 L354.0 1203.8 L356.0 1203.8 L358.0 1203.7 L360.0 1203.7 L362.0 1203.6 L364.0 1203.5 L366.0 1203.4 L368.0 1203.4 L370.0 1203.3 L372.0 1203.2 L374.0 1203.2 L376.0 1203.1 L378.0 1203.0 L380.0 1202.9 L382.0 1202.8 L384.0 1202.8 L386.0 1202.7 L388.0 1202.6 L390.0 1202.5 L392.0 1202.4 L394.0 1202.3 L396.0 1202.3 L398.0 1202.2 L400.0 1202.1 L402.0 1202.0 L404.0 1201.9 L406.0 1201.8 L408.0 1201.7 L410.0 1201.6 L412.0 1201.5 L414.0 1201.4 L416.0 1201.3 L418.0 1201.2 L420.0 1201.1 L422.0 1201.0 L424.0 1200.9 L426.0 1200.8 L428.0 1200.6 L430.0 1200.5 L432.0 1200.4 L434.0 1200.3 L436.0 1200.2 L438.0 1200.1 L440.0 1199.9 L442.0 1199.8 L444.0 1199.7 L446.0 1199.5 L448.0 1199.4 L450.0 1199.3 L452.0 1199.1 L454.0 1199.0 L456.0 1198.9 L458.0 1198.7 L460.0 1198.6 L462.0 1198.4 L464.0 1198.3 L466.0 1198.1 L468.0 1197.9 L470.0 1197.8 L472.0 1197.6 L474.0 1197.4 L476.0 1197.3 L478.0 1197.1 L480.0 1196.9 L482.0 1196.8 L484.0 1196.6 L486.0 1196.4 L488.0 1196.2 L490.0 1196.0 L492.0 1195.8 L494.0 1195.6 L496.0 1195.4 L498.0 1195.2 L500.0 1195.0 L502.0 1194.8 L504.0 1194.6 L506.0 1194.3 L508.0 1194.1 L510.0 1193.9 L512.0 1193.7 L514.0 1193.4 L516.0 1193.2 L518.0 1192.9 L520.0 1192.7 L522.0 1192.4 L524.0 1192.2 L526.0 1191.9 L528.0 1191.6 L530.0 1191.4 L532.0 1191.1 L534.0 1190.8 L536.0 1190.5 L538.0 1190.2 L540.0 1189.9 L542.0 1189.6 L544.0 1189.3 L546.0 1189.0 L548.0 1188.7 L550.0 1188.4 L552.0 1188.1 L554.0 1187.7 L556.0 1187.4 L558.0 1187.1 L560.0 1186.7 L562.0 1186.3 L564.0 1186.0 L566.0 1185.6 L568.0 1185.2 L570.0 1184.9 L572.0 1184.5 L574.0 1184.1 L576.0 1183.7 L578.0 1183.3 L580.0 1182.9 L582.0 1182.4 L584.0 1182.0 L586.0 1181.6 L588.0 1181.1 L590.0 1180.7 L592.0 1180.2 L594.0 1179.7 L596.0 1179.3 L598.0 1178.8 L600.0 1178.2 L602.0 1177.7 L604.0 1177.2 L606.0 1176.6 L608.0 1176.1 L610.0 1175.5 L612.0 1174.9 L614.0 1174.3 L616.0 1173.7 L618.0 1173.1 L620.0 1172.4 L622.0 1171.7 L624.0 1171.0 L626.0 1170.3 L628.0 1169.6 L630.0 1168.8 L632.0 1168.0 L634.0 1167.2 L636.0 1166.4 L638.0 1165.5 L640.0 1164.6 L642.0 1163.7 L644.0 1162.8 L646.0 1161.8 L648.0 1160.8 L650.0 1159.7 L652.0 1158.7 L654.0 1157.6 L656.0 1156.4 L658.0 1155.2 L660.0 1154.0 L662.0 1152.7 L664.0 1151.4 L666.0 1150.1 L668.0 1148.7 L670.0 1147.2 L672.0 1145.8 L674.0 1144.2 L676.0 1142.6 L678.0 1141.0 L680.0 1139.3 L682.0 1137.6 L684.0 1135.8 L686.0 1133.9 L688.0 1132.0 L690.0 1130.1 L692.0 1128.0 L694.0 1126.0 L696.0 1123.8 L698.0 1121.6 L700.0 1119.3 L702.0 1116.9 L704.0 1114.5 L706.0 1112.0 L708.0 1109.4 L710.0 1106.8 L712.0 1104.0 L714.0 1101.2 L716.0 1098.3 L718.0 1095.4 L720.0 1092.3 L722.0 1089.1 L724.0 1085.9 L726.0 1082.6 L728.0 1079.2 L730.0 1075.6 L732.0 1072.0 L734.0 1068.3 L736.0 1064.5 L738.0 1060.6 L740.0 1056.5 L742.0 1052.4 L744.0 1048.2 L746.0 1043.8 L748.0 1039.3 L750.0 1034.8 L752.0 1030.1 L754.0 1025.2 L756.0 1020.3 L758.0 1015.3 L760.0 1010.1 L762.0 1004.8 L764.0 999.3 L766.0 993.8 L768.0 988.1 L770.0 982.3 L772.0 976.4 L774.0 970.3 L776.0 964.1 L778.0 957.7 L780.0 951.3 L782.0 944.7 L784.0 938.0 L786.0 931.1 L788.0 924.1 L790.0 917.0 L792.0 909.7 L794.0 902.4 L796.0 894.9 L798.0 887.2 L800.0 879.5 L802.0 871.6 L804.0 863.6 L806.0 855.4 L808.0 847.2 L810.0 838.8 L812.0 830.3 L814.0 821.7 L816.0 813.0 L818.0 804.2 L820.0 795.3 L822.0 786.3 L824.0 777.2 L826.0 768.0 L828.0 758.7 L830.0 749.3 L832.0 739.8 L834.0 730.3 L836.0 720.7 L838.0 711.0 L840.0 701.3 L842.0 691.5 L844.0 681.7 L846.0 671.9 L848.0 662.0 L850.0 652.1 L852.0 642.1 L854.0 632.2 L856.0 622.3 L858.0 612.4 L860.0 602.5 L862.0 592.6 L864.0 582.8 L866.0 573.0 L868.0 563.3 L870.0 553.6 L872.0 544.0 L874.0 534.5 L876.0 525.0 L878.0 515.7 L880.0 506.5 L882.0 497.3 L884.0 488.3 L886.0 479.4 L888.0 470.7 L890.0 462.1 L892.0 453.6 L894.0 445.3 L896.0 437.2 L898.0 429.2 L900.0 421.4 L902.0 413.8 L904.0 406.3 L906.0 399.0 L908.0 392.0 L910.0 385.1 L912.0 378.4 L914.0 371.9 L916.0 365.7 L918.0 359.6 L920.0 353.8 L922.0 348.2 L924.0 342.8 L926.0 337.6 L928.0 332.7 L930.0 328.0 L932.0 323.5 L934.0 319.3 L936.0 315.3 L938.0 311.5 L940.0 308.0 L942.0 304.7 L944.0 301.7 L946.0 298.9 L948.0 296.4 L950.0 294.1 L952.0 292.1 L954.0 290.3 L956.0 288.8 L958.0 287.6 L960.0 286.5 L962.0 285.8 L964.0 285.3 L966.0 285.0 L967.0 285.0 L969.0 285.1 L971.0 285.5 L973.0 286.1 L975.0 287.0 L977.0 288.2 L979.0 289.6 L981.0 291.2 L983.0 293.1 L985.0 295.3 L987.0 297.7 L989.0 300.3 L991.0 303.2 L993.0 306.3 L995.0 309.7 L997.0 313.3 L999.0 317.1 L1001.0 321.1 L1003.0 325.4 L1005.0 329.9 L1007.0 334.6 L1009.0 339.6 L1011.0 344.7 L1013.0 350.1 L1015.0 355.6 L1017.0 361.4 L1019.0 367.3 L1021.0 373.5 L1023.0 379.8 L1025.0 386.3 L1027.0 393.0 L1029.0 399.8 L1031.0 406.8 L1033.0 414.0 L1035.0 421.3 L1037.0 428.8 L1039.0 436.4 L1041.0 444.2 L1043.0 452.1 L1045.0 460.1 L1047.0 468.3 L1049.0 476.5 L1051.0 484.9 L1053.0 493.4 L1055.0 501.9 L1057.0 510.6 L1059.0 519.3 L1061.0 528.2 L1063.0 537.1 L1065.0 546.0 L1067.0 555.0 L1069.0 564.1 L1071.0 573.2 L1073.0 582.3 L1075.0 591.5 L1077.0 600.7 L1079.0 609.9 L1081.0 619.1 L1083.0 628.3 L1085.0 637.5 L1087.0 646.7 L1089.0 655.9 L1091.0 665.1 L1093.0 674.2 L1095.0 683.3 L1097.0 692.3 L1099.0 701.3 L1101.0 710.3 L1103.0 719.2 L1105.0 728.0 L1107.0 736.7 L1109.0 745.4 L1111.0 754.0 L1113.0 762.5 L1115.0 770.9 L1117.0 779.2 L1119.0 787.4 L1121.0 795.6 L1123.0 803.6 L1125.0 811.5 L1127.0 819.4 L1129.0 827.1 L1131.0 834.7 L1133.0 842.2 L1135.0 849.6 L1137.0 856.9 L1139.0 864.1 L1141.0 871.2 L1143.0 878.1 L1145.0 885.0 L1147.0 891.7 L1149.0 898.3 L1151.0 904.9 L1153.0 911.3 L1155.0 917.6 L1157.0 923.8 L1159.0 929.9 L1161.0 935.8 L1163.0 941.7 L1165.0 947.5 L1167.0 953.2 L1169.0 958.7 L1171.0 964.2 L1173.0 969.5 L1175.0 974.8 L1177.0 980.0 L1179.0 985.0 L1181.0 990.0 L1183.0 994.8 L1185.0 999.6 L1187.0 1004.3 L1189.0 1008.9 L1191.0 1013.4 L1193.0 1017.8 L1195.0 1022.1 L1197.0 1026.3 L1199.0 1030.4 L1201.0 1034.5 L1203.0 1038.4 L1205.0 1042.3 L1207.0 1046.1 L1209.0 1049.8 L1211.0 1053.5 L1213.0 1057.0 L1215.0 1060.5 L1217.0 1063.9 L1219.0 1067.3 L1221.0 1070.5 L1223.0 1073.7 L1225.0 1076.8 L1227.0 1079.9 L1229.0 1082.8 L1231.0 1085.8 L1233.0 1088.6 L1235.0 1091.4 L1237.0 1094.1 L1239.0 1096.8 L1241.0 1099.4 L1243.0 1101.9 L1245.0 1104.4 L1247.0 1106.8 L1249.0 1109.2 L1251.0 1111.5 L1253.0 1113.8 L1255.0 1116.0 L1257.0 1118.1 L1259.0 1120.2 L1261.0 1122.3 L1263.0 1124.3 L1265.0 1126.3 L1267.0 1128.2 L1269.0 1130.0 L1271.0 1131.8 L1273.0 1133.6 L1275.0 1135.4 L1277.0 1137.0 L1279.0 1138.7 L1281.0 1140.3 L1283.0 1141.9 L1285.0 1143.4 L1287.0 1144.9 L1289.0 1146.4 L1291.0 1147.8 L1293.0 1149.2 L1295.0 1150.5 L1297.0 1151.8 L1299.0 1153.1 L1301.0 1154.4 L1303.0 1155.6 L1305.0 1156.8 L1307.0 1158.0 L1309.0 1159.1 L1311.0 1160.2 L1313.0 1161.3 L1315.0 1162.4 L1317.0 1163.4 L1319.0 1164.4 L1321.0 1165.4 L1323.0 1166.3 L1325.0 1167.3 L1327.0 1168.2 L1329.0 1169.1 L1331.0 1169.9 L1333.0 1170.8 L1335.0 1171.6 L1337.0 1172.4 L1339.0 1173.2 L1341.0 1174.0 L1343.0 1174.7 L1345.0 1175.5 L1347.0 1176.2 L1349.0 1176.9 L1351.0 1177.6 L1353.0 1178.3 L1355.0 1178.9 L1357.0 1179.5 L1359.0 1180.2 L1361.0 1180.8 L1363.0 1181.4 L1365.0 1181.9 L1367.0 1182.5 L1369.0 1183.1 L1371.0 1183.6 L1373.0 1184.1 L1375.0 1184.7 L1377.0 1185.2 L1379.0 1185.7 L1381.0 1186.1 L1383.0 1186.6 L1385.0 1187.1 L1387.0 1187.5 L1389.0 1188.0 L1391.0 1188.4 L1393.0 1188.8 L1395.0 1189.2 L1397.0 1189.6 L1399.0 1190.0 L1401.0 1190.4 L1403.0 1190.8 L1405.0 1191.1 L1407.0 1191.5 L1409.0 1191.8 L1411.0 1192.2 L1413.0 1192.5 L1415.0 1192.8 L1417.0 1193.1 L1419.0 1193.4 L1421.0 1193.7 L1423.0 1194.0 L1425.0 1194.3 L1427.0 1194.6 L1429.0 1194.9 L1431.0 1195.2 L1433.0 1195.4 L1435.0 1195.7 L1437.0 1195.9 L1439.0 1196.2 L1441.0 1196.4 L1443.0 1196.6 L1445.0 1196.9 L1447.0 1197.1 L1449.0 1197.3 L1451.0 1197.5 L1453.0 1197.7 L1455.0 1197.9 L1457.0 1198.1 L1459.0 1198.3 L1461.0 1198.5 L1463.0 1198.7 L1465.0 1198.8 L1467.0 1199.0 L1469.0 1199.2 L1471.0 1199.4 L1473.0 1199.5 L1475.0 1199.7 L1477.0 1199.8 L1479.0 1200.0 L1481.0 1200.1 L1483.0 1200.3 L1485.0 1200.4 L1487.0 1200.5 L1489.0 1200.7 L1491.0 1200.8 L1493.0 1200.9 L1495.0 1201.1 L1497.0 1201.2 L1499.0 1201.3 L1501.0 1201.4 L1503.0 1201.5 L1505.0 1201.7 L1507.0 1201.8 L1509.0 1201.9 L1511.0 1202.0 L1513.0 1202.1 L1515.0 1202.2 L1517.0 1202.3 L1519.0 1202.4 L1579.0 1204.5 L1930.0 1208.5" stroke="#008080"/>
<path d="M188.0 1206.0 L190.0 1206.0 L192.0 1206.0 L194.0 1205.9 L196.0 1205.9 L198.0 1205.9 L200.0 1205.9 L202.0 1205.8 L204.0 1205.8 L206.0 1205.8 L208.0 1205.8 L210.0 1205.7 L212.0 1205.7 L214.0 1205.7 L216.0 1205.7 L218.0 1205.6 L220.0 1205.6 L222.0 1205.6 L224.0 1205.5 L226.0 1205.5 L228.0 1205.5 L230.0 1205.5 L232.0 1205.4 L234.0 1205.4 L236.0 1205.4 L238.0 1205.3 L240.0 1205.3 L242.0 1205.3 L244.0 1205.3 L246.0 1205.2 L248.0 1205.2 L250.0 1205.2 L252.0 1205.1 L254.0 1205.1 L256.0 1205.1 L258.0 1205.0 L260.0 1205.0 L262.0 1204.9 L264.0 1204.9 L266.0 1204.9 L268.0 1204.8 L270.0 1204.8 L272.0 1204.8 L274.0 1204.7 L276.0 1204.7 L278.0 1204.6 L280.0 1204.6 L282.0 1204.6 L284.0 1204.5 L286.0 1204.5 L288.0 1204.4 L290.0 1204.4 L292.0 1204.4 L294.0 1204.3 L296.0 1204.3 L298.0 1204.2 L300.0 1204.2 L302.0 1204.1 L304.0 1204.1 L306.0 1204.0 L308.0 1204.0 L310.0 1203.9 L312.0 1203.9 L314.0 1203.8 L316.0 1203.8 L318.0 1203.7 L320.0 1203.7 L322.0 1203.6 L324.0 1203.6 L326.0 1203.5 L328.0 1203.5 L330.0 1203.4 L332.0 1203.3 L334.0 1203.3 L336.0 1203.2 L338.0 1203.2 L340.0 1203.1 L342.0 1203.0 L344.0 1203.0 L346.0 1202.9 L348.0 1202.9 L350.0 1202.8 L352.0 1202.7 L354.0 1202.7 L356.0 1202.6 L358.0 1202.5 L360.0 1202.4 L362.0 1202.4 L364.0 1202.3 L366.0 1202.2 L368.0 1202.2 L370.0 1202.1 L372.0 1202.0 L374.0 1201.9 L376.0 1201.8 L378.0 1201.8 L380.0 1201.7 L382.0 1201.6 L384.0 1201.5 L386.0 1201.4 L388.0 1201.3 L390.0 1201.2 L392.0 1201.2 L394.0 1201.1 L396.0 1201.0 L398.0 1200.9 L400.0 1200.8 L402.0 1200.7 L404.0 1200.6 L406.0 1200.5 L408.0 1200.4 L410.0 1200.3 L412.0 1200.2 L414.0 1200.1 L416.0 1199.9 L418.0 1199.8 L420.0 1199.7 L422.0 1199.6 L424.0 1199.5 L426.0 1199.4 L428.0 1199.2 L430.0 1199.1 L432.0 1199.0 L434.0 1198.9 L436.0 1198.7 L438.0 1198.6 L440.0 1198.5 L442.0 1198.3 L444.0 1198.2 L446.0 1198.1 L448.0 1197.9 L450.0 1197.8 L452.0 1197.6 L454.0 1197.5 L456.0 1197.3 L458.0 1197.2 L460.0 1197.0 L462.0 1196.8 L464.0 1196.7 L466.0 1196.5 L468.0 1196.3 L470.0 1196.2 L472.0 1196.0 L474.0 1195.8 L476.0 1195.6 L478.0 1195.4 L480.0 1195.2 L482.0 1195.1 L484.0 1194.9 L486.0 1194.7 L488.0 1194.5 L490.0 1194.2 L492.0 1194.0 L494.0 1193.8 L496.0 1193.6 L498.0 1193.4 L500.0 1193.1 L502.0 1192.9 L504.0 1192.7 L506.0 1192.4 L508.0 1192.2 L510.0 1191.9 L512.0 1191.7 L514.0 1191.4 L516.0 1191.2 L518.0 1190.9 L520.0 1190.6 L522.0 1190.4 L524.0 1190.1 L526.0 1189.8 L528.0 1189.5 L530.0 1189.2 L532.0 1188.9 L534.0 1188.6 L536.0 1188.3 L538.0 1187.9 L540.0 1187.6 L542.0 1187.3 L544.0 1186.9 L546.0 1186.6 L548.0 1186.2 L550.0 1185.9 L552.0 1185.5 L554.0 1185.2 L556.0 1184.8 L558.0 1184.4 L560.0 1184.0 L562.0 1183.6 L564.0 1183.2 L566.0 1182.8 L568.0 1182.3 L570.0 1181.9 L572.0 1181.5 L574.0 1181.0 L576.0 1180.5 L578.0 1180.1 L580.0 1179.6 L582.0 1179.1 L584.0 1178.6 L586.0 1178.1 L588.0 1177.6 L590.0 1177.0 L592.0 1176.5 L594.0 1175.9 L596.0 1175.3 L598.0 1174.7 L600.0 1174.1 L602.0 1173.5 L604.0 1172.8 L606.0 1172.2 L608.0 1171.5 L610.0 1170.8 L612.0 1170.1 L614.0 1169.3 L616.0 1168.5 L618.0 1167.8 L620.0 1166.9 L622.0 1166.1 L624.0 1165.2 L626.0 1164.4 L628.0 1163.4 L630.0 1162.5 L632.0 1161.5 L634.0 1160.5 L636.0 1159.5 L638.0 1158.4 L640.0 1157.3 L642.0 1156.1 L644.0 1155.0 L646.0 1153.7 L648.0 1152.5 L650.0 1151.2 L652.0 1149.8 L654.0 1148.5 L656.0 1147.0 L658.0 1145.6 L660.0 1144.0 L662.0 1142.5 L664.0 1140.8 L666.0 1139.2 L668.0 1137.4 L670.0 1135.7 L672.0 1133.8 L674.0 1131.9 L676.0 1130.0 L678.0 1127.9 L680.0 1125.9 L682.0 1123.7 L684.0 1121.5 L686.0 1119.2 L688.0 1116.8 L690.0 1114.4 L692.0 1111.9 L694.0 1109.3 L696.0 1106.6 L698.0 1103.9 L700.0 1101.1 L702.0 1098.2 L704.0 1095.2 L706.0 1092.1 L708.0 1088.9 L710.0 1085.6 L712.0 1082.3 L714.0 1078.8 L716.0 1075.2 L718.0 1071.6 L720.0 1067.8 L722.0 1064.0 L724.0 1060.0 L726.0 1055.9 L728.0 1051.8 L730.0 1047.5 L732.0 1043.1 L734.0 1038.6 L736.0 1034.0 L738.0 1029.3 L740.0 1024.4 L742.0 1019.5 L744.0 1014.4 L746.0 1009.2 L748.0 1003.9 L750.0 998.5 L752.0 993.0 L754.0 987.3 L756.0 981.5 L758.0 975.6 L760.0 969.6 L762.0 963.5 L764.0 957.3 L766.0 950.9 L768.0 944.4 L770.0 937.8 L772.0 931.1 L774.0 924.3 L776.0 917.3 L778.0 910.3 L780.0 903.1 L782.0 895.8 L784.0 888.4 L786.0 880.9 L788.0 873.3 L790.0 865.5 L792.0 857.7 L794.0 849.8 L796.0 841.8 L798.0 833.6 L800.0 825.4 L802.0 817.1 L804.0 808.7 L806.0 800.2 L808.0 791.7 L810.0 783.0 L812.0 774.3 L814.0 765.5 L816.0 756.6 L818.0 747.6 L820.0 738.6 L822.0 729.6 L824.0 720.4 L826.0 711.2 L828.0 702.0 L830.0 692.7 L832.0 683.4 L834.0 674.0 L836.0 664.6 L838.0 655.2 L840.0 645.7 L842.0 636.3 L844.0 626.8 L846.0 617.3 L848.0 607.7 L850.0 598.2 L852.0 588.7 L854.0 579.2 L856.0 569.7 L858.0 560.3 L860.0 550.8 L862.0 541.4 L864.0 532.0 L866.0 522.7 L868.0 513.4 L870.0 504.2 L872.0 495.1 L874.0 486.0 L876.0 477.0 L878.0 468.1 L880.0 459.3 L882.0 450.6 L884.0 442.0 L886.0 433.6 L888.0 425.2 L890.0 417.1 L892.0 409.0 L894.0 401.1 L896.0 393.4 L898.0 385.8 L900.0 378.5 L902.0 371.3 L904.0 364.3 L906.0 357.5 L908.0 350.9 L910.0 344.5 L912.0 338.4 L914.0 332.5 L916.0 326.8 L918.0 321.3 L920.0 316.2 L922.0 311.2 L924.0 306.5 L926.0 302.1 L928.0 298.0 L930.0 294.1 L932.0 290.6 L934.0 287.3 L936.0 284.2 L938.0 281.5 L940.0 279.1 L942.0 277.0 L944.0 275.1 L946.0 273.6 L948.0 272.4 L950.0 271.5 L952.0 270.8 L954.0 270.5 L955.0 270.5 L957.0 270.7 L959.0 271.1 L961.0 271.9 L963.0 273.0 L965.0 274.4 L967.0 276.0 L969.0 278.0 L971.0 280.3 L973.0 282.8 L975.0 285.6 L977.0 288.8 L979.0 292.1 L981.0 295.8 L983.0 299.7 L985.0 303.9 L987.0 308.3 L989.0 312.9 L991.0 317.8 L993.0 323.0 L995.0 328.3 L997.0 333.9 L999.0 339.7 L1001.0 345.6 L1003.0 351.8 L1005.0 358.2 L1007.0 364.7 L1009.0 371.5 L1011.0 378.3 L1013.0 385.4 L1015.0 392.6 L1017.0 399.9 L1019.0 407.4 L1021.0 415.0 L1023.0 422.8 L1025.0 430.6 L1027.0 438.6 L1029.0 446.6 L1031.0 454.7 L1033.0 463.0 L1035.0 471.3 L1037.0 479.7 L1039.0 488.1 L1041.0 496.6 L1043.0 505.2 L1045.0 513.8 L1047.0 522.4 L1049.0 531.1 L1051.0 539.8 L1053.0 548.6 L1055.0 557.3 L1057.0 566.1 L1059.0 574.9 L1061.0 583.7 L1063.0 592.4 L1065.0 601.2 L1067.0 610.0 L1069.0 618.8 L1071.0 627.5 L1073.0 636.2 L1075.0 645.0 L1077.0 653.6 L1079.0 662.3 L1081.0 670.9 L1083.0 679.5 L1085.0 688.1 L1087.0 696.6 L1089.0 705.0 L1091.0 713.4 L1093.0 721.8 L1095.0 730.1 L1097.0 738.4 L1099.0 746.6 L1101.0 754.7 L1103.0 762.8 L1105.0 770.8 L1107.0 778.8 L1109.0 786.7 L1111.0 794.5 L1113.0 802.2 L1115.0 809.8 L1117.0 817.4 L1119.0 824.9 L1121.0 832.3 L1123.0 839.6 L1125.0 846.9 L1127.0 854.0 L1129.0 861.1 L1131.0 868.0 L1133.0 874.9 L1135.0 881.7 L1137.0 888.3 L1139.0 894.9 L1141.0 901.4 L1143.0 907.8 L1145.0 914.0 L1147.0 920.2 L1149.0 926.3 L1151.0 932.3 L1153.0 938.1 L1155.0 943.9 L1157.0 949.6 L1159.0 955.1 L1161.0 960.6 L1163.0 966.0 L1165.0 971.2 L1167.0 976.4 L1169.0 981.5 L1171.0 986.4 L1173.0 991.3 L1175.0 996.1 L1177.0 1000.7 L1179.0 1005.3 L1181.0 1009.8 L1183.0 1014.2 L1185.0 1018.5 L1187.0 1022.7 L1189.0 1026.9 L1191.0 1030.9 L1193.0 1034.9 L1195.0 1038.7 L1197.0 1042.5 L1199.0 1046.2 L1201.0 1049.9 L1203.0 1053.4 L1205.0 1056.9 L1207.0 1060.3 L1209.0 1063.7 L1211.0 1066.9 L1213.0 1070.1 L1215.0 1073.2 L1217.0 1076.3 L1219.0 1079.3 L1221.0 1082.2 L1223.0 1085.1 L1225.0 1087.9 L1227.0 1090.6 L1229.0 1093.3 L1231.0 1095.9 L1233.0 1098.5 L1235.0 1101.0 L1237.0 1103.5 L1239.0 1105.8 L1241.0 1108.2 L1243.0 1110.5 L1245.0 1112.7 L1247.0 1114.9 L1249.0 1117.1 L1251.0 1119.1 L1253.0 1121.2 L1255.0 1123.2 L1257.0 1125.1 L1259.0 1127.0 L1261.0 1128.9 L1263.0 1130.7 L1265.0 1132.5 L1267.0 1134.2 L1269.0 1135.9 L1271.0 1137.6 L1273.0 1139.2 L1275.0 1140.7 L1277.0 1142.3 L1279.0 1143.8 L1281.0 1145.2 L1283.0 1146.7 L1285.0 1148.0 L1287.0 1149.4 L1289.0 1150.7 L1291.0 1152.0 L1293.0 1153.3 L1295.0 1154.5 L1297.0 1155.7 L1299.0 1156.9 L1301.0 1158.0 L1303.0 1159.2 L1305.0 1160.2 L1307.0 1161.3 L1309.0 1162.4 L1311.0 1163.4 L1313.0 1164.4 L1315.0 1165.3 L1317.0 1166.3 L1319.0 1167.2 L1321.0 1168.1 L1323.0 1169.0 L1325.0 1169.8 L1327.0 1170.7 L1329.0 1171.5 L1331.0 1172.3 L1333.0 1173.0 L1335.0 1173.8 L1337.0 1174.5 L1339.0 1175.3 L1341.0 1176.0 L1343.0 1176.7 L1345.0 1177.4 L1347.0 1178.0 L1349.0 1178.7 L1351.0 1179.3 L1353.0 1179.9 L1355.0 1180.5 L1357.0 1181.1 L1359.0 1181.7 L1361.0 1182.2 L1363.0 1182.8 L1365.0 1183.3 L1367.0 1183.8 L1369.0 1184.4 L1371.0 1184.9 L1373.0 1185.4 L1375.0 1185.8 L1377.0 1186.3 L1379.0 1186.8 L1381.0 1187.2 L1383.0 1187.6 L1385.0 1188.1 L1387.0 1188.5 L1389.0 1188.9 L1391.0 1189.3 L1393.0 1189.7 L1395.0 1190.1 L1397.0 1190.4 L1399.0 1190.8 L1401.0 1191.1 L1403.0 1191.5 L1405.0 1191.8 L1407.0 1192.2 L1409.0 1192.5 L1411.0 1192.8 L1413.0 1193.1 L1415.0 1193.4 L1417.0 1193.7 L1419.0 1194.0 L1421.0 1194.3 L1423.0 1194.6 L1425.0 1194.8 L1427.0 1195.1 L1429.0 1195.3 L1431.0 1195.6 L1433.0 1195.8 L1435.0 1196.1 L1437.0 1196.3 L1439.0 1196.5 L1441.0 1196.8 L1443.0 1197.0 L1445.0 1197.2 L1447.0 1197.4 L1449.0 1197.6 L1451.0 1197.8 L1453.0 1198.0 L1455.0 1198.2 L1457.0 1198.4 L1459.0 1198.5 L1461.0 1198.7 L1463.0 1198.9 L1465.0 1199.1 L1467.0 1199.2 L1469.0 1199.4 L1471.0 1199.5 L1473.0 1199.7 L1475.0 1199.8 L1477.0 1200.0 L1479.0 1200.1 L1481.0 1200.3 L1483.0 1200.4 L1485.0 1200.5 L1487.0 1200.7 L1489.0 1200.8 L1491.0 1200.9 L1493.0 1201.0 L1495.0 1201.1 L1497.0 1201.3 L1499.0 1201.4 L1501.0 1201.5 L1503.0 1201.6 L1505.0 1201.7 L1507.0 1201.8 L1509.0 1201.9 L1511.0 1202.0 L1513.0 1202.1 L1515.0 1202.2 L1517.0 1202.3 L1519.0 1202.4 L1579.0 1204.3 L1930.0 1207.9" stroke="#0000a0"/>
<path d="M188.0 1205.0 L190.0 1205.0 L192.0 1204.9 L194.0 1204.9 L196.0 1204.8 L198.0 1204.8 L200.0 1204.7 L202.0 1204.7 L204.0 1204.6 L206.0 1204.6 L208.0 1204.6 L210.0 1204.5 L212.0 1204.5 L214.0 1204.4 L216.0 1204.4 L218.0 1204.3 L220.0 1204.3 L222.0 1204.2 L224.0 1204.2 L226.0 1204.1 L228.0 1204.1 L230.0 1204.0 L232.0 1203.9 L234.0 1203.9 L236.0 1203.8 L238.0 1203.8 L240.0 1203.7 L242.0 1203.7 L244.0 1203.6 L246.0 1203.6 L248.0 1203.5 L250.0 1203.4 L252.0 1203.4 L254.0 1203.3 L256.0 1203.3 L258.0 1203.2 L260.0 1203.1 L262.0 1203.1 L264.0 1203.0 L266.0 1202.9 L268.0 1202.9 L270.0 1202.8 L272.0 1202.7 L274.0 1202.7 L276.0 1202.6 L278.0 1202.5 L280.0 1202.5 L282.0 1202.4 L284.0 1202.3 L286.0 1202.2 L288.0 1202.2 L290.0 1202.1 L292.0 1202.0 L294.0 1202.0 L296.0 1201.9 L298.0 1201.8 L300.0 1201.7 L302.0 1201.6 L304.0 1201.6 L306.0 1201.5 L308.0 1201.4 L310.0 1201.3 L312.0 1201.2 L314.0 1201.2 L316.0 1201.1 L318.0 1201.0 L320.0 1200.9 L322.0 1200.8 L324.0 1200.7 L326.0 1200.6 L328.0 1200.5 L330.0 1200.5 L332.0 1200.4 L334.0 1200.3 L336.0 1200.2 L338.0 1200.1 L340.0 1200.0 L342.0 1199.9 L344.0 1199.8 L346.0 1199.7 L348.0 1199.6 L350.0 1199.5 L352.0 1199.4 L354.0 1199.3 L356.0 1199.2 L358.0 1199.0 L360.0 1198.9 L362.0 1198.8 L364.0 1198.7 L366.0 1198.6 L368.0 1198.5 L370.0 1198.4 L372.0 1198.3 L374.0 1198.1 L376.0 1198.0 L378.0 1197.9 L380.0 1197.8 L382.0 1197.6 L384.0 1197.5 L386.0 1197.4 L388.0 1197.3 L390.0 1197.1 L392.0 1197.0 L394.0 1196.9 L396.0 1196.7 L398.0 1196.6 L400.0 1196.4 L402.0 1196.3 L404.0 1196.2 L406.0 1196.0 L408.0 1195.9 L410.0 1195.7 L412.0 1195.6 L414.0 1195.4 L416.0 1195.3 L418.0 1195.1 L420.0 1194.9 L422.0 1194.8 L424.0 1194.6 L426.0 1194.5 L428.0 1194.3 L430.0 1194.1 L432.0 1193.9 L434.0 1193.8 L436.0 1193.6 L438.0 1193.4 L440.0 1193.2 L442.0 1193.0 L444.0 1192.9 L446.0 1192.7 L448.0 1192.5 L450.0 1192.3 L452.0 1192.1 L454.0 1191.9 L456.0 1191.7 L458.0 1191.5 L460.0 1191.3 L462.0 1191.0 L464.0 1190.8 L466.0 1190.6 L468.0 1190.4 L470.0 1190.2 L472.0 1189.9 L474.0 1189.7 L476.0 1189.5 L478.0 1189.2 L480.0 1189.0 L482.0 1188.7 L484.0 1188.5 L486.0 1188.2 L488.0 1188.0 L490.0 1187.7 L492.0 1187.5 L494.0 1187.2 L496.0 1186.9 L498.0 1186.6 L500.0 1186.4 L502.0 1186.1 L504.0 1185.8 L506.0 1185.5 L508.0 1185.2 L510.0 1184.9 L512.0 1184.6 L514.0 1184.3 L516.0 1183.9 L518.0 1183.6 L520.0 1183.3 L522.0 1183.0 L524.0 1182.6 L526.0 1182.3 L528.0 1182.0 L530.0 1181.6 L532.0 1181.2 L534.0 1180.9 L536.0 1180.5 L538.0 1180.2 L540.0 1179.8 L542.0 1179.4 L544.0 1179.0 L546.0 1178.6 L548.0 1178.2 L550.0 1177.8 L552.0 1177.4 L554.0 1177.0 L556.0 1176.6 L558.0 1176.2 L560.0 1175.8 L562.0 1175.3 L564.0 1174.9 L566.0 1174.4 L568.0 1174.0 L570.0 1173.5 L572.0 1173.0 L574.0 1172.6 L576.0 1172.1 L578.0 1171.6 L580.0 1171.1 L582.0 1170.6 L584.0 1170.0 L586.0 1169.5 L588.0 1168.9 L590.0 1168.4 L592.0 1167.8 L594.0 1167.2 L596.0 1166.5 L598.0 1165.9 L600.0 1165.2 L602.0 1164.6 L604.0 1163.9 L606.0 1163.2 L608.0 1162.4 L610.0 1161.6 L612.0 1160.8 L614.0 1160.0 L616.0 1159.2 L618.0 1158.3 L620.0 1157.4 L622.0 1156.4 L624.0 1155.5 L626.0 1154.5 L628.0 1153.4 L630.0 1152.3 L632.0 1151.2 L634.0 1150.0 L636.0 1148.8 L638.0 1147.6 L640.0 1146.3 L642.0 1144.9 L644.0 1143.5 L646.0 1142.1 L648.0 1140.6 L650.0 1139.1 L652.0 1137.5 L654.0 1135.8 L656.0 1134.1 L658.0 1132.3 L660.0 1130.5 L662.0 1128.6 L664.0 1126.6 L666.0 1124.6 L668.0 1122.5 L670.0 1120.3 L672.0 1118.1 L674.0 1115.7 L676.0 1113.4 L678.0 1110.9 L680.0 1108.3 L682.0 1105.7 L684.0 1103.0 L686.0 1100.2 L688.0 1097.3 L690.0 1094.3 L692.0 1091.2 L694.0 1088.0 L696.0 1084.7 L698.0 1081.4 L700.0 1077.9 L702.0 1074.3 L704.0 1070.6 L706.0 1066.9 L708.0 1063.0 L710.0 1059.0 L712.0 1054.9 L714.0 1050.7 L716.0 1046.3 L718.0 1041.9 L720.0 1037.3 L722.0 1032.7 L724.0 1027.9 L726.0 1023.0 L728.0 1018.0 L730.0 1012.8 L732.0 1007.6 L734.0 1002.2 L736.0 996.7 L738.0 991.1 L740.0 985.4 L742.0 979.6 L744.0 973.6 L746.0 967.5 L748.0 961.3 L750.0 955.0 L752.0 948.6 L754.0 942.0 L756.0 935.4 L758.0 928.6 L760.0 921.7 L762.0 914.7 L764.0 907.6 L766.0 900.4 L768.0 893.1 L770.0 885.7 L772.0 878.1 L774.0 870.5 L776.0 862.8 L778.0 855.0 L780.0 847.2 L782.0 839.2 L784.0 831.1 L786.0 823.0 L788.0 814.8 L790.0 806.5 L792.0 798.2 L794.0 789.8 L796.0 781.3 L798.0 772.8 L800.0 764.2 L802.0 755.6 L804.0 746.9 L806.0 738.2 L808.0 729.4 L810.0 720.6 L812.0 711.7 L814.0 702.8 L816.0 693.9 L818.0 684.9 L820.0 675.9 L822.0 666.9 L824.0 657.9 L826.0 648.8 L828.0 639.7 L830.0 630.6 L832.0 621.4 L834.0 612.3 L836.0 603.1 L838.0 593.9 L840.0 584.7 L842.0 575.5 L844.0 566.3 L846.0 557.1 L848.0 547.9 L850.0 538.7 L852.0 529.5 L854.0 520.4 L856.0 511.2 L858.0 502.1 L860.0 493.1 L862.0 484.1 L864.0 475.1 L866.0 466.2 L868.0 457.4 L870.0 448.7 L872.0 440.1 L874.0 431.5 L876.0 423.1 L878.0 414.9 L880.0 406.7 L882.0 398.7 L884.0 390.9 L886.0 383.2 L888.0 375.7 L890.0 368.4 L892.0 361.3 L894.0 354.4 L896.0 347.8 L898.0 341.3 L900.0 335.1 L902.0 329.2 L904.0 323.5 L906.0 318.1 L908.0 312.9 L910.0 308.0 L912.0 303.4 L914.0 299.1 L916.0 295.0 L918.0 291.3 L920.0 287.8 L922.0 284.7 L924.0 281.9 L926.0 279.4 L928.0 277.2 L930.0 275.3 L932.0 273.7 L934.0 272.4 L936.0 271.5 L938.0 270.9 L940.0 270.5 L941.0 270.5 L943.0 270.7 L945.0 271.1 L947.0 271.9 L949.0 273.0 L951.0 274.4 L953.0 276.1 L955.0 278.0 L957.0 280.3 L959.0 282.8 L961.0 285.6 L963.0 288.7 L965.0 292.0 L967.0 295.6 L969.0 299.4 L971.0 303.5 L973.0 307.8 L975.0 312.3 L977.0 317.0 L979.0 322.0 L981.0 327.2 L983.0 332.5 L985.0 338.1 L987.0 343.9 L989.0 349.8 L991.0 355.9 L993.0 362.2 L995.0 368.7 L997.0 375.3 L999.0 382.0 L1001.0 388.9 L1003.0 396.0 L1005.0 403.2 L1007.0 410.5 L1009.0 417.9 L1011.0 425.5 L1013.0 433.1 L1015.0 440.9 L1017.0 448.8 L1019.0 456.7 L1021.0 464.8 L1023.0 472.9 L1025.0 481.1 L1027.0 489.4 L1029.0 497.7 L1031.0 506.1 L1033.0 514.5 L1035.0 523.0 L1037.0 531.5 L1039.0 540.1 L1041.0 548.7 L1043.0 557.3 L1045.0 566.0 L1047.0 574.6 L1049.0 583.3 L1051.0 592.0 L1053.0 600.7 L1055.0 609.4 L1057.0 618.0 L1059.0 626.7 L1061.0 635.3 L1063.0 643.9 L1065.0 652.5 L1067.0 661.1 L1069.0 669.6 L1071.0 678.1 L1073.0 686.5 L1075.0 694.9 L1077.0 703.3 L1079.0 711.6 L1081.0 719.8 L1083.0 728.0 L1085.0 736.1 L1087.0 744.2 L1089.0 752.2 L1091.0 760.1 L1093.0 768.0 L1095.0 775.8 L1097.0 783.5 L1099.0 791.1 L1101.0 798.6 L1103.0 806.1 L1105.0 813.5 L1107.0 820.8 L1109.0 828.0 L1111.0 835.2 L1113.0 842.2 L1115.0 849.2 L1117.0 856.0 L1119.0 862.8 L1121.0 869.5 L1123.0 876.1 L1125.0 882.6 L1127.0 889.0 L1129.0 895.3 L1131.0 901.5 L1133.0 907.7 L1135.0 913.7 L1137.0 919.7 L1139.0 925.5 L1141.0 931.3 L1143.0 936.9 L1145.0 942.5 L1147.0 947.9 L1149.0 953.3 L1151.0 958.6 L1153.0 963.8 L1155.0 968.9 L1157.0 973.9 L1159.0 978.9 L1161.0 983.7 L1163.0 988.4 L1165.0 993.1 L1167.0 997.7 L1169.0 1002.2 L1171.0 1006.6 L1173.0 1010.9 L1175.0 1015.1 L1177.0 1019.3 L1179.0 1023.4 L1181.0 1027.4 L1183.0 1031.3 L1185.0 1035.2 L1187.0 1039.0 L1189.0 1042.7 L1191.0 1046.3 L1193.0 1049.9 L1195.0 1053.3 L1197.0 1056.8 L1199.0 1060.1 L1201.0 1063.4 L1203.0 1066.6 L1205.0 1069.8 L1207.0 1072.9 L1209.0 1075.9 L1211.0 1078.9 L1213.0 1081.8 L1215.0 1084.7 L1217.0 1087.5 L1219.0 1090.2 L1221.0 1092.9 L1223.0 1095.5 L1225.0 1098.1 L1227.0 1100.6 L1229.0 1103.1 L1231.0 1105.5 L1233.0 1107.9 L1235.0 1110.2 L1237.0 1112.5 L1239.0 1114.7 L1241.0 1116.8 L1243.0 1119.0 L1245.0 1121.0 L1247.0 1123.1 L1249.0 1125.1 L1251.0 1127.0 L1253.0 1128.9 L1255.0 1130.8 L1257.0 1132.6 L1259.0 1134.3 L1261.0 1136.1 L1263.0 1137.7 L1265.0 1139.4 L1267.0 1141.0 L1269.0 1142.6 L1271.0 1144.1 L1273.0 1145.6 L1275.0 1147.1 L1277.0 1148.5 L1279.0 1149.9 L1281.0 1151.2 L1283.0 1152.5 L1285.0 1153.8 L1287.0 1155.1 L1289.0 1156.3 L1291.0 1157.5 L1293.0 1158.7 L1295.0 1159.8 L1297.0 1160.9 L1299.0 1162.0 L1301.0 1163.1 L1303.0 1164.1 L1305.0 1165.1 L1307.0 1166.1 L1309.0 1167.0 L1311.0 1167.9 L1313.0 1168.8 L1315.0 1169.7 L1317.0 1170.6 L1319.0 1171.4 L1321.0 1172.3 L1323.0 1173.1 L1325.0 1173.8 L1327.0 1174.6 L1329.0 1175.4 L1331.0 1176.1 L1333.0 1176.8 L1335.0 1177.5 L1337.0 1178.2 L1339.0 1178.8 L1341.0 1179.5 L1343.0 1180.1 L1345.0 1180.7 L1347.0 1181.3 L1349.0 1181.9 L1351.0 1182.5 L1353.0 1183.0 L1355.0 1183.6 L1357.0 1184.1 L1359.0 1184.6 L1361.0 1185.1 L1363.0 1185.6 L1365.0 1186.1 L1367.0 1186.6 L1369.0 1187.0 L1371.0 1187.5 L1373.0 1187.9 L1375.0 1188.3 L1377.0 1188.7 L1379.0 1189.2 L1381.0 1189.6 L1383.0 1189.9 L1385.0 1190.3 L1387.0 1190.7 L1389.0 1191.0 L1391.0 1191.4 L1393.0 1191.7 L1395.0 1192.1 L1397.0 1192.4 L1399.0 1192.7 L1401.0 1193.0 L1403.0 1193.3 L1405.0 1193.6 L1407.0 1193.9 L1409.0 1194.2 L1411.0 1194.5 L1413.0 1194.8 L1415.0 1195.0 L1417.0 1195.3 L1419.0 1195.5 L1421.0 1195.8 L1423.0 1196.0 L1425.0 1196.2 L1427.0 1196.5 L1429.0 1196.7 L1431.0 1196.9 L1433.0 1197.1 L1435.0 1197.3 L1437.0 1197.5 L1439.0 1197.7 L1441.0 1197.9 L1443.0 1198.1 L1445.0 1198.3 L1447.0 1198.4 L1449.0 1198.6 L1451.0 1198.8 L1453.0 1198.9 L1455.0 1199.1 L1457.0 1199.2 L1459.0 1199.4 L1461.0 1199.5 L1463.0 1199.7 L1465.0 1199.8 L1467.0 1199.9 L1469.0 1200.1 L1471.0 1200.2 L1473.0 1200.3 L1475.0 1200.4 L1477.0 1200.5 L1479.0 1200.7 L1481.0 1200.8 L1483.0 1200.9 L1485.0 1201.0 L1487.0 1201.1 L1489.0 1201.2 L1491.0 1201.3 L1493.0 1201.4 L1495.0 1201.4 L1497.0 1201.5 L1499.0 1201.6 L1501.0 1201.7 L1503.0 1201.8 L1505.0 1201.9 L1507.0 1201.9 L1509.0 1202.0 L1511.0 1202.1 L1513.0 1202.2 L1515.0 1202.3 L1517.0 1202.3 L1519.0 1202.4 L1579.0 1204.1 L1930.0 1207.4" stroke="#ff8000"/>
<path d="M188.0 1204.0 L190.0 1204.0 L192.0 1204.0 L194.0 1204.0 L196.0 1204.0 L198.0 1204.0 L200.0 1203.9 L202.0 1203.9 L204.0 1203.9 L206.0 1203.9 L208.0 1203.9 L210.0 1203.9 L212.0 1203.9 L214.0 1203.9 L216.0 1203.9 L218.0 1203.9 L220.0 1203.9 L222.0 1203.8 L224.0 1203.8 L226.0 1203.8 L228.0 1203.8 L230.0 1203.8 L232.0 1203.8 L234.0 1203.8 L236.0 1203.7 L238.0 1203.7 L240.0 1203.7 L242.0 1203.7 L244.0 1203.7 L246.0 1203.7 L248.0 1203.7 L250.0 1203.6 L252.0 1203.6 L254.0 1203.6 L256.0 1203.6 L258.0 1203.6 L260.0 1203.5 L262.0 1203.5 L264.0 1203.5 L266.0 1203.5 L268.0 1203.5 L270.0 1203.4 L272.0 1203.4 L274.0 1203.4 L276.0 1203.4 L278.0 1203.3 L280.0 1203.3 L282.0 1203.3 L284.0 1203.3 L286.0 1203.2 L288.0 1203.2 L290.0 1203.2 L292.0 1203.1 L294.0 1203.1 L296.0 1203.1 L298.0 1203.1 L300.0 1203.0 L302.0 1203.0 L304.0 1203.0 L306.0 1202.9 L308.0 1202.9 L310.0 1202.8 L312.0 1202.8 L314.0 1202.8 L316.0 1202.7 L318.0 1202.7 L320.0 1202.7 L322.0 1202.6 L324.0 1202.6 L326.0 1202.5 L328.0 1202.5 L330.0 1202.4 L332.0 1202.4 L334.0 1202.3 L336.0 1202.3 L338.0 1202.3 L340.0 1202.2 L342.0 1202.1 L344.0 1202.1 L346.0 1202.0 L348.0 1202.0 L350.0 1201.9 L352.0 1201.9 L354.0 1201.8 L356.0 1201.8 L358.0 1201.7 L360.0 1201.6 L362.0 1201.6 L364.0 1201.5 L366.0 1201.5 L368.0 1201.4 L370.0 1201.3 L372.0 1201.3 L374.0 1201.2 L376.0 1201.1 L378.0 1201.0 L380.0 1201.0 L382.0 1200.9 L384.0 1200.8 L386.0 1200.7 L388.0 1200.6 L390.0 1200.6 L392.0 1200.5 L394.0 1200.4 L396.0 1200.3 L398.0 1200.2 L400.0 1200.1 L402.0 1200.0 L404.0 1199.9 L406.0 1199.8 L408.0 1199.7 L410.0 1199.6 L412.0 1199.5 L414.0 1199.4 L416.0 1199.3 L418.0 1199.2 L420.0 1199.1 L422.0 1199.0 L424.0 1198.9 L426.0 1198.7 L428.0 1198.6 L430.0 1198.5 L432.0 1198.4 L434.0 1198.2 L436.0 1198.1 L438.0 1198.0 L440.0 1197.8 L442.0 1197.7 L444.0 1197.5 L446.0 1197.4 L448.0 1197.3 L450.0 1197.1 L452.0 1196.9 L454.0 1196.8 L456.0 1196.6 L458.0 1196.4 L460.0 1196.3 L462.0 1196.1 L464.0 1195.9 L466.0 1195.7 L468.0 1195.6 L470.0 1195.4 L472.0 1195.2 L474.0 1195.0 L476.0 1194.8 L478.0 1194.6 L480.0 1194.4 L482.0 1194.1 L484.0 1193.9 L486.0 1193.7 L488.0 1193.5 L490.0 1193.2 L492.0 1193.0 L494.0 1192.7 L496.0 1192.5 L498.0 1192.2 L500.0 1192.0 L502.0 1191.7 L504.0 1191.4 L506.0 1191.1 L508.0 1190.8 L510.0 1190.5 L512.0 1190.2 L514.0 1189.9 L516.0 1189.6 L518.0 1189.3 L520.0 1189.0 L522.0 1188.6 L524.0 1188.3 L526.0 1187.9 L528.0 1187.6 L530.0 1187.2 L532.0 1186.8 L534.0 1186.4 L536.0 1186.0 L538.0 1185.6 L540.0 1185.2 L542.0 1184.8 L544.0 1184.3 L546.0 1183.9 L548.0 1183.4 L550.0 1182.9 L552.0 1182.4 L554.0 1181.9 L556.0 1181.4 L558.0 1180.9 L560.0 1180.4 L562.0 1179.8 L564.0 1179.2 L566.0 1178.6 L568.0 1178.0 L570.0 1177.4 L572.0 1176.8 L574.0 1176.1 L576.0 1175.4 L578.0 1174.8 L580.0 1174.0 L582.0 1173.3 L584.0 1172.5 L586.0 1171.8 L588.0 1171.0 L590.0 1170.1 L592.0 1169.3 L594.0 1168.4 L596.0 1167.5 L598.0 1166.6 L600.0 1165.6 L602.0 1164.6 L604.0 1163.6 L606.0 1162.5 L608.0 1161.4 L610.0 1160.3 L612.0 1159.1 L614.0 1158.0 L616.0 1156.7 L618.0 1155.5 L620.0 1154.1 L622.0 1152.8 L624.0 1151.4 L626.0 1150.0 L628.0 1148.5 L630.0 1147.0 L632.0 1145.4 L634.0 1143.8 L636.0 1142.1 L638.0 1140.4 L640.0 1138.6 L642.0 1136.8 L644.0 1134.9 L646.0 1133.0 L648.0 1131.0 L650.0 1128.9 L652.0 1126.8 L654.0 1124.6 L656.0 1122.4 L658.0 1120.0 L660.0 1117.7 L662.0 1115.2 L664.0 1112.7 L666.0 1110.1 L668.0 1107.4 L670.0 1104.7 L672.0 1101.9 L674.0 1099.0 L676.0 1096.0 L678.0 1092.9 L680.0 1089.8 L682.0 1086.5 L684.0 1083.2 L686.0 1079.8 L688.0 1076.3 L690.0 1072.7 L692.0 1069.0 L694.0 1065.2 L696.0 1061.3 L698.0 1057.3 L700.0 1053.2 L702.0 1049.0 L704.0 1044.7 L706.0 1040.3 L708.0 1035.8 L710.0 1031.2 L712.0 1026.4 L714.0 1021.6 L716.0 1016.6 L718.0 1011.5 L720.0 1006.3 L722.0 1001.0 L724.0 995.6 L726.0 990.0 L728.0 984.4 L730.0 978.6 L732.0 972.7 L734.0 966.6 L736.0 960.5 L738.0 954.2 L740.0 947.8 L742.0 941.3 L744.0 934.7 L746.0 928.0 L748.0 921.1 L750.0 914.1 L752.0 907.0 L754.0 899.9 L756.0 892.5 L758.0 885.1 L760.0 877.6 L762.0 870.0 L764.0 862.3 L766.0 854.5 L768.0 846.5 L770.0 838.5 L772.0 830.4 L774.0 822.2 L776.0 814.0 L778.0 805.6 L780.0 797.2 L782.0 788.7 L784.0 780.1 L786.0 771.5 L788.0 762.8 L790.0 754.1 L792.0 745.3 L794.0 736.4 L796.0 727.5 L798.0 718.6 L800.0 709.6 L802.0 700.6 L804.0 691.6 L806.0 682.5 L808.0 673.4 L810.0 664.4 L812.0 655.3 L814.0 646.2 L816.0 637.1 L818.0 628.0 L820.0 618.9 L822.0 609.9 L824.0 600.8 L826.0 591.8 L828.0 582.9 L830.0 574.0 L832.0 565.1 L834.0 556.2 L836.0 547.5 L838.0 538.8 L840.0 530.1 L842.0 521.5 L844.0 513.0 L846.0 504.6 L848.0 496.3 L850.0 488.1 L852.0 479.9 L854.0 471.9 L856.0 464.0 L858.0 456.2 L860.0 448.5 L862.0 441.0 L864.0 433.5 L866.0 426.3 L868.0 419.1 L870.0 412.1 L872.0 405.3 L874.0 398.6 L876.0 392.1 L878.0 385.8 L880.0 379.6 L882.0 373.6 L884.0 367.8 L886.0 362.2 L888.0 356.8 L890.0 351.5 L892.0 346.5 L894.0 341.7 L896.0 337.1 L898.0 332.7 L900.0 328.6 L902.0 324.7 L904.0 321.0 L906.0 317.6 L908.0 314.4 L910.0 311.4 L912.0 308.8 L914.0 306.3 L916.0 304.2 L918.0 302.3 L920.0 300.7 L922.0 299.4 L924.0 298.3 L926.0 297.6 L928.0 297.2 L930.0 297.0 L932.0 297.2 L934.0 297.6 L936.0 298.4 L938.0 299.5 L940.0 300.9 L942.0 302.5 L944.0 304.5 L946.0 306.9 L948.0 309.5 L950.0 312.4 L952.0 315.6 L954.0 319.1 L956.0 322.9 L958.0 327.0 L960.0 331.3 L962.0 335.9 L964.0 340.9 L966.0 346.0 L968.0 351.4 L970.0 357.1 L972.0 363.0 L974.0 369.2 L976.0 375.6 L978.0 382.2 L980.0 388.9 L982.0 395.9 L984.0 403.1 L986.0 410.5 L988.0 418.0 L990.0 425.6 L992.0 433.5 L994.0 441.4 L996.0 449.5 L998.0 457.6 L1000.0 465.9 L1002.0 474.3 L1004.0 482.7 L1006.0 491.2 L1008.0 499.8 L1010.0 508.4 L1012.0 517.1 L1014.0 525.8 L1016.0 534.5 L1018.0 543.2 L1020.0 551.9 L1022.0 560.7 L1024.0 569.4 L1026.0 578.2 L1028.0 586.9 L1030.0 595.6 L1032.0 604.2 L1034.0 612.9 L1036.0 621.5 L1038.0 630.1 L1040.0 638.6 L1042.0 647.1 L1044.0 655.6 L1046.0 664.0 L1048.0 672.4 L1050.0 680.7 L1052.0 689.0 L1054.0 697.2 L1056.0 705.4 L1058.0 713.5 L1060.0 721.6 L1062.0 729.6 L1064.0 737.5 L1066.0 745.4 L1068.0 753.2 L1070.0 761.0 L1072.0 768.6 L1074.0 776.2 L1076.0 783.8 L1078.0 791.3 L1080.0 798.7 L1082.0 806.0 L1084.0 813.2 L1086.0 820.4 L1088.0 827.5 L1090.0 834.5 L1092.0 841.4 L1094.0 848.2 L1096.0 855.0 L1098.0 861.7 L1100.0 868.3 L1102.0 874.7 L1104.0 881.1 L1106.0 887.5 L1108.0 893.7 L1110.0 899.8 L1112.0 905.9 L1114.0 911.8 L1116.0 917.7 L1118.0 923.4 L1120.0 929.1 L1122.0 934.7 L1124.0 940.2 L1126.0 945.6 L1128.0 950.9 L1130.0 956.1 L1132.0 961.2 L1134.0 966.2 L1136.0 971.2 L1138.0 976.0 L1140.0 980.8 L1142.0 985.4 L1144.0 990.0 L1146.0 994.5 L1148.0 999.0 L1150.0 1003.3 L1152.0 1007.5 L1154.0 1011.7 L1156.0 1015.8 L1158.0 1019.8 L1160.0 1023.8 L1162.0 1027.6 L1164.0 1031.4 L1166.0 1035.1 L1168.0 1038.8 L1170.0 1042.3 L1172.0 1045.8 L1174.0 1049.2 L1176.0 1052.6 L1178.0 1055.9 L1180.0 1059.1 L1182.0 1062.3 L1184.0 1065.4 L1186.0 1068.4 L1188.0 1071.4 L1190.0 1074.3 L1192.0 1077.2 L1194.0 1080.0 L1196.0 1082.8 L1198.0 1085.4 L1200.0 1088.1 L1202.0 1090.7 L1204.0 1093.2 L1206.0 1095.7 L1208.0 1098.1 L1210.0 1100.5 L1212.0 1102.8 L1214.0 1105.1 L1216.0 1107.3 L1218.0 1109.5 L1220.0 1111.7 L1222.0 1113.8 L1224.0 1115.8 L1226.0 1117.8 L1228.0 1119.8 L1230.0 1121.7 L1232.0 1123.6 L1234.0 1125.4 L1236.0 1127.2 L1238.0 1129.0 L1240.0 1130.7 L1242.0 1132.4 L1244.0 1134.1 L1246.0 1135.7 L1248.0 1137.2 L1250.0 1138.8 L1252.0 1140.3 L1254.0 1141.8 L1256.0 1143.2 L1258.0 1144.6 L1260.0 1146.0 L1262.0 1147.3 L1264.0 1148.6 L1266.0 1149.9 L1268.0 1151.1 L1270.0 1152.3 L1272.0 1153.5 L1274.0 1154.7 L1276.0 1155.8 L1278.0 1156.9 L1280.0 1158.0 L1282.0 1159.1 L1284.0 1160.1 L1286.0 1161.1 L1288.0 1162.1 L1290.0 1163.0 L1292.0 1164.0 L1294.0 1164.9 L1296.0 1165.8 L1298.0 1166.7 L1300.0 1167.5 L1302.0 1168.4 L1304.0 1169.2 L1306.0 1170.0 L1308.0 1170.8 L1310.0 1171.5 L1312.0 1172.3 L1314.0 1173.0 L1316.0 1173.7 L1318.0 1174.4 L1320.0 1175.1 L1322.0 1175.8 L1324.0 1176.4 L1326.0 1177.1 L1328.0 1177.7 L1330.0 1178.3 L1332.0 1178.9 L1334.0 1179.5 L1336.0 1180.0 L1338.0 1180.6 L1340.0 1181.2 L1342.0 1181.7 L1344.0 1182.2 L1346.0 1182.7 L1348.0 1183.2 L1350.0 1183.7 L1352.0 1184.2 L1354.0 1184.7 L1356.0 1185.1 L1358.0 1185.6 L1360.0 1186.0 L1362.0 1186.5 L1364.0 1186.9 L1366.0 1187.3 L1368.0 1187.7 L1370.0 1188.1 L1372.0 1188.5 L1374.0 1188.9 L1376.0 1189.2 L1378.0 1189.6 L1380.0 1189.9 L1382.0 1190.3 L1384.0 1190.6 L1386.0 1191.0 L1388.0 1191.3 L1390.0 1191.6 L1392.0 1191.9 L1394.0 1192.2 L1396.0 1192.5 L1398.0 1192.8 L1400.0 1193.1 L1402.0 1193.4 L1404.0 1193.6 L1406.0 1193.9 L1408.0 1194.2 L1410.0 1194.4 L1412.0 1194.7 L1414.0 1194.9 L1416.0 1195.2 L1418.0 1195.4 L1420.0 1195.6 L1422.0 1195.9 L1424.0 1196.1 L1426.0 1196.3 L1428.0 1196.5 L1430.0 1196.7 L1432.0 1196.9 L1434.0 1197.1 L1436.0 1197.3 L1438.0 1197.5 L1440.0 1197.7 L1442.0 1197.8 L1444.0 1198.0 L1446.0 1198.2 L1448.0 1198.4 L1450.0 1198.5 L1452.0 1198.7 L1454.0 1198.8 L1456.0 1199.0 L1458.0 1199.1 L1460.0 1199.3 L1462.0 1199.4 L1464.0 1199.6 L1466.0 1199.7 L1468.0 1199.8 L1470.0 1200.0 L1472.0 1200.1 L1474.0 1200.2 L1476.0 1200.3 L1478.0 1200.4 L1480.0 1200.6 L1482.0 1200.7 L1484.0 1200.8 L1486.0 1200.9 L1488.0 1201.0 L1490.0 1201.1 L1492.0 1201.2 L1494.0 1201.3 L1496.0 1201.4 L1498.0 1201.5 L1500.0 1201.6 L1502.0 1201.7 L1504.0 1201.8 L1506.0 1201.9 L1508.0 1201.9 L1510.0 1202.0 L1512.0 1202.1 L1514.0 1202.2 L1516.0 1202.3 L1518.0 1202.4 L1519.0 1202.4 L1579.0 1203.9 L1930.0 1206.8" stroke="#8000ff"/>
<path d="M188.0 1201.7 L190.0 1201.6 L192.0 1201.6 L194.0 1201.5 L196.0 1201.4 L198.0 1201.4 L200.0 1201.3 L202.0 1201.2 L204.0 1201.1 L206.0 1201.1 L208.0 1201.0 L210.0 1200.9 L212.0 1200.8 L214.0 1200.8 L216.0 1200.7 L218.0 1200.6 L220.0 1200.5 L222.0 1200.4 L224.0 1200.4 L226.0 1200.3 L228.0 1200.2 L230.0 1200.1 L232.0 1200.0 L234.0 1199.9 L236.0 1199.9 L238.0 1199.8 L240.0 1199.7 L242.0 1199.6 L244.0 1199.5 L246.0 1199.4 L248.0 1199.3 L250.0 1199.2 L252.0 1199.1 L254.0 1199.0 L256.0 1199.0 L258.0 1198.9 L260.0 1198.8 L262.0 1198.7 L264.0 1198.6 L266.0 1198.5 L268.0 1198.4 L270.0 1198.3 L272.0 1198.2 L274.0 1198.1 L276.0 1198.0 L278.0 1197.9 L280.0 1197.8 L282.0 1197.7 L284.0 1197.6 L286.0 1197.5 L288.0 1197.4 L290.0 1197.3 L292.0 1197.2 L294.0 1197.1 L296.0 1197.0 L298.0 1196.9 L300.0 1196.8 L302.0 1196.7 L304.0 1196.6 L306.0 1196.5 L308.0 1196.4 L310.0 1196.3 L312.0 1196.2 L314.0 1196.1 L316.0 1196.0 L318.0 1195.9 L320.0 1195.8 L322.0 1195.7 L324.0 1195.6 L326.0 1195.5 L328.0 1195.4 L330.0 1195.2 L332.0 1195.1 L334.0 1195.0 L336.0 1194.9 L338.0 1194.8 L340.0 1194.7 L342.0 1194.6 L344.0 1194.5 L346.0 1194.4 L348.0 1194.3 L350.0 1194.2 L352.0 1194.1 L354.0 1193.9 L356.0 1193.8 L358.0 1193.7 L360.0 1193.6 L362.0 1193.5 L364.0 1193.4 L366.0 1193.2 L368.0 1193.1 L370.0 1193.0 L372.0 1192.9 L374.0 1192.7 L376.0 1192.6 L378.0 1192.5 L380.0 1192.4 L382.0 1192.2 L384.0 1192.1 L386.0 1192.0 L388.0 1191.8 L390.0 1191.7 L392.0 1191.5 L394.0 1191.4 L396.0 1191.3 L398.0 1191.1 L400.0 1191.0 L402.0 1190.8 L404.0 1190.7 L406.0 1190.5 L408.0 1190.4 L410.0 1190.2 L412.0 1190.0 L414.0 1189.9 L416.0 1189.7 L418.0 1189.6 L420.0 1189.4 L422.0 1189.2 L424.0 1189.1 L426.0 1188.9 L428.0 1188.7 L430.0 1188.6 L432.0 1188.4 L434.0 1188.2 L436.0 1188.0 L438.0 1187.8 L440.0 1187.7 L442.0 1187.5 L444.0 1187.3 L446.0 1187.1 L448.0 1186.9 L450.0 1186.7 L452.0 1186.5 L454.0 1186.3 L456.0 1186.1 L458.0 1185.9 L460.0 1185.7 L462.0 1185.5 L464.0 1185.3 L466.0 1185.1 L468.0 1184.9 L470.0 1184.7 L472.0 1184.4 L474.0 1184.2 L476.0 1184.0 L478.0 1183.8 L480.0 1183.5 L482.0 1183.3 L484.0 1183.0 L486.0 1182.8 L488.0 1182.5 L490.0 1182.3 L492.0 1182.0 L494.0 1181.7 L496.0 1181.5 L498.0 1181.2 L500.0 1180.9 L502.0 1180.6 L504.0 1180.3 L506.0 1180.0 L508.0 1179.7 L510.0 1179.3 L512.0 1179.0 L514.0 1178.6 L516.0 1178.2 L518.0 1177.9 L520.0 1177.5 L522.0 1177.0 L524.0 1176.6 L526.0 1176.2 L528.0 1175.7 L530.0 1175.2 L532.0 1174.7 L534.0 1174.2 L536.0 1173.7 L538.0 1173.1 L540.0 1172.5 L542.0 1171.9 L544.0 1171.3 L546.0 1170.6 L548.0 1169.9 L550.0 1169.2 L552.0 1168.4 L554.0 1167.7 L556.0 1166.9 L558.0 1166.0 L560.0 1165.2 L562.0 1164.2 L564.0 1163.3 L566.0 1162.3 L568.0 1161.3 L570.0 1160.3 L572.0 1159.2 L574.0 1158.1 L576.0 1156.9 L578.0 1155.7 L580.0 1154.5 L582.0 1153.2 L584.0 1151.8 L586.0 1150.5 L588.0 1149.0 L590.0 1147.5 L592.0 1146.0 L594.0 1144.4 L596.0 1142.8 L598.0 1141.1 L600.0 1139.3 L602.0 1137.5 L604.0 1135.6 L606.0 1133.6 L608.0 1131.6 L610.0 1129.5 L612.0 1127.3 L614.0 1125.1 L616.0 1122.7 L618.0 1120.3 L620.0 1117.8 L622.0 1115.2 L624.0 1112.6 L626.0 1109.8 L628.0 1106.9 L630.0 1103.9 L632.0 1100.9 L634.0 1097.7 L636.0 1094.4 L638.0 1091.0 L640.0 1087.5 L642.0 1083.9 L644.0 1080.2 L646.0 1076.4 L648.0 1072.4 L650.0 1068.4 L652.0 1064.2 L654.0 1059.9 L656.0 1055.5 L658.0 1051.0 L660.0 1046.3 L662.0 1041.6 L664.0 1036.7 L666.0 1031.7 L668.0 1026.6 L670.0 1021.4 L672.0 1016.0 L674.0 1010.6 L676.0 1005.0 L678.0 999.4 L680.0 993.6 L682.0 987.7 L684.0 981.8 L686.0 975.7 L688.0 969.5 L690.0 963.2 L692.0 956.8 L694.0 950.3 L696.0 943.7 L698.0 937.0 L700.0 930.3 L702.0 923.4 L704.0 916.4 L706.0 909.4 L708.0 902.2 L710.0 894.9 L712.0 887.6 L714.0 880.2 L716.0 872.7 L718.0 865.1 L720.0 857.4 L722.0 849.6 L724.0 841.7 L726.0 833.8 L728.0 825.7 L730.0 817.6 L732.0 809.4 L734.0 801.1 L736.0 792.8 L738.0 784.3 L740.0 775.8 L742.0 767.2 L744.0 758.6 L746.0 749.9 L748.0 741.1 L750.0 732.3 L752.0 723.4 L754.0 714.5 L756.0 705.5 L758.0 696.5 L760.0 687.4 L762.0 678.3 L764.0 669.2 L766.0 660.1 L768.0 651.0 L770.0 641.9 L772.0 632.8 L774.0 623.7 L776.0 614.6 L778.0 605.6 L780.0 596.6 L782.0 587.6 L784.0 578.7 L786.0 569.9 L788.0 561.1 L790.0 552.5 L792.0 543.9 L794.0 535.3 L796.0 526.9 L798.0 518.6 L800.0 510.4 L802.0 502.4 L804.0 494.4 L806.0 486.6 L808.0 478.9 L810.0 471.3 L812.0 463.9 L814.0 456.6 L816.0 449.4 L818.0 442.4 L820.0 435.6 L822.0 428.9 L824.0 422.3 L826.0 416.0 L828.0 409.7 L830.0 403.7 L832.0 397.8 L834.0 392.0 L836.0 386.5 L838.0 381.1 L840.0 375.8 L842.0 370.8 L844.0 365.9 L846.0 361.2 L848.0 356.6 L850.0 352.3 L852.0 348.1 L854.0 344.1 L856.0 340.3 L858.0 336.6 L860.0 333.2 L862.0 329.9 L864.0 326.8 L866.0 324.0 L868.0 321.3 L870.0 318.8 L872.0 316.5 L874.0 314.4 L876.0 312.5 L878.0 310.9 L880.0 309.4 L882.0 308.1 L884.0 307.1 L886.0 306.2 L888.0 305.6 L890.0 305.2 L892.0 305.0 L892.7 305.0 L894.7 305.1 L896.7 305.5 L898.7 306.0 L900.7 306.8 L902.7 307.9 L904.7 309.1 L906.7 310.6 L908.7 312.4 L910.7 314.4 L912.7 316.6 L914.7 319.1 L916.7 321.8 L918.7 324.8 L920.7 328.0 L922.7 331.5 L924.7 335.2 L926.7 339.1 L928.7 343.3 L930.7 347.7 L932.7 352.4 L934.7 357.3 L936.7 362.4 L938.7 367.7 L940.7 373.3 L942.7 379.1 L944.7 385.1 L946.7 391.3 L948.7 397.7 L950.7 404.3 L952.7 411.1 L954.7 418.1 L956.7 425.2 L958.7 432.6 L960.7 440.1 L962.7 447.7 L964.7 455.5 L966.7 463.5 L968.7 471.6 L970.7 479.8 L972.7 488.1 L974.7 496.6 L976.7 505.2 L978.7 513.8 L980.7 522.6 L982.7 531.4 L984.7 540.4 L986.7 549.3 L988.7 558.4 L990.7 567.5 L992.7 576.6 L994.7 585.8 L996.7 595.0 L998.7 604.2 L1000.7 613.4 L1002.7 622.6 L1004.7 631.8 L1006.7 641.0 L1008.7 650.1 L1010.7 659.3 L1012.7 668.3 L1014.7 677.4 L1016.7 686.4 L1018.7 695.3 L1020.7 704.1 L1022.7 712.9 L1024.7 721.6 L1026.7 730.2 L1028.7 738.7 L1030.7 747.1 L1032.7 755.5 L1034.7 763.7 L1036.7 771.8 L1038.7 779.8 L1040.7 787.7 L1042.7 795.4 L1044.7 803.1 L1046.7 810.6 L1048.7 818.0 L1050.7 825.3 L1052.7 832.5 L1054.7 839.5 L1056.7 846.5 L1058.7 853.3 L1060.7 860.0 L1062.7 866.6 L1064.7 873.1 L1066.7 879.4 L1068.7 885.7 L1070.7 891.8 L1072.7 897.8 L1074.7 903.8 L1076.7 909.6 L1078.7 915.3 L1080.7 920.9 L1082.7 926.4 L1084.7 931.8 L1086.7 937.2 L1088.7 942.4 L1090.7 947.5 L1092.7 952.6 L1094.7 957.6 L1096.7 962.4 L1098.7 967.2 L1100.7 971.9 L1102.7 976.5 L1104.7 981.1 L1106.7 985.5 L1108.7 989.9 L1110.7 994.2 L1112.7 998.4 L1114.7 1002.5 L1116.7 1006.6 L1118.7 1010.5 L1120.7 1014.4 L1122.7 1018.3 L1124.7 1022.0 L1126.7 1025.7 L1128.7 1029.3 L1130.7 1032.9 L1132.7 1036.3 L1134.7 1039.8 L1136.7 1043.1 L1138.7 1046.4 L1140.7 1049.6 L1142.7 1052.7 L1144.7 1055.8 L1146.7 1058.8 L1148.7 1061.8 L1150.7 1064.7 L1152.7 1067.5 L1154.7 1070.3 L1156.7 1073.1 L1158.7 1075.7 L1160.7 1078.4 L1162.7 1080.9 L1164.7 1083.4 L1166.7 1085.9 L1168.7 1088.3 L1170.7 1090.7 L1172.7 1093.0 L1174.7 1095.3 L1176.7 1097.5 L1178.7 1099.7 L1180.7 1101.8 L1182.7 1103.9 L1184.7 1105.9 L1186.7 1107.9 L1188.7 1109.9 L1190.7 1111.8 L1192.7 1113.7 L1194.7 1115.5 L1196.7 1117.3 L1198.7 1119.1 L1200.7 1120.8 L1202.7 1122.5 L1204.7 1124.2 L1206.7 1125.8 L1208.7 1127.4 L1210.7 1128.9 L1212.7 1130.4 L1214.7 1131.9 L1216.7 1133.4 L1218.7 1134.8 L1220.7 1136.2 L1222.7 1137.6 L1224.7 1138.9 L1226.7 1140.2 L1228.7 1141.5 L1230.7 1142.7 L1232.7 1144.0 L1234.7 1145.2 L1236.7 1146.3 L1238.7 1147.5 L1240.7 1148.6 L1242.7 1149.7 L1244.7 1150.8 L1246.7 1151.9 L1248.7 1152.9 L1250.7 1153.9 L1252.7 1154.9 L1254.7 1155.9 L1256.7 1156.8 L1258.7 1157.8 L1260.7 1158.7 L1262.7 1159.6 L1264.7 1160.5 L1266.7 1161.3 L1268.7 1162.2 L1270.7 1163.0 L1272.7 1163.8 L1274.7 1164.6 L1276.7 1165.4 L1278.7 1166.1 L1280.7 1166.9 L1282.7 1167.6 L1284.7 1168.3 L1286.7 1169.0 L1288.7 1169.7 L1290.7 1170.4 L1292.7 1171.1 L1294.7 1171.7 L1296.7 1172.4 L1298.7 1173.0 L1300.7 1173.6 L1302.7 1174.2 L1304.7 1174.8 L1306.7 1175.4 L1308.7 1176.0 L1310.7 1176.5 L1312.7 1177.1 L1314.7 1177.6 L1316.7 1178.2 L1318.7 1178.7 L1320.7 1179.2 L1322.7 1179.7 L1324.7 1180.2 L1326.7 1180.7 L1328.7 1181.1 L1330.7 1181.6 L1332.7 1182.1 L1334.7 1182.5 L1336.7 1182.9 L1338.7 1183.4 L1340.7 1183.8 L1342.7 1184.2 L1344.7 1184.6 L1346.7 1185.0 L1348.7 1185.4 L1350.7 1185.8 L1352.7 1186.2 L1354.7 1186.6 L1356.7 1186.9 L1358.7 1187.3 L1360.7 1187.6 L1362.7 1188.0 L1364.7 1188.3 L1366.7 1188.7 L1368.7 1189.0 L1370.7 1189.3 L1372.7 1189.6 L1374.7 1189.9 L1376.7 1190.2 L1378.7 1190.5 L1380.7 1190.8 L1382.7 1191.1 L1384.7 1191.4 L1386.7 1191.7 L1388.7 1192.0 L1390.7 1192.2 L1392.7 1192.5 L1394.7 1192.8 L1396.7 1193.0 L1398.7 1193.3 L1400.7 1193.5 L1402.7 1193.7 L1404.7 1194.0 L1406.7 1194.2 L1408.7 1194.4 L1410.7 1194.7 L1412.7 1194.9 L1414.7 1195.1 L1416.7 1195.3 L1418.7 1195.5 L1420.7 1195.7 L1422.7 1195.9 L1424.7 1196.1 L1426.7 1196.3 L1428.7 1196.5 L1430.7 1196.7 L1432.7 1196.9 L1434.7 1197.1 L1436.7 1197.3 L1438.7 1197.4 L1440.7 1197.6 L1442.7 1197.8 L1444.7 1197.9 L1446.7 1198.1 L1448.7 1198.3 L1450.7 1198.4 L1452.7 1198.6 L1454.7 1198.7 L1456.7 1198.9 L1458.7 1199.0 L1460.7 1199.1 L1462.7 1199.3 L1464.7 1199.4 L1466.7 1199.6 L1468.7 1199.7 L1470.7 1199.8 L1472.7 1200.0 L1474.7 1200.1 L1476.7 1200.2 L1478.7 1200.3 L1480.7 1200.4 L1482.7 1200.6 L1484.7 1200.7 L1486.7 1200.8 L1488.7 1200.9 L1490.7 1201.0 L1492.7 1201.1 L1494.7 1201.2 L1496.7 1201.3 L1498.7 1201.4 L1500.7 1201.5 L1502.7 1201.6 L1504.7 1201.7 L1506.7 1201.8 L1508.7 1201.9 L1510.7 1202.0 L1512.7 1202.1 L1514.7 1202.2 L1516.7 1202.3 L1518.7 1202.4 L1519.0 1202.4 L1579.0 1203.8 L1930.0 1206.3" stroke="#ff0080"/>
<path d="M188.0 1198.0 L190.0 1197.9 L192.0 1197.8 L194.0 1197.7 L196.0 1197.6 L198.0 1197.4 L200.0 1197.3 L202.0 1197.2 L204.0 1197.1 L206.0 1197.0 L208.0 1196.9 L210.0 1196.7 L212.0 1196.6 L214.0 1196.5 L216.0 1196.4 L218.0 1196.3 L220.0 1196.1 L222.0 1196.0 L224.0 1195.9 L226.0 1195.8 L228.0 1195.6 L230.0 1195.5 L232.0 1195.4 L234.0 1195.2 L236.0 1195.1 L238.0 1195.0 L240.0 1194.8 L242.0 1194.7 L244.0 1194.6 L246.0 1194.4 L248.0 1194.3 L250.0 1194.1 L252.0 1194.0 L254.0 1193.9 L256.0 1193.7 L258.0 1193.6 L260.0 1193.4 L262.0 1193.3 L264.0 1193.1 L266.0 1193.0 L268.0 1192.8 L270.0 1192.7 L272.0 1192.5 L274.0 1192.4 L276.0 1192.2 L278.0 1192.1 L280.0 1191.9 L282.0 1191.8 L284.0 1191.6 L286.0 1191.5 L288.0 1191.3 L290.0 1191.2 L292.0 1191.0 L294.0 1190.8 L296.0 1190.7 L298.0 1190.5 L300.0 1190.4 L302.0 1190.2 L304.0 1190.0 L306.0 1189.9 L308.0 1189.7 L310.0 1189.5 L312.0 1189.4 L314.0 1189.2 L316.0 1189.0 L318.0 1188.9 L320.0 1188.7 L322.0 1188.5 L324.0 1188.4 L326.0 1188.2 L328.0 1188.0 L330.0 1187.8 L332.0 1187.7 L334.0 1187.5 L336.0 1187.3 L338.0 1187.1 L340.0 1187.0 L342.0 1186.8 L344.0 1186.6 L346.0 1186.4 L348.0 1186.3 L350.0 1186.1 L352.0 1185.9 L354.0 1185.7 L356.0 1185.5 L358.0 1185.3 L360.0 1185.2 L362.0 1185.0 L364.0 1184.8 L366.0 1184.6 L368.0 1184.4 L370.0 1184.2 L372.0 1184.0 L374.0 1183.8 L376.0 1183.6 L378.0 1183.4 L380.0 1183.2 L382.0 1183.0 L384.0 1182.8 L386.0 1182.6 L388.0 1182.4 L390.0 1182.2 L392.0 1182.0 L394.0 1181.8 L396.0 1181.5 L398.0 1181.3 L400.0 1181.1 L402.0 1180.9 L404.0 1180.7 L406.0 1180.5 L408.0 1180.2 L410.0 1180.0 L412.0 1179.8 L414.0 1179.5 L416.0 1179.3 L418.0 1179.1 L420.0 1178.8 L422.0 1178.6 L424.0 1178.4 L426.0 1178.1 L428.0 1177.9 L430.0 1177.6 L432.0 1177.4 L434.0 1177.2 L436.0 1176.9 L438.0 1176.7 L440.0 1176.4 L442.0 1176.1 L444.0 1175.9 L446.0 1175.6 L448.0 1175.4 L450.0 1175.1 L452.0 1174.8 L454.0 1174.6 L456.0 1174.3 L458.0 1174.0 L460.0 1173.7 L462.0 1173.5 L464.0 1173.2 L466.0 1172.9 L468.0 1172.6 L470.0 1172.3 L472.0 1171.9 L474.0 1171.6 L476.0 1171.3 L478.0 1171.0 L480.0 1170.6 L482.0 1170.3 L484.0 1169.9 L486.0 1169.5 L488.0 1169.2 L490.0 1168.8 L492.0 1168.4 L494.0 1167.9 L496.0 1167.5 L498.0 1167.1 L500.0 1166.6 L502.0 1166.1 L504.0 1165.6 L506.0 1165.1 L508.0 1164.6 L510.0 1164.1 L512.0 1163.5 L514.0 1162.9 L516.0 1162.4 L518.0 1161.7 L520.0 1161.1 L522.0 1160.4 L524.0 1159.8 L526.0 1159.0 L528.0 1158.3 L530.0 1157.6 L532.0 1156.8 L534.0 1156.0 L536.0 1155.1 L538.0 1154.3 L540.0 1153.4 L542.0 1152.5 L544.0 1151.5 L546.0 1150.5 L548.0 1149.5 L550.0 1148.4 L552.0 1147.3 L554.0 1146.2 L556.0 1145.0 L558.0 1143.8 L560.0 1142.6 L562.0 1141.3 L564.0 1139.9 L566.0 1138.5 L568.0 1137.1 L570.0 1135.6 L572.0 1134.1 L574.0 1132.5 L576.0 1130.8 L578.0 1129.1 L580.0 1127.3 L582.0 1125.5 L584.0 1123.5 L586.0 1121.6 L588.0 1119.5 L590.0 1117.4 L592.0 1115.2 L594.0 1112.9 L596.0 1110.5 L598.0 1108.1 L600.0 1105.5 L602.0 1102.9 L604.0 1100.2 L606.0 1097.4 L608.0 1094.5 L610.0 1091.5 L612.0 1088.4 L614.0 1085.2 L616.0 1081.9 L618.0 1078.5 L620.0 1075.0 L622.0 1071.4 L624.0 1067.6 L626.0 1063.8 L628.0 1059.8 L630.0 1055.8 L632.0 1051.6 L634.0 1047.3 L636.0 1042.9 L638.0 1038.4 L640.0 1033.8 L642.0 1029.0 L644.0 1024.2 L646.0 1019.2 L648.0 1014.1 L650.0 1008.9 L652.0 1003.5 L654.0 998.1 L656.0 992.5 L658.0 986.8 L660.0 981.0 L662.0 975.0 L664.0 969.0 L666.0 962.8 L668.0 956.5 L670.0 950.1 L672.0 943.6 L674.0 936.9 L676.0 930.2 L678.0 923.3 L680.0 916.3 L682.0 909.2 L684.0 902.0 L686.0 894.7 L688.0 887.3 L690.0 879.7 L692.0 872.1 L694.0 864.4 L696.0 856.5 L698.0 848.6 L700.0 840.6 L702.0 832.5 L704.0 824.3 L706.0 816.0 L708.0 807.6 L710.0 799.1 L712.0 790.6 L714.0 782.0 L716.0 773.3 L718.0 764.6 L720.0 755.8 L722.0 746.9 L724.0 738.0 L726.0 729.1 L728.0 720.1 L730.0 711.0 L732.0 702.0 L734.0 692.9 L736.0 683.8 L738.0 674.6 L740.0 665.5 L742.0 656.4 L744.0 647.3 L746.0 638.1 L748.0 629.0 L750.0 620.0 L752.0 610.9 L754.0 601.9 L756.0 592.9 L758.0 584.0 L760.0 575.2 L762.0 566.4 L764.0 557.7 L766.0 549.0 L768.0 540.4 L770.0 531.9 L772.0 523.6 L774.0 515.3 L776.0 507.1 L778.0 499.0 L780.0 491.0 L782.0 483.1 L784.0 475.4 L786.0 467.7 L788.0 460.2 L790.0 452.8 L792.0 445.6 L794.0 438.5 L796.0 431.5 L798.0 424.6 L800.0 417.9 L802.0 411.4 L804.0 404.9 L806.0 398.7 L808.0 392.5 L810.0 386.6 L812.0 380.7 L814.0 375.1 L816.0 369.6 L818.0 364.2 L820.0 359.0 L822.0 354.0 L824.0 349.1 L826.0 344.4 L828.0 339.8 L830.0 335.5 L832.0 331.3 L834.0 327.2 L836.0 323.4 L838.0 319.7 L840.0 316.2 L842.0 312.9 L844.0 309.8 L846.0 306.8 L848.0 304.1 L850.0 301.5 L852.0 299.1 L854.0 297.0 L856.0 295.0 L858.0 293.3 L860.0 291.7 L862.0 290.4 L864.0 289.3 L866.0 288.4 L868.0 287.7 L870.0 287.3 L872.0 287.0 L873.0 287.0 L875.0 287.1 L877.0 287.5 L879.0 288.1 L881.0 288.9 L883.0 290.0 L885.0 291.3 L887.0 292.8 L889.0 294.6 L891.0 296.6 L893.0 298.9 L895.0 301.4 L897.0 304.1 L899.0 307.1 L901.0 310.3 L903.0 313.7 L905.0 317.3 L907.0 321.1 L909.0 325.1 L911.0 329.2 L913.0 333.6 L915.0 338.1 L917.0 342.7 L919.0 347.6 L921.0 352.5 L923.0 357.6 L925.0 362.7 L927.0 368.0 L929.0 373.4 L931.0 378.9 L933.0 384.5 L935.0 390.1 L937.0 395.9 L939.0 401.7 L941.0 407.6 L943.0 413.6 L945.0 419.7 L947.0 425.8 L949.0 432.0 L951.0 438.4 L953.0 444.8 L955.0 451.3 L957.0 458.0 L959.0 464.7 L961.0 471.6 L963.0 478.6 L965.0 485.7 L967.0 493.0 L969.0 500.4 L971.0 508.0 L973.0 515.7 L975.0 523.6 L977.0 531.6 L979.0 539.8 L981.0 548.2 L983.0 556.7 L985.0 565.4 L987.0 574.2 L989.0 583.2 L991.0 592.3 L993.0 601.5 L995.0 610.8 L997.0 620.2 L999.0 629.7 L1001.0 639.2 L1003.0 648.8 L1005.0 658.4 L1007.0 668.1 L1009.0 677.7 L1011.0 687.3 L1013.0 696.9 L1015.0 706.4 L1017.0 715.9 L1019.0 725.2 L1021.0 734.5 L1023.0 743.7 L1025.0 752.8 L1027.0 761.7 L1029.0 770.5 L1031.0 779.2 L1033.0 787.7 L1035.0 796.0 L1037.0 804.3 L1039.0 812.3 L1041.0 820.2 L1043.0 828.0 L1045.0 835.6 L1047.0 843.0 L1049.0 850.3 L1051.0 857.5 L1053.0 864.5 L1055.0 871.4 L1057.0 878.1 L1059.0 884.7 L1061.0 891.2 L1063.0 897.5 L1065.0 903.7 L1067.0 909.8 L1069.0 915.8 L1071.0 921.6 L1073.0 927.3 L1075.0 933.0 L1077.0 938.5 L1079.0 943.9 L1081.0 949.2 L1083.0 954.4 L1085.0 959.5 L1087.0 964.5 L1089.0 969.4 L1091.0 974.2 L1093.0 978.9 L1095.0 983.5 L1097.0 988.0 L1099.0 992.5 L1101.0 996.8 L1103.0 1001.1 L1105.0 1005.3 L1107.0 1009.4 L1109.0 1013.4 L1111.0 1017.4 L1113.0 1021.3 L1115.0 1025.0 L1117.0 1028.8 L1119.0 1032.4 L1121.0 1036.0 L1123.0 1039.4 L1125.0 1042.9 L1127.0 1046.2 L1129.0 1049.5 L1131.0 1052.7 L1133.0 1055.9 L1135.0 1059.0 L1137.0 1062.0 L1139.0 1065.0 L1141.0 1067.9 L1143.0 1070.7 L1145.0 1073.5 L1147.0 1076.2 L1149.0 1078.9 L1151.0 1081.5 L1153.0 1084.1 L1155.0 1086.6 L1157.0 1089.1 L1159.0 1091.5 L1161.0 1093.9 L1163.0 1096.2 L1165.0 1098.5 L1167.0 1100.7 L1169.0 1102.9 L1171.0 1105.1 L1173.0 1107.2 L1175.0 1109.2 L1177.0 1111.2 L1179.0 1113.2 L1181.0 1115.1 L1183.0 1117.0 L1185.0 1118.9 L1187.0 1120.7 L1189.0 1122.5 L1191.0 1124.2 L1193.0 1125.9 L1195.0 1127.6 L1197.0 1129.2 L1199.0 1130.8 L1201.0 1132.3 L1203.0 1133.9 L1205.0 1135.4 L1207.0 1136.8 L1209.0 1138.3 L1211.0 1139.6 L1213.0 1141.0 L1215.0 1142.4 L1217.0 1143.7 L1219.0 1144.9 L1221.0 1146.2 L1223.0 1147.4 L1225.0 1148.6 L1227.0 1149.8 L1229.0 1150.9 L1231.0 1152.0 L1233.0 1153.1 L1235.0 1154.2 L1237.0 1155.2 L1239.0 1156.3 L1241.0 1157.3 L1243.0 1158.3 L1245.0 1159.2 L1247.0 1160.1 L1249.0 1161.1 L1251.0 1162.0 L1253.0 1162.8 L1255.0 1163.7 L1257.0 1164.5 L1259.0 1165.4 L1261.0 1166.2 L1263.0 1167.0 L1265.0 1167.7 L1267.0 1168.5 L1269.0 1169.2 L1271.0 1169.9 L1273.0 1170.7 L1275.0 1171.4 L1277.0 1172.0 L1279.0 1172.7 L1281.0 1173.4 L1283.0 1174.0 L1285.0 1174.6 L1287.0 1175.2 L1289.0 1175.8 L1291.0 1176.4 L1293.0 1177.0 L1295.0 1177.6 L1297.0 1178.1 L1299.0 1178.7 L1301.0 1179.2 L1303.0 1179.7 L1305.0 1180.2 L1307.0 1180.7 L1309.0 1181.2 L1311.0 1181.7 L1313.0 1182.2 L1315.0 1182.6 L1317.0 1183.1 L1319.0 1183.5 L1321.0 1184.0 L1323.0 1184.4 L1325.0 1184.8 L1327.0 1185.2 L1329.0 1185.6 L1331.0 1186.0 L1333.0 1186.4 L1335.0 1186.8 L1337.0 1187.2 L1339.0 1187.5 L1341.0 1187.9 L1343.0 1188.3 L1345.0 1188.6 L1347.0 1188.9 L1349.0 1189.3 L1351.0 1189.6 L1353.0 1189.9 L1355.0 1190.2 L1357.0 1190.5 L1359.0 1190.8 L1361.0 1191.1 L1363.0 1191.4 L1365.0 1191.7 L1367.0 1192.0 L1369.0 1192.2 L1371.0 1192.5 L1373.0 1192.8 L1375.0 1193.0 L1377.0 1193.3 L1379.0 1193.5 L1381.0 1193.7 L1383.0 1194.0 L1385.0 1194.2 L1387.0 1194.4 L1389.0 1194.7 L1391.0 1194.9 L1393.0 1195.1 L1395.0 1195.3 L1397.0 1195.5 L1399.0 1195.7 L1401.0 1195.9 L1403.0 1196.1 L1405.0 1196.3 L1407.0 1196.5 L1409.0 1196.6 L1411.0 1196.8 L1413.0 1197.0 L1415.0 1197.2 L1417.0 1197.3 L1419.0 1197.5 L1421.0 1197.7 L1423.0 1197.8 L1425.0 1198.0 L1427.0 1198.1 L1429.0 1198.3 L1431.0 1198.4 L1433.0 1198.5 L1435.0 1198.7 L1437.0 1198.8 L1439.0 1198.9 L1441.0 1199.1 L1443.0 1199.2 L1445.0 1199.3 L1447.0 1199.4 L1449.0 1199.6 L1451.0 1199.7 L1453.0 1199.8 L1455.0 1199.9 L1457.0 1200.0 L1459.0 1200.1 L1461.0 1200.2 L1463.0 1200.3 L1465.0 1200.4 L1467.0 1200.5 L1469.0 1200.6 L1471.0 1200.7 L1473.0 1200.8 L1475.0 1200.9 L1477.0 1201.0 L1479.0 1201.0 L1481.0 1201.1 L1483.0 1201.2 L1485.0 1201.3 L1487.0 1201.4 L1489.0 1201.4 L1491.0 1201.5 L1493.0 1201.6 L1495.0 1201.6 L1497.0 1201.7 L1499.0 1201.8 L1501.0 1201.8 L1503.0 1201.9 L1505.0 1202.0 L1507.0 1202.0 L1509.0 1202.1 L1511.0 1202.2 L1513.0 1202.2 L1515.0 1202.3 L1517.0 1202.3 L1519.0 1202.4 L1579.0 1203.6 L1930.0 1205.7" stroke="#ffffff"/>
<path d="M188.0 1194.3 L190.0 1194.2 L192.0 1194.0 L194.0 1193.9 L196.0 1193.8 L198.0 1193.6 L200.0 1193.5 L202.0 1193.3 L204.0 1193.2 L206.0 1193.0 L208.0 1192.9 L210.0 1192.7 L212.0 1192.6 L214.0 1192.4 L216.0 1192.3 L218.0 1192.1 L220.0 1192.0 L222.0 1191.8 L224.0 1191.6 L226.0 1191.5 L228.0 1191.3 L230.0 1191.2 L232.0 1191.0 L234.0 1190.8 L236.0 1190.7 L238.0 1190.5 L240.0 1190.3 L242.0 1190.2 L244.0 1190.0 L246.0 1189.8 L248.0 1189.6 L250.0 1189.5 L252.0 1189.3 L254.0 1189.1 L256.0 1188.9 L258.0 1188.8 L260.0 1188.6 L262.0 1188.4 L264.0 1188.2 L266.0 1188.0 L268.0 1187.8 L270.0 1187.7 L272.0 1187.5 L274.0 1187.3 L276.0 1187.1 L278.0 1186.9 L280.0 1186.7 L282.0 1186.5 L284.0 1186.3 L286.0 1186.1 L288.0 1185.9 L290.0 1185.7 L292.0 1185.5 L294.0 1185.3 L296.0 1185.1 L298.0 1184.9 L300.0 1184.7 L302.0 1184.5 L304.0 1184.3 L306.0 1184.1 L308.0 1183.9 L310.0 1183.7 L312.0 1183.5 L314.0 1183.3 L316.0 1183.0 L318.0 1182.8 L320.0 1182.6 L322.0 1182.4 L324.0 1182.2 L326.0 1182.0 L328.0 1181.7 L330.0 1181.5 L332.0 1181.3 L334.0 1181.1 L336.0 1180.9 L338.0 1180.6 L340.0 1180.4 L342.0 1180.2 L344.0 1180.0 L346.0 1179.7 L348.0 1179.5 L350.0 1179.3 L352.0 1179.0 L354.0 1178.8 L356.0 1178.6 L358.0 1178.3 L360.0 1178.1 L362.0 1177.8 L364.0 1177.6 L366.0 1177.3 L368.0 1177.1 L370.0 1176.9 L372.0 1176.6 L374.0 1176.3 L376.0 1176.1 L378.0 1175.8 L380.0 1175.6 L382.0 1175.3 L384.0 1175.1 L386.0 1174.8 L388.0 1174.5 L390.0 1174.3 L392.0 1174.0 L394.0 1173.7 L396.0 1173.5 L398.0 1173.2 L400.0 1172.9 L402.0 1172.7 L404.0 1172.4 L406.0 1172.1 L408.0 1171.8 L410.0 1171.5 L412.0 1171.3 L414.0 1171.0 L416.0 1170.7 L418.0 1170.4 L420.0 1170.1 L422.0 1169.8 L424.0 1169.5 L426.0 1169.2 L428.0 1168.9 L430.0 1168.6 L432.0 1168.3 L434.0 1168.0 L436.0 1167.7 L438.0 1167.4 L440.0 1167.0 L442.0 1166.7 L444.0 1166.4 L446.0 1166.1 L448.0 1165.7 L450.0 1165.4 L452.0 1165.0 L454.0 1164.7 L456.0 1164.3 L458.0 1163.9 L460.0 1163.5 L462.0 1163.1 L464.0 1162.7 L466.0 1162.3 L468.0 1161.9 L470.0 1161.5 L472.0 1161.0 L474.0 1160.6 L476.0 1160.1 L478.0 1159.6 L480.0 1159.1 L482.0 1158.6 L484.0 1158.1 L486.0 1157.5 L488.0 1157.0 L490.0 1156.4 L492.0 1155.8 L494.0 1155.2 L496.0 1154.5 L498.0 1153.9 L500.0 1153.2 L502.0 1152.5 L504.0 1151.8 L506.0 1151.0 L508.0 1150.3 L510.0 1149.5 L512.0 1148.7 L514.0 1147.8 L516.0 1147.0 L518.0 1146.1 L520.0 1145.1 L522.0 1144.2 L524.0 1143.2 L526.0 1142.2 L528.0 1141.1 L530.0 1140.0 L532.0 1138.9 L534.0 1137.7 L536.0 1136.5 L538.0 1135.2 L540.0 1134.0 L542.0 1132.6 L544.0 1131.2 L546.0 1129.8 L548.0 1128.3 L550.0 1126.8 L552.0 1125.2 L554.0 1123.5 L556.0 1121.8 L558.0 1120.1 L560.0 1118.2 L562.0 1116.3 L564.0 1114.4 L566.0 1112.3 L568.0 1110.2 L570.0 1108.0 L572.0 1105.8 L574.0 1103.5 L576.0 1101.0 L578.0 1098.5 L580.0 1096.0 L582.0 1093.3 L584.0 1090.5 L586.0 1087.7 L588.0 1084.8 L590.0 1081.7 L592.0 1078.6 L594.0 1075.4 L596.0 1072.1 L598.0 1068.6 L600.0 1065.1 L602.0 1061.5 L604.0 1057.7 L606.0 1053.9 L608.0 1049.9 L610.0 1045.8 L612.0 1041.7 L614.0 1037.4 L616.0 1032.9 L618.0 1028.4 L620.0 1023.7 L622.0 1019.0 L624.0 1014.1 L626.0 1009.0 L628.0 1003.9 L630.0 998.6 L632.0 993.2 L634.0 987.6 L636.0 982.0 L638.0 976.2 L640.0 970.3 L642.0 964.2 L644.0 958.0 L646.0 951.7 L648.0 945.2 L650.0 938.7 L652.0 932.0 L654.0 925.1 L656.0 918.2 L658.0 911.1 L660.0 903.9 L662.0 896.5 L664.0 889.1 L666.0 881.5 L668.0 873.8 L670.0 866.0 L672.0 858.1 L674.0 850.1 L676.0 842.0 L678.0 833.8 L680.0 825.5 L682.0 817.1 L684.0 808.7 L686.0 800.1 L688.0 791.5 L690.0 782.8 L692.0 774.0 L694.0 765.2 L696.0 756.3 L698.0 747.3 L700.0 738.3 L702.0 729.3 L704.0 720.2 L706.0 711.1 L708.0 702.0 L710.0 692.8 L712.0 683.6 L714.0 674.4 L716.0 665.2 L718.0 656.0 L720.0 646.9 L722.0 637.7 L724.0 628.5 L726.0 619.4 L728.0 610.3 L730.0 601.2 L732.0 592.1 L734.0 583.1 L736.0 574.2 L738.0 565.2 L740.0 556.4 L742.0 547.6 L744.0 538.9 L746.0 530.3 L748.0 521.7 L750.0 513.2 L752.0 504.8 L754.0 496.5 L756.0 488.3 L758.0 480.2 L760.0 472.2 L762.0 464.3 L764.0 456.5 L766.0 448.9 L768.0 441.4 L770.0 433.9 L772.0 426.7 L774.0 419.5 L776.0 412.5 L778.0 405.6 L780.0 398.9 L782.0 392.3 L784.0 385.9 L786.0 379.6 L788.0 373.5 L790.0 367.5 L792.0 361.7 L794.0 356.0 L796.0 350.6 L798.0 345.2 L800.0 340.1 L802.0 335.1 L804.0 330.3 L806.0 325.7 L808.0 321.2 L810.0 317.0 L812.0 312.9 L814.0 308.9 L816.0 305.2 L818.0 301.7 L820.0 298.3 L822.0 295.1 L824.0 292.1 L826.0 289.3 L828.0 286.7 L830.0 284.3 L832.0 282.1 L834.0 280.0 L836.0 278.2 L838.0 276.5 L840.0 275.0 L842.0 273.7 L844.0 272.6 L846.0 271.7 L848.0 271.0 L850.0 270.5 L852.0 270.2 L854.0 270.0 L854.6 270.0 L856.6 270.1 L858.6 270.4 L860.6 270.9 L862.6 271.5 L864.6 272.4 L866.6 273.4 L868.6 274.6 L870.6 276.1 L872.6 277.7 L874.6 279.5 L876.6 281.5 L878.6 283.6 L880.6 286.0 L882.6 288.5 L884.6 291.3 L886.6 294.2 L888.6 297.3 L890.6 300.5 L892.6 304.0 L894.6 307.6 L896.6 311.4 L898.6 315.4 L900.6 319.6 L902.6 323.9 L904.6 328.4 L906.6 333.1 L908.6 337.9 L910.6 342.9 L912.6 348.1 L914.6 353.5 L916.6 359.0 L918.6 364.6 L920.6 370.5 L922.6 376.4 L924.6 382.6 L926.6 388.9 L928.6 395.3 L930.6 401.9 L932.6 408.6 L934.6 415.5 L936.6 422.5 L938.6 429.7 L940.6 437.0 L942.6 444.4 L944.6 452.0 L946.6 459.7 L948.6 467.5 L950.6 475.4 L952.6 483.4 L954.6 491.6 L956.6 499.8 L958.6 508.2 L960.6 516.6 L962.6 525.1 L964.6 533.7 L966.6 542.4 L968.6 551.1 L970.6 559.9 L972.6 568.8 L974.6 577.7 L976.6 586.6 L978.6 595.6 L980.6 604.6 L982.6 613.6 L984.6 622.6 L986.6 631.7 L988.6 640.7 L990.6 649.7 L992.6 658.7 L994.6 667.6 L996.6 676.5 L998.6 685.4 L1000.6 694.3 L1002.6 703.0 L1004.6 711.8 L1006.6 720.4 L1008.6 729.0 L1010.6 737.5 L1012.6 746.0 L1014.6 754.4 L1016.6 762.7 L1018.6 770.9 L1020.6 779.0 L1022.6 787.0 L1024.6 794.9 L1026.6 802.8 L1028.6 810.5 L1030.6 818.2 L1032.6 825.7 L1034.6 833.2 L1036.6 840.5 L1038.6 847.7 L1040.6 854.9 L1042.6 861.9 L1044.6 868.8 L1046.6 875.7 L1048.6 882.4 L1050.6 889.0 L1052.6 895.5 L1054.6 901.9 L1056.6 908.2 L1058.6 914.4 L1060.6 920.5 L1062.6 926.5 L1064.6 932.3 L1066.6 938.1 L1068.6 943.7 L1070.6 949.3 L1072.6 954.7 L1074.6 960.0 L1076.6 965.3 L1078.6 970.4 L1080.6 975.4 L1082.6 980.3 L1084.6 985.1 L1086.6 989.8 L1088.6 994.4 L1090.6 999.0 L1092.6 1003.4 L1094.6 1007.7 L1096.6 1011.9 L1098.6 1016.1 L1100.6 1020.1 L1102.6 1024.1 L1104.6 1027.9 L1106.6 1031.7 L1108.6 1035.4 L1110.6 1039.0 L1112.6 1042.6 L1114.6 1046.0 L1116.6 1049.4 L1118.6 1052.7 L1120.6 1056.0 L1122.6 1059.1 L1124.6 1062.2 L1126.6 1065.3 L1128.6 1068.2 L1130.6 1071.1 L1132.6 1074.0 L1134.6 1076.8 L1136.6 1079.5 L1138.6 1082.2 L1140.6 1084.8 L1142.6 1087.4 L1144.6 1089.9 L1146.6 1092.3 L1148.6 1094.7 L1150.6 1097.1 L1152.6 1099.4 L1154.6 1101.7 L1156.6 1103.9 L1158.6 1106.0 L1160.6 1108.2 L1162.6 1110.2 L1164.6 1112.3 L1166.6 1114.3 L1168.6 1116.2 L1170.6 1118.1 L1172.6 1120.0 L1174.6 1121.8 L1176.6 1123.6 L1178.6 1125.4 L1180.6 1127.1 L1182.6 1128.8 L1184.6 1130.4 L1186.6 1132.0 L1188.6 1133.6 L1190.6 1135.1 L1192.6 1136.6 L1194.6 1138.1 L1196.6 1139.5 L1198.6 1140.9 L1200.6 1142.3 L1202.6 1143.6 L1204.6 1145.0 L1206.6 1146.2 L1208.6 1147.5 L1210.6 1148.7 L1212.6 1149.9 L1214.6 1151.1 L1216.6 1152.2 L1218.6 1153.3 L1220.6 1154.4 L1222.6 1155.5 L1224.6 1156.5 L1226.6 1157.6 L1228.6 1158.6 L1230.6 1159.5 L1232.6 1160.5 L1234.6 1161.4 L1236.6 1162.3 L1238.6 1163.2 L1240.6 1164.1 L1242.6 1164.9 L1244.6 1165.8 L1246.6 1166.6 L1248.6 1167.4 L1250.6 1168.2 L1252.6 1168.9 L1254.6 1169.7 L1256.6 1170.4 L1258.6 1171.1 L1260.6 1171.8 L1262.6 1172.5 L1264.6 1173.2 L1266.6 1173.9 L1268.6 1174.5 L1270.6 1175.1 L1272.6 1175.8 L1274.6 1176.4 L1276.6 1177.0 L1278.6 1177.5 L1280.6 1178.1 L1282.6 1178.7 L1284.6 1179.2 L1286.6 1179.7 L1288.6 1180.3 L1290.6 1180.8 L1292.6 1181.3 L1294.6 1181.8 L1296.6 1182.3 L1298.6 1182.7 L1300.6 1183.2 L1302.6 1183.6 L1304.6 1184.1 L1306.6 1184.5 L1308.6 1184.9 L1310.6 1185.4 L1312.6 1185.8 L1314.6 1186.2 L1316.6 1186.6 L1318.6 1186.9 L1320.6 1187.3 L1322.6 1187.7 L1324.6 1188.1 L1326.6 1188.4 L1328.6 1188.8 L1330.6 1189.1 L1332.6 1189.4 L1334.6 1189.8 L1336.6 1190.1 L1338.6 1190.4 L1340.6 1190.7 L1342.6 1191.0 L1344.6 1191.3 L1346.6 1191.6 L1348.6 1191.9 L1350.6 1192.1 L1352.6 1192.4 L1354.6 1192.7 L1356.6 1192.9 L1358.6 1193.2 L1360.6 1193.4 L1362.6 1193.7 L1364.6 1193.9 L1366.6 1194.1 L1368.6 1194.4 L1370.6 1194.6 L1372.6 1194.8 L1374.6 1195.0 L1376.6 1195.2 L1378.6 1195.4 L1380.6 1195.6 L1382.6 1195.8 L1384.6 1196.0 L1386.6 1196.2 L1388.6 1196.4 L1390.6 1196.6 L1392.6 1196.8 L1394.6 1196.9 L1396.6 1197.1 L1398.6 1197.3 L1400.6 1197.4 L1402.6 1197.6 L1404.6 1197.7 L1406.6 1197.9 L1408.6 1198.0 L1410.6 1198.2 L1412.6 1198.3 L1414.6 1198.5 L1416.6 1198.6 L1418.6 1198.7 L1420.6 1198.9 L1422.6 1199.0 L1424.6 1199.1 L1426.6 1199.2 L1428.6 1199.4 L1430.6 1199.5 L1432.6 1199.6 L1434.6 1199.7 L1436.6 1199.8 L1438.6 1199.9 L1440.6 1200.0 L1442.6 1200.1 L1444.6 1200.2 L1446.6 1200.3 L1448.6 1200.4 L1450.6 1200.5 L1452.6 1200.6 L1454.6 1200.6 L1456.6 1200.7 L1458.6 1200.8 L1460.6 1200.9 L1462.6 1201.0 L1464.6 1201.0 L1466.6 1201.1 L1468.6 1201.2 L1470.6 1201.2 L1472.6 1201.3 L1474.6 1201.4 L1476.6 1201.4 L1478.6 1201.5 L1480.6 1201.5 L1482.6 1201.6 L1484.6 1201.6 L1486.6 1201.7 L1488.6 1201.8 L1490.6 1201.8 L1492.6 1201.8 L1494.6 1201.9 L1496.6 1201.9 L1498.6 1202.0 L1500.6 1202.0 L1502.6 1202.1 L1504.6 1202.1 L1506.6 1202.2 L1508.6 1202.2 L1510.6 1202.2 L1512.6 1202.3 L1514.6 1202.3 L1516.6 1202.4 L1518.6 1202.4 L1519.0 1202.4 L1579.0 1203.4 L1930.0 1205.2" stroke="#c0c0c0"/>
<path d="M188.0 1191.0 L190.0 1190.9 L192.0 1190.7 L194.0 1190.5 L196.0 1190.4 L198.0 1190.2 L200.0 1190.1 L202.0 1189.9 L204.0 1189.7 L206.0 1189.6 L208.0 1189.4 L210.0 1189.2 L212.0 1189.0 L214.0 1188.9 L216.0 1188.7 L218.0 1188.5 L220.0 1188.3 L222.0 1188.2 L224.0 1188.0 L226.0 1187.8 L228.0 1187.6 L230.0 1187.4 L232.0 1187.3 L234.0 1187.1 L236.0 1186.9 L238.0 1186.7 L240.0 1186.5 L242.0 1186.3 L244.0 1186.1 L246.0 1185.9 L248.0 1185.7 L250.0 1185.5 L252.0 1185.3 L254.0 1185.1 L256.0 1184.9 L258.0 1184.7 L260.0 1184.5 L262.0 1184.3 L264.0 1184.1 L266.0 1183.9 L268.0 1183.7 L270.0 1183.5 L272.0 1183.3 L274.0 1183.1 L276.0 1182.9 L278.0 1182.6 L280.0 1182.4 L282.0 1182.2 L284.0 1182.0 L286.0 1181.8 L288.0 1181.5 L290.0 1181.3 L292.0 1181.1 L294.0 1180.9 L296.0 1180.6 L298.0 1180.4 L300.0 1180.2 L302.0 1180.0 L304.0 1179.7 L306.0 1179.5 L308.0 1179.3 L310.0 1179.0 L312.0 1178.8 L314.0 1178.5 L316.0 1178.3 L318.0 1178.1 L320.0 1177.8 L322.0 1177.6 L324.0 1177.3 L326.0 1177.1 L328.0 1176.8 L330.0 1176.6 L332.0 1176.4 L334.0 1176.1 L336.0 1175.9 L338.0 1175.6 L340.0 1175.4 L342.0 1175.1 L344.0 1174.9 L346.0 1174.6 L348.0 1174.3 L350.0 1174.1 L352.0 1173.8 L354.0 1173.6 L356.0 1173.3 L358.0 1173.0 L360.0 1172.8 L362.0 1172.5 L364.0 1172.3 L366.0 1172.0 L368.0 1171.7 L370.0 1171.5 L372.0 1171.2 L374.0 1170.9 L376.0 1170.6 L378.0 1170.4 L380.0 1170.1 L382.0 1169.8 L384.0 1169.5 L386.0 1169.2 L388.0 1168.9 L390.0 1168.7 L392.0 1168.4 L394.0 1168.1 L396.0 1167.8 L398.0 1167.5 L400.0 1167.1 L402.0 1166.8 L404.0 1166.5 L406.0 1166.2 L408.0 1165.8 L410.0 1165.5 L412.0 1165.2 L414.0 1164.8 L416.0 1164.4 L418.0 1164.1 L420.0 1163.7 L422.0 1163.3 L424.0 1162.9 L426.0 1162.5 L428.0 1162.1 L430.0 1161.7 L432.0 1161.3 L434.0 1160.8 L436.0 1160.4 L438.0 1159.9 L440.0 1159.4 L442.0 1158.9 L444.0 1158.4 L446.0 1157.9 L448.0 1157.4 L450.0 1156.8 L452.0 1156.3 L454.0 1155.7 L456.0 1155.1 L458.0 1154.5 L460.0 1153.9 L462.0 1153.2 L464.0 1152.6 L466.0 1151.9 L468.0 1151.2 L470.0 1150.5 L472.0 1149.8 L474.0 1149.1 L476.0 1148.3 L478.0 1147.5 L480.0 1146.7 L482.0 1145.9 L484.0 1145.0 L486.0 1144.1 L488.0 1143.2 L490.0 1142.3 L492.0 1141.3 L494.0 1140.4 L496.0 1139.3 L498.0 1138.3 L500.0 1137.2 L502.0 1136.1 L504.0 1135.0 L506.0 1133.8 L508.0 1132.6 L510.0 1131.3 L512.0 1130.0 L514.0 1128.7 L516.0 1127.3 L518.0 1125.9 L520.0 1124.4 L522.0 1122.9 L524.0 1121.4 L526.0 1119.7 L528.0 1118.1 L530.0 1116.3 L532.0 1114.5 L534.0 1112.7 L536.0 1110.8 L538.0 1108.8 L540.0 1106.8 L542.0 1104.7 L544.0 1102.5 L546.0 1100.3 L548.0 1097.9 L550.0 1095.6 L552.0 1093.1 L554.0 1090.5 L556.0 1087.9 L558.0 1085.2 L560.0 1082.4 L562.0 1079.5 L564.0 1076.5 L566.0 1073.4 L568.0 1070.2 L570.0 1067.0 L572.0 1063.6 L574.0 1060.1 L576.0 1056.5 L578.0 1052.8 L580.0 1049.0 L582.0 1045.0 L584.0 1041.0 L586.0 1036.8 L588.0 1032.5 L590.0 1028.1 L592.0 1023.6 L594.0 1018.9 L596.0 1014.1 L598.0 1009.2 L600.0 1004.1 L602.0 998.9 L604.0 993.5 L606.0 988.0 L608.0 982.4 L610.0 976.6 L612.0 970.7 L614.0 964.6 L616.0 958.4 L618.0 952.1 L620.0 945.6 L622.0 938.9 L624.0 932.1 L626.0 925.2 L628.0 918.1 L630.0 910.9 L632.0 903.5 L634.0 896.0 L636.0 888.3 L638.0 880.5 L640.0 872.6 L642.0 864.5 L644.0 856.3 L646.0 847.9 L648.0 839.5 L650.0 830.8 L652.0 822.1 L654.0 813.2 L656.0 804.3 L658.0 795.2 L660.0 785.9 L662.0 776.6 L664.0 767.2 L666.0 757.6 L668.0 748.0 L670.0 738.2 L672.0 728.4 L674.0 718.5 L676.0 708.5 L678.0 698.5 L680.0 688.4 L682.0 678.3 L684.0 668.1 L686.0 657.9 L688.0 647.7 L690.0 637.4 L692.0 627.2 L694.0 617.0 L696.0 606.8 L698.0 596.7 L700.0 586.6 L702.0 576.6 L704.0 566.6 L706.0 556.7 L708.0 546.9 L710.0 537.2 L712.0 527.6 L714.0 518.1 L716.0 508.7 L718.0 499.5 L720.0 490.4 L722.0 481.4 L724.0 472.6 L726.0 464.0 L728.0 455.5 L730.0 447.1 L732.0 439.0 L734.0 431.0 L736.0 423.2 L738.0 415.5 L740.0 408.0 L742.0 400.7 L744.0 393.6 L746.0 386.7 L748.0 379.9 L750.0 373.3 L752.0 367.0 L754.0 360.8 L756.0 354.8 L758.0 349.0 L760.0 343.4 L762.0 338.0 L764.0 332.8 L766.0 327.7 L768.0 322.9 L770.0 318.3 L772.0 313.9 L774.0 309.7 L776.0 305.8 L778.0 302.0 L780.0 298.4 L782.0 295.1 L784.0 292.0 L786.0 289.1 L788.0 286.4 L790.0 283.9 L792.0 281.7 L794.0 279.7 L796.0 277.9 L798.0 276.4 L800.0 275.1 L802.0 274.0 L804.0 273.2 L806.0 272.5 L808.0 272.2 L810.0 272.0 L810.3 272.0 L812.3 272.1 L814.3 272.5 L816.3 273.1 L818.3 273.9 L820.3 275.0 L822.3 276.3 L824.3 277.8 L826.3 279.6 L828.3 281.7 L830.3 283.9 L832.3 286.4 L834.3 289.2 L836.3 292.1 L838.3 295.3 L840.3 298.8 L842.3 302.4 L844.3 306.3 L846.3 310.4 L848.3 314.7 L850.3 319.3 L852.3 324.0 L854.3 328.9 L856.3 334.1 L858.3 339.4 L860.3 345.0 L862.3 350.7 L864.3 356.6 L866.3 362.6 L868.3 368.8 L870.3 375.2 L872.3 381.8 L874.3 388.5 L876.3 395.3 L878.3 402.2 L880.3 409.3 L882.3 416.5 L884.3 423.8 L886.3 431.2 L888.3 438.7 L890.3 446.3 L892.3 454.0 L894.3 461.8 L896.3 469.6 L898.3 477.5 L900.3 485.4 L902.3 493.4 L904.3 501.4 L906.3 509.4 L908.3 517.5 L910.3 525.6 L912.3 533.8 L914.3 541.9 L916.3 550.1 L918.3 558.2 L920.3 566.4 L922.3 574.5 L924.3 582.7 L926.3 590.8 L928.3 599.0 L930.3 607.1 L932.3 615.2 L934.3 623.3 L936.3 631.4 L938.3 639.4 L940.3 647.5 L942.3 655.5 L944.3 663.5 L946.3 671.4 L948.3 679.3 L950.3 687.2 L952.3 695.1 L954.3 702.9 L956.3 710.7 L958.3 718.5 L960.3 726.2 L962.3 733.9 L964.3 741.5 L966.3 749.1 L968.3 756.7 L970.3 764.2 L972.3 771.7 L974.3 779.1 L976.3 786.4 L978.3 793.7 L980.3 800.9 L982.3 808.1 L984.3 815.2 L986.3 822.2 L988.3 829.2 L990.3 836.1 L992.3 842.9 L994.3 849.7 L996.3 856.4 L998.3 863.0 L1000.3 869.5 L1002.3 875.9 L1004.3 882.3 L1006.3 888.5 L1008.3 894.7 L1010.3 900.8 L1012.3 906.8 L1014.3 912.7 L1016.3 918.5 L1018.3 924.3 L1020.3 929.9 L1022.3 935.4 L1024.3 940.9 L1026.3 946.2 L1028.3 951.5 L1030.3 956.6 L1032.3 961.7 L1034.3 966.6 L1036.3 971.5 L1038.3 976.3 L1040.3 981.0 L1042.3 985.6 L1044.3 990.1 L1046.3 994.5 L1048.3 998.8 L1050.3 1003.0 L1052.3 1007.2 L1054.3 1011.2 L1056.3 1015.2 L1058.3 1019.1 L1060.3 1022.9 L1062.3 1026.6 L1064.3 1030.2 L1066.3 1033.8 L1068.3 1037.3 L1070.3 1040.7 L1072.3 1044.0 L1074.3 1047.2 L1076.3 1050.4 L1078.3 1053.5 L1080.3 1056.6 L1082.3 1059.6 L1084.3 1062.5 L1086.3 1065.3 L1088.3 1068.1 L1090.3 1070.8 L1092.3 1073.5 L1094.3 1076.1 L1096.3 1078.6 L1098.3 1081.1 L1100.3 1083.5 L1102.3 1085.9 L1104.3 1088.2 L1106.3 1090.4 L1108.3 1092.7 L1110.3 1094.8 L1112.3 1096.9 L1114.3 1099.0 L1116.3 1101.0 L1118.3 1103.0 L1120.3 1104.9 L1122.3 1106.8 L1124.3 1108.6 L1126.3 1110.4 L1128.3 1112.1 L1130.3 1113.8 L1132.3 1115.5 L1134.3 1117.1 L1136.3 1118.7 L1138.3 1120.3 L1140.3 1121.8 L1142.3 1123.3 L1144.3 1124.7 L1146.3 1126.1 L1148.3 1127.5 L1150.3 1128.9 L1152.3 1130.2 L1154.3 1131.5 L1156.3 1132.8 L1158.3 1134.0 L1160.3 1135.3 L1162.3 1136.4 L1164.3 1137.6 L1166.3 1138.8 L1168.3 1139.9 L1170.3 1141.0 L1172.3 1142.0 L1174.3 1143.1 L1176.3 1144.1 L1178.3 1145.1 L1180.3 1146.1 L1182.3 1147.1 L1184.3 1148.1 L1186.3 1149.0 L1188.3 1149.9 L1190.3 1150.8 L1192.3 1151.7 L1194.3 1152.6 L1196.3 1153.5 L1198.3 1154.3 L1200.3 1155.1 L1202.3 1155.9 L1204.3 1156.7 L1206.3 1157.5 L1208.3 1158.3 L1210.3 1159.1 L1212.3 1159.8 L1214.3 1160.5 L1216.3 1161.3 L1218.3 1162.0 L1220.3 1162.7 L1222.3 1163.3 L1224.3 1164.0 L1226.3 1164.7 L1228.3 1165.3 L1230.3 1166.0 L1232.3 1166.6 L1234.3 1167.2 L1236.3 1167.8 L1238.3 1168.5 L1240.3 1169.0 L1242.3 1169.6 L1244.3 1170.2 L1246.3 1170.8 L1248.3 1171.3 L1250.3 1171.9 L1252.3 1172.4 L1254.3 1172.9 L1256.3 1173.4 L1258.3 1174.0 L1260.3 1174.5 L1262.3 1175.0 L1264.3 1175.4 L1266.3 1175.9 L1268.3 1176.4 L1270.3 1176.9 L1272.3 1177.3 L1274.3 1177.8 L1276.3 1178.2 L1278.3 1178.6 L1280.3 1179.1 L1282.3 1179.5 L1284.3 1179.9 L1286.3 1180.3 L1288.3 1180.7 L1290.3 1181.1 L1292.3 1181.5 L1294.3 1181.9 L1296.3 1182.3 L1298.3 1182.6 L1300.3 1183.0 L1302.3 1183.4 L1304.3 1183.7 L1306.3 1184.1 L1308.3 1184.4 L1310.3 1184.8 L1312.3 1185.1 L1314.3 1185.4 L1316.3 1185.7 L1318.3 1186.1 L1320.3 1186.4 L1322.3 1186.7 L1324.3 1187.0 L1326.3 1187.3 L1328.3 1187.6 L1330.3 1187.9 L1332.3 1188.2 L1334.3 1188.4 L1336.3 1188.7 L1338.3 1189.0 L1340.3 1189.3 L1342.3 1189.5 L1344.3 1189.8 L1346.3 1190.0 L1348.3 1190.3 L1350.3 1190.5 L1352.3 1190.8 L1354.3 1191.0 L1356.3 1191.3 L1358.3 1191.5 L1360.3 1191.7 L1362.3 1192.0 L1364.3 1192.2 L1366.3 1192.4 L1368.3 1192.6 L1370.3 1192.8 L1372.3 1193.0 L1374.3 1193.3 L1376.3 1193.5 L1378.3 1193.7 L1380.3 1193.9 L1382.3 1194.1 L1384.3 1194.2 L1386.3 1194.4 L1388.3 1194.6 L1390.3 1194.8 L1392.3 1195.0 L1394.3 1195.2 L1396.3 1195.3 L1398.3 1195.5 L1400.3 1195.7 L1402.3 1195.9 L1404.3 1196.0 L1406.3 1196.2 L1408.3 1196.3 L1410.3 1196.5 L1412.3 1196.7 L1414.3 1196.8 L1416.3 1197.0 L1418.3 1197.1 L1420.3 1197.3 L1422.3 1197.4 L1424.3 1197.6 L1426.3 1197.7 L1428.3 1197.8 L1430.3 1198.0 L1432.3 1198.1 L1434.3 1198.2 L1436.3 1198.4 L1438.3 1198.5 L1440.3 1198.6 L1442.3 1198.7 L1444.3 1198.9 L1446.3 1199.0 L1448.3 1199.1 L1450.3 1199.2 L1452.3 1199.3 L1454.3 1199.5 L1456.3 1199.6 L1458.3 1199.7 L1460.3 1199.8 L1462.3 1199.9 L1464.3 1200.0 L1466.3 1200.1 L1468.3 1200.2 L1470.3 1200.3 L1472.3 1200.4 L1474.3 1200.5 L1476.3 1200.6 L1478.3 1200.7 L1480.3 1200.8 L1482.3 1200.9 L1484.3 1201.0 L1486.3 1201.1 L1488.3 1201.2 L1490.3 1201.2 L1492.3 1201.3 L1494.3 1201.4 L1496.3 1201.5 L1498.3 1201.6 L1500.3 1201.7 L1502.3 1201.8 L1504.3 1201.8 L1506.3 1201.9 L1508.3 1202.0 L1510.3 1202.1 L1512.3 1202.1 L1514.3 1202.2 L1516.3 1202.3 L1518.3 1202.4 L1519.0 1202.4 L1579.0 1203.2 L1930.0 1204.6" stroke="#808080"/>
<path d="M188.0 1186.2 L190.0 1186.0 L192.0 1185.8 L194.0 1185.6 L196.0 1185.4 L198.0 1185.2 L200.0 1185.0 L202.0 1184.8 L204.0 1184.6 L206.0 1184.4 L208.0 1184.2 L210.0 1184.0 L212.0 1183.8 L214.0 1183.6 L216.0 1183.3 L218.0 1183.1 L220.0 1182.9 L222.0 1182.7 L224.0 1182.5 L226.0 1182.2 L228.0 1182.0 L230.0 1181.8 L232.0 1181.6 L234.0 1181.3 L236.0 1181.1 L238.0 1180.8 L240.0 1180.6 L242.0 1180.4 L244.0 1180.1 L246.0 1179.9 L248.0 1179.6 L250.0 1179.4 L252.0 1179.1 L254.0 1178.9 L256.0 1178.6 L258.0 1178.4 L260.0 1178.1 L262.0 1177.9 L264.0 1177.6 L266.0 1177.4 L268.0 1177.1 L270.0 1176.8 L272.0 1176.6 L274.0 1176.3 L276.0 1176.1 L278.0 1175.8 L280.0 1175.5 L282.0 1175.3 L284.0 1175.0 L286.0 1174.7 L288.0 1174.4 L290.0 1174.2 L292.0 1173.9 L294.0 1173.6 L296.0 1173.4 L298.0 1173.1 L300.0 1172.8 L302.0 1172.5 L304.0 1172.3 L306.0 1172.0 L308.0 1171.7 L310.0 1171.4 L312.0 1171.1 L314.0 1170.9 L316.0 1170.6 L318.0 1170.3 L320.0 1170.0 L322.0 1169.7 L324.0 1169.4 L326.0 1169.1 L328.0 1168.8 L330.0 1168.5 L332.0 1168.2 L334.0 1167.9 L336.0 1167.6 L338.0 1167.3 L340.0 1166.9 L342.0 1166.6 L344.0 1166.3 L346.0 1165.9 L348.0 1165.6 L350.0 1165.2 L352.0 1164.8 L354.0 1164.4 L356.0 1164.0 L358.0 1163.6 L360.0 1163.2 L362.0 1162.7 L364.0 1162.3 L366.0 1161.8 L368.0 1161.3 L370.0 1160.8 L372.0 1160.3 L374.0 1159.8 L376.0 1159.2 L378.0 1158.7 L380.0 1158.1 L382.0 1157.5 L384.0 1156.8 L386.0 1156.2 L388.0 1155.5 L390.0 1154.8 L392.0 1154.1 L394.0 1153.4 L396.0 1152.7 L398.0 1151.9 L400.0 1151.1 L402.0 1150.3 L404.0 1149.5 L406.0 1148.7 L408.0 1147.8 L410.0 1146.9 L412.0 1146.1 L414.0 1145.2 L416.0 1144.3 L418.0 1143.3 L420.0 1142.4 L422.0 1141.4 L424.0 1140.5 L426.0 1139.5 L428.0 1138.5 L430.0 1137.5 L432.0 1136.5 L434.0 1135.5 L436.0 1134.5 L438.0 1133.4 L440.0 1132.4 L442.0 1131.4 L444.0 1130.3 L446.0 1129.2 L448.0 1128.2 L450.0 1127.1 L452.0 1126.0 L454.0 1124.9 L456.0 1123.8 L458.0 1122.6 L460.0 1121.5 L462.0 1120.3 L464.0 1119.2 L466.0 1118.0 L468.0 1116.8 L470.0 1115.6 L472.0 1114.3 L474.0 1113.1 L476.0 1111.8 L478.0 1110.5 L480.0 1109.1 L482.0 1107.8 L484.0 1106.4 L486.0 1105.0 L488.0 1103.5 L490.0 1102.1 L492.0 1100.6 L494.0 1099.0 L496.0 1097.4 L498.0 1095.8 L500.0 1094.2 L502.0 1092.5 L504.0 1090.7 L506.0 1088.9 L508.0 1087.1 L510.0 1085.2 L512.0 1083.3 L514.0 1081.3 L516.0 1079.3 L518.0 1077.2 L520.0 1075.1 L522.0 1072.9 L524.0 1070.7 L526.0 1068.4 L528.0 1066.1 L530.0 1063.6 L532.0 1061.2 L534.0 1058.6 L536.0 1056.0 L538.0 1053.4 L540.0 1050.6 L542.0 1047.8 L544.0 1045.0 L546.0 1042.0 L548.0 1039.0 L550.0 1035.9 L552.0 1032.7 L554.0 1029.5 L556.0 1026.2 L558.0 1022.8 L560.0 1019.3 L562.0 1015.7 L564.0 1012.0 L566.0 1008.3 L568.0 1004.4 L570.0 1000.5 L572.0 996.5 L574.0 992.3 L576.0 988.1 L578.0 983.8 L580.0 979.4 L582.0 974.9 L584.0 970.2 L586.0 965.5 L588.0 960.7 L590.0 955.7 L592.0 950.7 L594.0 945.5 L596.0 940.2 L598.0 934.8 L600.0 929.3 L602.0 923.6 L604.0 917.8 L606.0 911.9 L608.0 905.9 L610.0 899.7 L612.0 893.4 L614.0 887.0 L616.0 880.4 L618.0 873.7 L620.0 866.8 L622.0 859.8 L624.0 852.6 L626.0 845.3 L628.0 837.8 L630.0 830.2 L632.0 822.4 L634.0 814.5 L636.0 806.4 L638.0 798.1 L640.0 789.7 L642.0 781.2 L644.0 772.4 L646.0 763.6 L648.0 754.6 L650.0 745.4 L652.0 736.2 L654.0 726.7 L656.0 717.2 L658.0 707.5 L660.0 697.7 L662.0 687.9 L664.0 677.9 L666.0 667.8 L668.0 657.7 L670.0 647.5 L672.0 637.2 L674.0 626.9 L676.0 616.6 L678.0 606.2 L680.0 595.9 L682.0 585.5 L684.0 575.2 L686.0 564.9 L688.0 554.6 L690.0 544.4 L692.0 534.3 L694.0 524.2 L696.0 514.2 L698.0 504.4 L700.0 494.6 L702.0 485.0 L704.0 475.5 L706.0 466.1 L708.0 456.9 L710.0 447.9 L712.0 439.0 L714.0 430.3 L716.0 421.8 L718.0 413.4 L720.0 405.3 L722.0 397.3 L724.0 389.6 L726.0 382.1 L728.0 374.8 L730.0 367.7 L732.0 360.9 L734.0 354.2 L736.0 347.8 L738.0 341.7 L740.0 335.8 L742.0 330.1 L744.0 324.7 L746.0 319.5 L748.0 314.6 L750.0 309.9 L752.0 305.5 L754.0 301.3 L756.0 297.4 L758.0 293.7 L760.0 290.3 L762.0 287.2 L764.0 284.3 L766.0 281.7 L768.0 279.4 L770.0 277.3 L772.0 275.5 L774.0 273.9 L776.0 272.6 L778.0 271.6 L780.0 270.8 L782.0 270.3 L784.0 270.0 L785.0 270.0 L787.0 270.1 L789.0 270.5 L791.0 271.2 L793.0 272.1 L795.0 273.2 L797.0 274.6 L799.0 276.2 L801.0 278.1 L803.0 280.2 L805.0 282.5 L807.0 285.1 L809.0 287.8 L811.0 290.8 L813.0 294.0 L815.0 297.4 L817.0 301.1 L819.0 304.9 L821.0 308.9 L823.0 313.0 L825.0 317.4 L827.0 321.9 L829.0 326.6 L831.0 331.5 L833.0 336.5 L835.0 341.7 L837.0 347.0 L839.0 352.4 L841.0 358.0 L843.0 363.7 L845.0 369.5 L847.0 375.5 L849.0 381.5 L851.0 387.6 L853.0 393.8 L855.0 400.1 L857.0 406.5 L859.0 413.0 L861.0 419.5 L863.0 426.1 L865.0 432.7 L867.0 439.4 L869.0 446.2 L871.0 452.9 L873.0 459.8 L875.0 466.6 L877.0 473.5 L879.0 480.4 L881.0 487.3 L883.0 494.2 L885.0 501.2 L887.0 508.1 L889.0 515.1 L891.0 522.1 L893.0 529.1 L895.0 536.1 L897.0 543.1 L899.0 550.1 L901.0 557.1 L903.0 564.1 L905.0 571.1 L907.0 578.1 L909.0 585.1 L911.0 592.1 L913.0 599.1 L915.0 606.1 L917.0 613.1 L919.0 620.1 L921.0 627.2 L923.0 634.2 L925.0 641.2 L927.0 648.3 L929.0 655.3 L931.0 662.3 L933.0 669.4 L935.0 676.5 L937.0 683.5 L939.0 690.6 L941.0 697.6 L943.0 704.7 L945.0 711.8 L947.0 718.8 L949.0 725.9 L951.0 732.9 L953.0 740.0 L955.0 747.0 L957.0 754.0 L959.0 761.0 L961.0 768.0 L963.0 775.0 L965.0 781.9 L967.0 788.8 L969.0 795.7 L971.0 802.5 L973.0 809.3 L975.0 816.1 L977.0 822.8 L979.0 829.5 L981.0 836.1 L983.0 842.7 L985.0 849.2 L987.0 855.7 L989.0 862.1 L991.0 868.5 L993.0 874.7 L995.0 880.9 L997.0 887.1 L999.0 893.1 L1001.0 899.1 L1003.0 905.0 L1005.0 910.9 L1007.0 916.6 L1009.0 922.3 L1011.0 927.9 L1013.0 933.4 L1015.0 938.8 L1017.0 944.1 L1019.0 949.3 L1021.0 954.5 L1023.0 959.6 L1025.0 964.5 L1027.0 969.4 L1029.0 974.2 L1031.0 978.9 L1033.0 983.5 L1035.0 988.1 L1037.0 992.5 L1039.0 996.9 L1041.0 1001.2 L1043.0 1005.3 L1045.0 1009.4 L1047.0 1013.5 L1049.0 1017.4 L1051.0 1021.3 L1053.0 1025.0 L1055.0 1028.7 L1057.0 1032.3 L1059.0 1035.9 L1061.0 1039.3 L1063.0 1042.7 L1065.0 1046.0 L1067.0 1049.3 L1069.0 1052.4 L1071.0 1055.5 L1073.0 1058.6 L1075.0 1061.5 L1077.0 1064.4 L1079.0 1067.3 L1081.0 1070.0 L1083.0 1072.7 L1085.0 1075.4 L1087.0 1078.0 L1089.0 1080.5 L1091.0 1082.9 L1093.0 1085.4 L1095.0 1087.7 L1097.0 1090.0 L1099.0 1092.2 L1101.0 1094.4 L1103.0 1096.6 L1105.0 1098.7 L1107.0 1100.7 L1109.0 1102.7 L1111.0 1104.6 L1113.0 1106.5 L1115.0 1108.3 L1117.0 1110.2 L1119.0 1111.9 L1121.0 1113.6 L1123.0 1115.3 L1125.0 1116.9 L1127.0 1118.5 L1129.0 1120.1 L1131.0 1121.6 L1133.0 1123.1 L1135.0 1124.5 L1137.0 1126.0 L1139.0 1127.3 L1141.0 1128.7 L1143.0 1130.0 L1145.0 1131.3 L1147.0 1132.6 L1149.0 1133.8 L1151.0 1135.0 L1153.0 1136.2 L1155.0 1137.3 L1157.0 1138.5 L1159.0 1139.6 L1161.0 1140.7 L1163.0 1141.7 L1165.0 1142.8 L1167.0 1143.8 L1169.0 1144.8 L1171.0 1145.8 L1173.0 1146.7 L1175.0 1147.7 L1177.0 1148.6 L1179.0 1149.5 L1181.0 1150.4 L1183.0 1151.3 L1185.0 1152.2 L1187.0 1153.0 L1189.0 1153.8 L1191.0 1154.7 L1193.0 1155.5 L1195.0 1156.3 L1197.0 1157.0 L1199.0 1157.8 L1201.0 1158.6 L1203.0 1159.3 L1205.0 1160.0 L1207.0 1160.8 L1209.0 1161.5 L1211.0 1162.2 L1213.0 1162.9 L1215.0 1163.5 L1217.0 1164.2 L1219.0 1164.9 L1221.0 1165.5 L1223.0 1166.1 L1225.0 1166.8 L1227.0 1167.4 L1229.0 1168.0 L1231.0 1168.6 L1233.0 1169.1 L1235.0 1169.7 L1237.0 1170.3 L1239.0 1170.8 L1241.0 1171.4 L1243.0 1171.9 L1245.0 1172.5 L1247.0 1173.0 L1249.0 1173.5 L1251.0 1174.0 L1253.0 1174.5 L1255.0 1175.0 L1257.0 1175.5 L1259.0 1176.0 L1261.0 1176.4 L1263.0 1176.9 L1265.0 1177.3 L1267.0 1177.8 L1269.0 1178.2 L1271.0 1178.7 L1273.0 1179.1 L1275.0 1179.5 L1277.0 1179.9 L1279.0 1180.3 L1281.0 1180.7 L1283.0 1181.1 L1285.0 1181.5 L1287.0 1181.9 L1289.0 1182.3 L1291.0 1182.6 L1293.0 1183.0 L1295.0 1183.3 L1297.0 1183.7 L1299.0 1184.0 L1301.0 1184.4 L1303.0 1184.7 L1305.0 1185.1 L1307.0 1185.4 L1309.0 1185.7 L1311.0 1186.0 L1313.0 1186.3 L1315.0 1186.6 L1317.0 1186.9 L1319.0 1187.2 L1321.0 1187.5 L1323.0 1187.8 L1325.0 1188.1 L1327.0 1188.4 L1329.0 1188.7 L1331.0 1188.9 L1333.0 1189.2 L1335.0 1189.5 L1337.0 1189.7 L1339.0 1190.0 L1341.0 1190.2 L1343.0 1190.5 L1345.0 1190.7 L1347.0 1191.0 L1349.0 1191.2 L1351.0 1191.4 L1353.0 1191.7 L1355.0 1191.9 L1357.0 1192.1 L1359.0 1192.3 L1361.0 1192.5 L1363.0 1192.7 L1365.0 1193.0 L1367.0 1193.2 L1369.0 1193.4 L1371.0 1193.6 L1373.0 1193.8 L1375.0 1194.0 L1377.0 1194.1 L1379.0 1194.3 L1381.0 1194.5 L1383.0 1194.7 L1385.0 1194.9 L1387.0 1195.1 L1389.0 1195.2 L1391.0 1195.4 L1393.0 1195.6 L1395.0 1195.7 L1397.0 1195.9 L1399.0 1196.1 L1401.0 1196.2 L1403.0 1196.4 L1405.0 1196.5 L1407.0 1196.7 L1409.0 1196.8 L1411.0 1197.0 L1413.0 1197.1 L1415.0 1197.3 L1417.0 1197.4 L1419.0 1197.6 L1421.0 1197.7 L1423.0 1197.8 L1425.0 1198.0 L1427.0 1198.1 L1429.0 1198.2 L1431.0 1198.4 L1433.0 1198.5 L1435.0 1198.6 L1437.0 1198.7 L1439.0 1198.8 L1441.0 1199.0 L1443.0 1199.1 L1445.0 1199.2 L1447.0 1199.3 L1449.0 1199.4 L1451.0 1199.5 L1453.0 1199.6 L1455.0 1199.7 L1457.0 1199.8 L1459.0 1199.9 L1461.0 1200.0 L1463.0 1200.1 L1465.0 1200.2 L1467.0 1200.3 L1469.0 1200.4 L1471.0 1200.5 L1473.0 1200.6 L1475.0 1200.7 L1477.0 1200.8 L1479.0 1200.9 L1481.0 1201.0 L1483.0 1201.0 L1485.0 1201.1 L1487.0 1201.2 L1489.0 1201.3 L1491.0 1201.4 L1493.0 1201.5 L1495.0 1201.5 L1497.0 1201.6 L1499.0 1201.7 L1501.0 1201.8 L1503.0 1201.8 L1505.0 1201.9 L1507.0 1202.0 L1509.0 1202.1 L1511.0 1202.1 L1513.0 1202.2 L1515.0 1202.3 L1517.0 1202.3 L1519.0 1202.4 L1579.0 1203.0 L1930.0 1204.1" stroke="#ffff80"/>
<path d="M188.0 1181.3 L190.0 1181.1 L192.0 1180.9 L194.0 1180.6 L196.0 1180.4 L198.0 1180.2 L200.0 1179.9 L202.0 1179.7 L204.0 1179.5 L206.0 1179.2 L208.0 1179.0 L210.0 1178.7 L212.0 1178.5 L214.0 1178.3 L216.0 1178.0 L218.0 1177.8 L220.0 1177.5 L222.0 1177.3 L224.0 1177.0 L226.0 1176.7 L228.0 1176.5 L230.0 1176.2 L232.0 1176.0 L234.0 1175.7 L236.0 1175.5 L238.0 1175.2 L240.0 1174.9 L242.0 1174.7 L244.0 1174.4 L246.0 1174.1 L248.0 1173.9 L250.0 1173.6 L252.0 1173.3 L254.0 1173.1 L256.0 1172.8 L258.0 1172.5 L260.0 1172.3 L262.0 1172.0 L264.0 1171.7 L266.0 1171.5 L268.0 1171.2 L270.0 1170.9 L272.0 1170.6 L274.0 1170.4 L276.0 1170.1 L278.0 1169.8 L280.0 1169.6 L282.0 1169.3 L284.0 1169.0 L286.0 1168.7 L288.0 1168.5 L290.0 1168.2 L292.0 1167.9 L294.0 1167.7 L296.0 1167.4 L298.0 1167.1 L300.0 1166.8 L302.0 1166.6 L304.0 1166.3 L306.0 1166.0 L308.0 1165.8 L310.0 1165.5 L312.0 1165.2 L314.0 1165.0 L316.0 1164.7 L318.0 1164.4 L320.0 1164.1 L322.0 1163.8 L324.0 1163.5 L326.0 1163.3 L328.0 1163.0 L330.0 1162.7 L332.0 1162.4 L334.0 1162.0 L336.0 1161.7 L338.0 1161.4 L340.0 1161.1 L342.0 1160.7 L344.0 1160.4 L346.0 1160.0 L348.0 1159.6 L350.0 1159.2 L352.0 1158.8 L354.0 1158.4 L356.0 1158.0 L358.0 1157.5 L360.0 1157.1 L362.0 1156.6 L364.0 1156.1 L366.0 1155.6 L368.0 1155.0 L370.0 1154.5 L372.0 1153.9 L374.0 1153.3 L376.0 1152.7 L378.0 1152.1 L380.0 1151.4 L382.0 1150.8 L384.0 1150.1 L386.0 1149.4 L388.0 1148.6 L390.0 1147.9 L392.0 1147.1 L394.0 1146.3 L396.0 1145.5 L398.0 1144.7 L400.0 1143.8 L402.0 1143.0 L404.0 1142.1 L406.0 1141.2 L408.0 1140.3 L410.0 1139.4 L412.0 1138.4 L414.0 1137.4 L416.0 1136.5 L418.0 1135.5 L420.0 1134.4 L422.0 1133.4 L424.0 1132.4 L426.0 1131.3 L428.0 1130.2 L430.0 1129.1 L432.0 1128.0 L434.0 1126.9 L436.0 1125.8 L438.0 1124.6 L440.0 1123.4 L442.0 1122.3 L444.0 1121.0 L446.0 1119.8 L448.0 1118.6 L450.0 1117.3 L452.0 1116.0 L454.0 1114.7 L456.0 1113.3 L458.0 1112.0 L460.0 1110.6 L462.0 1109.2 L464.0 1107.7 L466.0 1106.2 L468.0 1104.7 L470.0 1103.2 L472.0 1101.6 L474.0 1100.0 L476.0 1098.3 L478.0 1096.6 L480.0 1094.9 L482.0 1093.1 L484.0 1091.3 L486.0 1089.5 L488.0 1087.6 L490.0 1085.6 L492.0 1083.6 L494.0 1081.6 L496.0 1079.5 L498.0 1077.3 L500.0 1075.1 L502.0 1072.8 L504.0 1070.5 L506.0 1068.1 L508.0 1065.7 L510.0 1063.2 L512.0 1060.6 L514.0 1058.0 L516.0 1055.3 L518.0 1052.5 L520.0 1049.7 L522.0 1046.8 L524.0 1043.9 L526.0 1040.8 L528.0 1037.7 L530.0 1034.6 L532.0 1031.3 L534.0 1028.0 L536.0 1024.6 L538.0 1021.1 L540.0 1017.5 L542.0 1013.9 L544.0 1010.2 L546.0 1006.4 L548.0 1002.5 L550.0 998.5 L552.0 994.4 L554.0 990.3 L556.0 986.0 L558.0 981.7 L560.0 977.2 L562.0 972.7 L564.0 968.1 L566.0 963.4 L568.0 958.6 L570.0 953.6 L572.0 948.6 L574.0 943.5 L576.0 938.2 L578.0 932.9 L580.0 927.4 L582.0 921.8 L584.0 916.1 L586.0 910.3 L588.0 904.3 L590.0 898.2 L592.0 892.0 L594.0 885.7 L596.0 879.2 L598.0 872.6 L600.0 865.8 L602.0 859.0 L604.0 851.9 L606.0 844.7 L608.0 837.4 L610.0 829.9 L612.0 822.3 L614.0 814.5 L616.0 806.6 L618.0 798.5 L620.0 790.3 L622.0 781.9 L624.0 773.4 L626.0 764.8 L628.0 756.0 L630.0 747.0 L632.0 738.0 L634.0 728.8 L636.0 719.5 L638.0 710.0 L640.0 700.5 L642.0 690.9 L644.0 681.1 L646.0 671.3 L648.0 661.4 L650.0 651.4 L652.0 641.4 L654.0 631.3 L656.0 621.2 L658.0 611.1 L660.0 600.9 L662.0 590.7 L664.0 580.5 L666.0 570.3 L668.0 560.2 L670.0 550.1 L672.0 540.0 L674.0 530.0 L676.0 520.0 L678.0 510.1 L680.0 500.3 L682.0 490.6 L684.0 481.0 L686.0 471.5 L688.0 462.2 L690.0 453.0 L692.0 443.9 L694.0 435.0 L696.0 426.3 L698.0 417.8 L700.0 409.4 L702.0 401.2 L704.0 393.3 L706.0 385.5 L708.0 378.0 L710.0 370.7 L712.0 363.7 L714.0 356.9 L716.0 350.3 L718.0 344.0 L720.0 338.0 L722.0 332.3 L724.0 326.8 L726.0 321.7 L728.0 316.8 L730.0 312.2 L732.0 308.0 L734.0 304.0 L736.0 300.3 L738.0 297.0 L740.0 293.9 L742.0 291.2 L744.0 288.8 L746.0 286.7 L748.0 285.0 L750.0 283.6 L752.0 282.4 L754.0 281.6 L756.0 281.2 L758.0 281.0 L760.0 281.2 L762.0 281.6 L764.0 282.4 L766.0 283.5 L768.0 284.9 L770.0 286.6 L772.0 288.6 L774.0 290.8 L776.0 293.3 L778.0 296.1 L780.0 299.2 L782.0 302.5 L784.0 306.0 L786.0 309.8 L788.0 313.8 L790.0 318.0 L792.0 322.4 L794.0 327.0 L796.0 331.9 L798.0 336.9 L800.0 342.1 L802.0 347.4 L804.0 352.9 L806.0 358.6 L808.0 364.4 L810.0 370.3 L812.0 376.4 L814.0 382.6 L816.0 388.9 L818.0 395.3 L820.0 401.7 L822.0 408.3 L824.0 415.0 L826.0 421.7 L828.0 428.4 L830.0 435.3 L832.0 442.1 L834.0 449.1 L836.0 456.0 L838.0 463.0 L840.0 470.0 L842.0 477.0 L844.0 484.1 L846.0 491.1 L848.0 498.2 L850.0 505.3 L852.0 512.3 L854.0 519.4 L856.0 526.4 L858.0 533.4 L860.0 540.5 L862.0 547.5 L864.0 554.5 L866.0 561.4 L868.0 568.4 L870.0 575.3 L872.0 582.2 L874.0 589.1 L876.0 595.9 L878.0 602.8 L880.0 609.6 L882.0 616.4 L884.0 623.2 L886.0 629.9 L888.0 636.6 L890.0 643.3 L892.0 650.0 L894.0 656.7 L896.0 663.3 L898.0 669.9 L900.0 676.5 L902.0 683.1 L904.0 689.6 L906.0 696.1 L908.0 702.6 L910.0 709.1 L912.0 715.5 L914.0 721.9 L916.0 728.3 L918.0 734.7 L920.0 741.0 L922.0 747.4 L924.0 753.6 L926.0 759.9 L928.0 766.1 L930.0 772.3 L932.0 778.4 L934.0 784.5 L936.0 790.6 L938.0 796.7 L940.0 802.6 L942.0 808.6 L944.0 814.5 L946.0 820.4 L948.0 826.2 L950.0 832.0 L952.0 837.7 L954.0 843.3 L956.0 849.0 L958.0 854.5 L960.0 860.0 L962.0 865.5 L964.0 870.9 L966.0 876.2 L968.0 881.5 L970.0 886.7 L972.0 891.9 L974.0 897.0 L976.0 902.0 L978.0 907.0 L980.0 911.9 L982.0 916.8 L984.0 921.6 L986.0 926.3 L988.0 931.0 L990.0 935.6 L992.0 940.2 L994.0 944.6 L996.0 949.1 L998.0 953.4 L1000.0 957.7 L1002.0 961.9 L1004.0 966.1 L1006.0 970.2 L1008.0 974.3 L1010.0 978.3 L1012.0 982.2 L1014.0 986.1 L1016.0 989.9 L1018.0 993.6 L1020.0 997.3 L1022.0 1001.0 L1024.0 1004.5 L1026.0 1008.1 L1028.0 1011.5 L1030.0 1014.9 L1032.0 1018.3 L1034.0 1021.6 L1036.0 1024.8 L1038.0 1028.0 L1040.0 1031.1 L1042.0 1034.2 L1044.0 1037.3 L1046.0 1040.2 L1048.0 1043.2 L1050.0 1046.0 L1052.0 1048.9 L1054.0 1051.6 L1056.0 1054.4 L1058.0 1057.1 L1060.0 1059.7 L1062.0 1062.3 L1064.0 1064.8 L1066.0 1067.3 L1068.0 1069.7 L1070.0 1072.1 L1072.0 1074.5 L1074.0 1076.8 L1076.0 1079.0 L1078.0 1081.3 L1080.0 1083.4 L1082.0 1085.6 L1084.0 1087.7 L1086.0 1089.7 L1088.0 1091.7 L1090.0 1093.7 L1092.0 1095.6 L1094.0 1097.5 L1096.0 1099.4 L1098.0 1101.2 L1100.0 1103.0 L1102.0 1104.8 L1104.0 1106.5 L1106.0 1108.2 L1108.0 1109.8 L1110.0 1111.4 L1112.0 1113.0 L1114.0 1114.6 L1116.0 1116.1 L1118.0 1117.6 L1120.0 1119.0 L1122.0 1120.5 L1124.0 1121.9 L1126.0 1123.3 L1128.0 1124.6 L1130.0 1125.9 L1132.0 1127.2 L1134.0 1128.5 L1136.0 1129.8 L1138.0 1131.0 L1140.0 1132.2 L1142.0 1133.4 L1144.0 1134.5 L1146.0 1135.7 L1148.0 1136.8 L1150.0 1137.9 L1152.0 1139.0 L1154.0 1140.0 L1156.0 1141.0 L1158.0 1142.1 L1160.0 1143.1 L1162.0 1144.0 L1164.0 1145.0 L1166.0 1146.0 L1168.0 1146.9 L1170.0 1147.8 L1172.0 1148.7 L1174.0 1149.6 L1176.0 1150.5 L1178.0 1151.3 L1180.0 1152.2 L1182.0 1153.0 L1184.0 1153.8 L1186.0 1154.6 L1188.0 1155.4 L1190.0 1156.1 L1192.0 1156.9 L1194.0 1157.7 L1196.0 1158.4 L1198.0 1159.1 L1200.0 1159.8 L1202.0 1160.5 L1204.0 1161.2 L1206.0 1161.9 L1208.0 1162.6 L1210.0 1163.2 L1212.0 1163.9 L1214.0 1164.5 L1216.0 1165.1 L1218.0 1165.7 L1220.0 1166.3 L1222.0 1166.9 L1224.0 1167.5 L1226.0 1168.1 L1228.0 1168.7 L1230.0 1169.2 L1232.0 1169.8 L1234.0 1170.3 L1236.0 1170.9 L1238.0 1171.4 L1240.0 1171.9 L1242.0 1172.4 L1244.0 1172.9 L1246.0 1173.4 L1248.0 1173.9 L1250.0 1174.4 L1252.0 1174.9 L1254.0 1175.3 L1256.0 1175.8 L1258.0 1176.3 L1260.0 1176.7 L1262.0 1177.1 L1264.0 1177.6 L1266.0 1178.0 L1268.0 1178.4 L1270.0 1178.8 L1272.0 1179.2 L1274.0 1179.6 L1276.0 1180.0 L1278.0 1180.4 L1280.0 1180.8 L1282.0 1181.2 L1284.0 1181.6 L1286.0 1181.9 L1288.0 1182.3 L1290.0 1182.6 L1292.0 1183.0 L1294.0 1183.3 L1296.0 1183.7 L1298.0 1184.0 L1300.0 1184.4 L1302.0 1184.7 L1304.0 1185.0 L1306.0 1185.3 L1308.0 1185.6 L1310.0 1185.9 L1312.0 1186.2 L1314.0 1186.5 L1316.0 1186.8 L1318.0 1187.1 L1320.0 1187.4 L1322.0 1187.7 L1324.0 1188.0 L1326.0 1188.2 L1328.0 1188.5 L1330.0 1188.8 L1332.0 1189.0 L1334.0 1189.3 L1336.0 1189.5 L1338.0 1189.8 L1340.0 1190.0 L1342.0 1190.3 L1344.0 1190.5 L1346.0 1190.8 L1348.0 1191.0 L1350.0 1191.2 L1352.0 1191.4 L1354.0 1191.7 L1356.0 1191.9 L1358.0 1192.1 L1360.0 1192.3 L1362.0 1192.5 L1364.0 1192.7 L1366.0 1192.9 L1368.0 1193.1 L1370.0 1193.3 L1372.0 1193.5 L1374.0 1193.7 L1376.0 1193.9 L1378.0 1194.1 L1380.0 1194.3 L1382.0 1194.5 L1384.0 1194.7 L1386.0 1194.8 L1388.0 1195.0 L1390.0 1195.2 L1392.0 1195.4 L1394.0 1195.5 L1396.0 1195.7 L1398.0 1195.9 L1400.0 1196.0 L1402.0 1196.2 L1404.0 1196.3 L1406.0 1196.5 L1408.0 1196.6 L1410.0 1196.8 L1412.0 1196.9 L1414.0 1197.1 L1416.0 1197.2 L1418.0 1197.4 L1420.0 1197.5 L1422.0 1197.6 L1424.0 1197.8 L1426.0 1197.9 L1428.0 1198.0 L1430.0 1198.2 L1432.0 1198.3 L1434.0 1198.4 L1436.0 1198.5 L1438.0 1198.7 L1440.0 1198.8 L1442.0 1198.9 L1444.0 1199.0 L1446.0 1199.1 L1448.0 1199.2 L1450.0 1199.4 L1452.0 1199.5 L1454.0 1199.6 L1456.0 1199.7 L1458.0 1199.8 L1460.0 1199.9 L1462.0 1200.0 L1464.0 1200.1 L1466.0 1200.2 L1468.0 1200.3 L1470.0 1200.4 L1472.0 1200.5 L1474.0 1200.6 L1476.0 1200.7 L1478.0 1200.8 L1480.0 1200.8 L1482.0 1200.9 L1484.0 1201.0 L1486.0 1201.1 L1488.0 1201.2 L1490.0 1201.3 L1492.0 1201.4 L1494.0 1201.4 L1496.0 1201.5 L1498.0 1201.6 L1500.0 1201.7 L1502.0 1201.8 L1504.0 1201.8 L1506.0 1201.9 L1508.0 1202.0 L1510.0 1202.1 L1512.0 1202.1 L1514.0 1202.2 L1516.0 1202.3 L1518.0 1202.4 L1519.0 1202.4 L1579.0 1202.8 L1930.0 1203.5" stroke="#80ffff"/>
<path d="M188.0 1170.0 L190.0 1169.7 L192.0 1169.4 L194.0 1169.0 L196.0 1168.7 L198.0 1168.4 L200.0 1168.1 L202.0 1167.7 L204.0 1167.4 L206.0 1167.1 L208.0 1166.7 L210.0 1166.4 L212.0 1166.0 L214.0 1165.7 L216.0 1165.3 L218.0 1164.9 L220.0 1164.6 L222.0 1164.2 L224.0 1163.8 L226.0 1163.5 L228.0 1163.1 L230.0 1162.7 L232.0 1162.3 L234.0 1161.9 L236.0 1161.5 L238.0 1161.1 L240.0 1160.7 L242.0 1160.3 L244.0 1159.9 L246.0 1159.5 L248.0 1159.1 L250.0 1158.7 L252.0 1158.3 L254.0 1157.8 L256.0 1157.4 L258.0 1157.0 L260.0 1156.5 L262.0 1156.1 L264.0 1155.6 L266.0 1155.2 L268.0 1154.7 L270.0 1154.2 L272.0 1153.8 L274.0 1153.3 L276.0 1152.8 L278.0 1152.3 L280.0 1151.8 L282.0 1151.3 L284.0 1150.8 L286.0 1150.2 L288.0 1149.7 L290.0 1149.2 L292.0 1148.6 L294.0 1148.0 L296.0 1147.5 L298.0 1146.9 L300.0 1146.3 L302.0 1145.7 L304.0 1145.1 L306.0 1144.5 L308.0 1143.8 L310.0 1143.2 L312.0 1142.5 L314.0 1141.8 L316.0 1141.1 L318.0 1140.4 L320.0 1139.7 L322.0 1139.0 L324.0 1138.2 L326.0 1137.5 L328.0 1136.7 L330.0 1135.9 L332.0 1135.1 L334.0 1134.2 L336.0 1133.4 L338.0 1132.5 L340.0 1131.6 L342.0 1130.7 L344.0 1129.8 L346.0 1128.8 L348.0 1127.8 L350.0 1126.8 L352.0 1125.8 L354.0 1124.7 L356.0 1123.6 L358.0 1122.5 L360.0 1121.4 L362.0 1120.2 L364.0 1119.0 L366.0 1117.8 L368.0 1116.5 L370.0 1115.2 L372.0 1113.8 L374.0 1112.5 L376.0 1111.1 L378.0 1109.6 L380.0 1108.1 L382.0 1106.6 L384.0 1105.0 L386.0 1103.4 L388.0 1101.8 L390.0 1100.1 L392.0 1098.3 L394.0 1096.5 L396.0 1094.7 L398.0 1092.8 L400.0 1090.8 L402.0 1088.9 L404.0 1086.8 L406.0 1084.7 L408.0 1082.6 L410.0 1080.4 L412.0 1078.1 L414.0 1075.8 L416.0 1073.4 L418.0 1071.0 L420.0 1068.6 L422.0 1066.0 L424.0 1063.4 L426.0 1060.8 L428.0 1058.1 L430.0 1055.3 L432.0 1052.5 L434.0 1049.6 L436.0 1046.7 L438.0 1043.7 L440.0 1040.6 L442.0 1037.5 L444.0 1034.4 L446.0 1031.1 L448.0 1027.8 L450.0 1024.5 L452.0 1021.1 L454.0 1017.6 L456.0 1014.1 L458.0 1010.5 L460.0 1006.9 L462.0 1003.2 L464.0 999.4 L466.0 995.6 L468.0 991.8 L470.0 987.8 L472.0 983.9 L474.0 979.8 L476.0 975.7 L478.0 971.6 L480.0 967.4 L482.0 963.1 L484.0 958.8 L486.0 954.4 L488.0 950.0 L490.0 945.5 L492.0 940.9 L494.0 936.3 L496.0 931.6 L498.0 926.9 L500.0 922.1 L502.0 917.2 L504.0 912.3 L506.0 907.4 L508.0 902.3 L510.0 897.2 L512.0 892.1 L514.0 886.9 L516.0 881.6 L518.0 876.3 L520.0 870.9 L522.0 865.5 L524.0 859.9 L526.0 854.4 L528.0 848.7 L530.0 843.1 L532.0 837.3 L534.0 831.5 L536.0 825.6 L538.0 819.7 L540.0 813.7 L542.0 807.7 L544.0 801.6 L546.0 795.4 L548.0 789.2 L550.0 782.9 L552.0 776.6 L554.0 770.2 L556.0 763.7 L558.0 757.2 L560.0 750.7 L562.0 744.1 L564.0 737.4 L566.0 730.7 L568.0 724.0 L570.0 717.2 L572.0 710.3 L574.0 703.4 L576.0 696.5 L578.0 689.5 L580.0 682.5 L582.0 675.5 L584.0 668.4 L586.0 661.3 L588.0 654.1 L590.0 646.9 L592.0 639.7 L594.0 632.5 L596.0 625.2 L598.0 618.0 L600.0 610.7 L602.0 603.4 L604.0 596.0 L606.0 588.7 L608.0 581.4 L610.0 574.0 L612.0 566.7 L614.0 559.4 L616.0 552.0 L618.0 544.7 L620.0 537.4 L622.0 530.1 L624.0 522.8 L626.0 515.6 L628.0 508.3 L630.0 501.2 L632.0 494.0 L634.0 486.9 L636.0 479.8 L638.0 472.8 L640.0 465.8 L642.0 458.9 L644.0 452.1 L646.0 445.3 L648.0 438.6 L650.0 432.0 L652.0 425.4 L654.0 419.0 L656.0 412.6 L658.0 406.3 L660.0 400.2 L662.0 394.1 L664.0 388.2 L666.0 382.3 L668.0 376.6 L670.0 371.1 L672.0 365.6 L674.0 360.3 L676.0 355.2 L678.0 350.2 L680.0 345.4 L682.0 340.7 L684.0 336.2 L686.0 331.9 L688.0 327.7 L690.0 323.7 L692.0 319.9 L694.0 316.4 L696.0 313.0 L698.0 309.8 L700.0 306.8 L702.0 304.0 L704.0 301.5 L706.0 299.2 L708.0 297.1 L710.0 295.2 L712.0 293.6 L714.0 292.2 L716.0 291.1 L718.0 290.2 L720.0 289.5 L722.0 289.1 L724.0 289.0 L726.0 289.1 L728.0 289.5 L730.0 290.2 L732.0 291.1 L734.0 292.3 L736.0 293.8 L738.0 295.5 L740.0 297.5 L742.0 299.7 L744.0 302.2 L746.0 304.9 L748.0 307.9 L750.0 311.2 L752.0 314.7 L754.0 318.4 L756.0 322.4 L758.0 326.6 L760.0 331.0 L762.0 335.7 L764.0 340.6 L766.0 345.7 L768.0 351.0 L770.0 356.5 L772.0 362.3 L774.0 368.2 L776.0 374.3 L778.0 380.6 L780.0 387.1 L782.0 393.7 L784.0 400.5 L786.0 407.4 L788.0 414.5 L790.0 421.8 L792.0 429.1 L794.0 436.6 L796.0 444.2 L798.0 451.9 L800.0 459.7 L802.0 467.6 L804.0 475.5 L806.0 483.6 L808.0 491.7 L810.0 499.8 L812.0 508.0 L814.0 516.3 L816.0 524.6 L818.0 532.9 L820.0 541.2 L822.0 549.6 L824.0 558.0 L826.0 566.3 L828.0 574.7 L830.0 583.1 L832.0 591.4 L834.0 599.8 L836.0 608.1 L838.0 616.4 L840.0 624.6 L842.0 632.9 L844.0 641.1 L846.0 649.2 L848.0 657.4 L850.0 665.4 L852.0 673.5 L854.0 681.5 L856.0 689.4 L858.0 697.3 L860.0 705.1 L862.0 712.9 L864.0 720.6 L866.0 728.2 L868.0 735.8 L870.0 743.3 L872.0 750.8 L874.0 758.2 L876.0 765.5 L878.0 772.7 L880.0 779.9 L882.0 787.0 L884.0 794.0 L886.0 800.9 L888.0 807.8 L890.0 814.6 L892.0 821.3 L894.0 827.9 L896.0 834.4 L898.0 840.8 L900.0 847.2 L902.0 853.5 L904.0 859.7 L906.0 865.8 L908.0 871.8 L910.0 877.7 L912.0 883.5 L914.0 889.3 L916.0 894.9 L918.0 900.5 L920.0 906.0 L922.0 911.4 L924.0 916.7 L926.0 921.9 L928.0 927.0 L930.0 932.1 L932.0 937.0 L934.0 941.9 L936.0 946.6 L938.0 951.3 L940.0 955.9 L942.0 960.5 L944.0 964.9 L946.0 969.3 L948.0 973.5 L950.0 977.7 L952.0 981.8 L954.0 985.9 L956.0 989.8 L958.0 993.7 L960.0 997.5 L962.0 1001.2 L964.0 1004.9 L966.0 1008.5 L968.0 1012.0 L970.0 1015.4 L972.0 1018.8 L974.0 1022.1 L976.0 1025.4 L978.0 1028.5 L980.0 1031.7 L982.0 1034.7 L984.0 1037.7 L986.0 1040.7 L988.0 1043.5 L990.0 1046.4 L992.0 1049.1 L994.0 1051.9 L996.0 1054.5 L998.0 1057.1 L1000.0 1059.7 L1002.0 1062.2 L1004.0 1064.7 L1006.0 1067.1 L1008.0 1069.5 L1010.0 1071.8 L1012.0 1074.1 L1014.0 1076.4 L1016.0 1078.6 L1018.0 1080.7 L1020.0 1082.9 L1022.0 1084.9 L1024.0 1087.0 L1026.0 1089.0 L1028.0 1091.0 L1030.0 1092.9 L1032.0 1094.8 L1034.0 1096.7 L1036.0 1098.5 L1038.0 1100.3 L1040.0 1102.1 L1042.0 1103.8 L1044.0 1105.5 L1046.0 1107.2 L1048.0 1108.8 L1050.0 1110.4 L1052.0 1112.0 L1054.0 1113.6 L1056.0 1115.1 L1058.0 1116.6 L1060.0 1118.1 L1062.0 1119.5 L1064.0 1120.9 L1066.0 1122.3 L1068.0 1123.7 L1070.0 1125.1 L1072.0 1126.4 L1074.0 1127.7 L1076.0 1129.0 L1078.0 1130.2 L1080.0 1131.5 L1082.0 1132.7 L1084.0 1133.9 L1086.0 1135.0 L1088.0 1136.2 L1090.0 1137.3 L1092.0 1138.5 L1094.0 1139.6 L1096.0 1140.6 L1098.0 1141.7 L1100.0 1142.8 L1102.0 1143.8 L1104.0 1144.8 L1106.0 1145.8 L1108.0 1146.8 L1110.0 1147.8 L1112.0 1148.7 L1114.0 1149.7 L1116.0 1150.6 L1118.0 1151.5 L1120.0 1152.4 L1122.0 1153.3 L1124.0 1154.2 L1126.0 1155.0 L1128.0 1155.9 L1130.0 1156.7 L1132.0 1157.5 L1134.0 1158.3 L1136.0 1159.1 L1138.0 1159.9 L1140.0 1160.7 L1142.0 1161.4 L1144.0 1162.2 L1146.0 1162.9 L1148.0 1163.7 L1150.0 1164.4 L1152.0 1165.1 L1154.0 1165.8 L1156.0 1166.4 L1158.0 1167.1 L1160.0 1167.7 L1162.0 1168.4 L1164.0 1169.0 L1166.0 1169.6 L1168.0 1170.2 L1170.0 1170.8 L1172.0 1171.4 L1174.0 1172.0 L1176.0 1172.5 L1178.0 1173.1 L1180.0 1173.6 L1182.0 1174.1 L1184.0 1174.6 L1186.0 1175.1 L1188.0 1175.6 L1190.0 1176.1 L1192.0 1176.6 L1194.0 1177.0 L1196.0 1177.5 L1198.0 1177.9 L1200.0 1178.3 L1202.0 1178.7 L1204.0 1179.1 L1206.0 1179.5 L1208.0 1179.9 L1210.0 1180.3 L1212.0 1180.7 L1214.0 1181.0 L1216.0 1181.4 L1218.0 1181.7 L1220.0 1182.0 L1222.0 1182.3 L1224.0 1182.6 L1226.0 1183.0 L1228.0 1183.3 L1230.0 1183.5 L1232.0 1183.8 L1234.0 1184.1 L1236.0 1184.4 L1238.0 1184.6 L1240.0 1184.9 L1242.0 1185.1 L1244.0 1185.4 L1246.0 1185.6 L1248.0 1185.9 L1250.0 1186.1 L1252.0 1186.3 L1254.0 1186.6 L1256.0 1186.8 L1258.0 1187.0 L1260.0 1187.2 L1262.0 1187.4 L1264.0 1187.7 L1266.0 1187.9 L1268.0 1188.1 L1270.0 1188.3 L1272.0 1188.5 L1274.0 1188.7 L1276.0 1188.9 L1278.0 1189.1 L1280.0 1189.3 L1282.0 1189.4 L1284.0 1189.6 L1286.0 1189.8 L1288.0 1190.0 L1290.0 1190.2 L1292.0 1190.4 L1294.0 1190.6 L1296.0 1190.8 L1298.0 1190.9 L1300.0 1191.1 L1302.0 1191.3 L1304.0 1191.5 L1306.0 1191.7 L1308.0 1191.8 L1310.0 1192.0 L1312.0 1192.2 L1314.0 1192.4 L1316.0 1192.5 L1318.0 1192.7 L1320.0 1192.9 L1322.0 1193.0 L1324.0 1193.2 L1326.0 1193.4 L1328.0 1193.5 L1330.0 1193.7 L1332.0 1193.9 L1334.0 1194.0 L1336.0 1194.2 L1338.0 1194.3 L1340.0 1194.5 L1342.0 1194.7 L1344.0 1194.8 L1346.0 1195.0 L1348.0 1195.1 L1350.0 1195.3 L1352.0 1195.4 L1354.0 1195.6 L1356.0 1195.7 L1358.0 1195.8 L1360.0 1196.0 L1362.0 1196.1 L1364.0 1196.3 L1366.0 1196.4 L1368.0 1196.5 L1370.0 1196.7 L1372.0 1196.8 L1374.0 1196.9 L1376.0 1197.0 L1378.0 1197.2 L1380.0 1197.3 L1382.0 1197.4 L1384.0 1197.5 L1386.0 1197.6 L1388.0 1197.8 L1390.0 1197.9 L1392.0 1198.0 L1394.0 1198.1 L1396.0 1198.2 L1398.0 1198.3 L1400.0 1198.4 L1402.0 1198.5 L1404.0 1198.6 L1406.0 1198.7 L1408.0 1198.8 L1410.0 1198.9 L1412.0 1199.0 L1414.0 1199.1 L1416.0 1199.2 L1418.0 1199.3 L1420.0 1199.4 L1422.0 1199.4 L1424.0 1199.5 L1426.0 1199.6 L1428.0 1199.7 L1430.0 1199.8 L1432.0 1199.9 L1434.0 1199.9 L1436.0 1200.0 L1438.0 1200.1 L1440.0 1200.2 L1442.0 1200.2 L1444.0 1200.3 L1446.0 1200.4 L1448.0 1200.5 L1450.0 1200.5 L1452.0 1200.6 L1454.0 1200.7 L1456.0 1200.7 L1458.0 1200.8 L1460.0 1200.9 L1462.0 1200.9 L1464.0 1201.0 L1466.0 1201.1 L1468.0 1201.1 L1470.0 1201.2 L1472.0 1201.2 L1474.0 1201.3 L1476.0 1201.3 L1478.0 1201.4 L1480.0 1201.5 L1482.0 1201.5 L1484.0 1201.6 L1486.0 1201.6 L1488.0 1201.7 L1490.0 1201.7 L1492.0 1201.8 L1494.0 1201.8 L1496.0 1201.9 L1498.0 1201.9 L1500.0 1202.0 L1502.0 1202.0 L1504.0 1202.1 L1506.0 1202.1 L1508.0 1202.2 L1510.0 1202.2 L1512.0 1202.2 L1514.0 1202.3 L1516.0 1202.3 L1518.0 1202.4 L1519.0 1202.4 L1579.0 1202.6 L1930.0 1203.0" stroke="#ff80ff"/>
</g>
<defs><linearGradient id="bp" x1="1519" x2="1930" y1="0" y2="0" gradientUnits="userSpaceOnUse"><stop offset="0" stop-color="#ff84fb"/><stop offset="0.35" stop-color="#f89cee"/><stop offset="1" stop-color="#f2b2e3"/></linearGradient><linearGradient id="bq" x1="1530" x2="1930" y1="0" y2="0" gradientUnits="userSpaceOnUse"><stop offset="0" stop-color="#e6d2f0"/><stop offset="0.3" stop-color="#a880c0"/><stop offset="1" stop-color="#7a3f80"/></linearGradient></defs>
<polygon points="1516,1200.9 1930.5,1202.4 1930.5,1213.6 1700,1210.8 1560,1207 1516,1204.6" fill="url(#bp)"/>
<polygon points="1532,1206.6 1700,1211.0 1930.5,1213.8 1930.5,1216.8 1700,1214.2 1532,1209" fill="url(#bq)"/>
<line x1="163.5" y1="1221.7" x2="1931" y2="1221.7" stroke="#bdbdbd" stroke-width="5.4"/>
<line x1="187" y1="39.5" x2="187" y2="1222" stroke="#7a7a7a" stroke-width="2.8"/>
<line x1="174" y1="1090.6" x2="187" y2="1090.6" stroke="#9a9a9a" stroke-width="2.2"/>
<line x1="163.5" y1="959.2" x2="187" y2="959.2" stroke="#8a8a8a" stroke-width="2.2"/>
<line x1="174" y1="827.8" x2="187" y2="827.8" stroke="#9a9a9a" stroke-width="2.2"/>
<line x1="163.5" y1="696.4" x2="187" y2="696.4" stroke="#8a8a8a" stroke-width="2.2"/>
<line x1="174" y1="565.0" x2="187" y2="565.0" stroke="#9a9a9a" stroke-width="2.2"/>
<line x1="163.5" y1="433.6" x2="187" y2="433.6" stroke="#8a8a8a" stroke-width="2.2"/>
<line x1="174" y1="302.2" x2="187" y2="302.2" stroke="#9a9a9a" stroke-width="2.2"/>
<line x1="163.5" y1="170.8" x2="187" y2="170.8" stroke="#8a8a8a" stroke-width="2.2"/>
<line x1="174" y1="39.4" x2="187" y2="39.4" stroke="#9a9a9a" stroke-width="2.2"/>
<line x1="343.5" y1="1222" x2="343.5" y2="1232.8" stroke="#949494" stroke-width="3"/>
<line x1="739.8" y1="1222" x2="739.8" y2="1242.5" stroke="#8c8c8c" stroke-width="3"/>
<line x1="1136.2" y1="1222" x2="1136.2" y2="1232.8" stroke="#949494" stroke-width="3"/>
<line x1="1532.3" y1="1222" x2="1532.3" y2="1242.5" stroke="#8c8c8c" stroke-width="3"/>
<line x1="1929.5" y1="1222" x2="1929.5" y2="1232.8" stroke="#949494" stroke-width="3"/>
<text x="148.5" y="1238.0" font-size="58" text-anchor="end">0</text>
<text x="148.5" y="975.2" font-size="58" text-anchor="end">2</text>
<text x="148.5" y="712.4" font-size="58" text-anchor="end">4</text>
<text x="148.5" y="449.6" font-size="58" text-anchor="end">6</text>
<text x="148.5" y="186.8" font-size="58" text-anchor="end">8</text>
<text x="739.7" y="1302" font-size="58" text-anchor="middle">580</text>
<text x="1531.5" y="1303" font-size="58" text-anchor="middle">581</text>
<text x="953" y="1367.3" font-size="88"><tspan class="ser" font-size="79">λ</tspan><tspan x="997" >,</tspan><tspan x="1041.5">nm</tspan></text>
<text transform="translate(86 775) rotate(-90)" font-size="87">I, a.u.</text>
<line x1="228" y1="100.5" x2="310" y2="100.5" stroke="#000000" stroke-width="4.2"/>
<text x="318.5" y="112.7" font-size="35.6">10.7K</text>
<line x1="228" y1="144.0" x2="310" y2="144.0" stroke="#ff0000" stroke-width="4.2"/>
<text x="318.5" y="156.2" font-size="35.6">20K</text>
<line x1="228" y1="187.5" x2="310" y2="187.5" stroke="#00ff00" stroke-width="4.2"/>
<text x="318.5" y="199.7" font-size="35.6">30K</text>
<line x1="228" y1="231.1" x2="310" y2="231.1" stroke="#0000ff" stroke-width="4.2"/>
<text x="318.5" y="243.3" font-size="35.6">40K</text>
<line x1="228" y1="274.6" x2="310" y2="274.6" stroke="#00ffff" stroke-width="4.2"/>
<text x="318.5" y="286.8" font-size="35.6">50K</text>
<line x1="228" y1="318.1" x2="310" y2="318.1" stroke="#ff00ff" stroke-width="4.2"/>
<text x="318.5" y="330.3" font-size="35.6">60K</text>
<line x1="228" y1="361.6" x2="310" y2="361.6" stroke="#ffff00" stroke-width="4.2"/>
<text x="318.5" y="373.8" font-size="35.6">70K</text>
<line x1="228" y1="405.1" x2="310" y2="405.1" stroke="#808000" stroke-width="4.2"/>
<text x="318.5" y="417.3" font-size="35.6">80K</text>
<line x1="228" y1="448.7" x2="310" y2="448.7" stroke="#000080" stroke-width="4.2"/>
<text x="318.5" y="460.9" font-size="35.6">90K</text>
<line x1="228" y1="492.2" x2="310" y2="492.2" stroke="#800080" stroke-width="4.2"/>
<text x="318.5" y="504.4" font-size="35.6">100K</text>
<line x1="228" y1="535.7" x2="310" y2="535.7" stroke="#800000" stroke-width="4.2"/>
<text x="318.5" y="547.9" font-size="35.6">110K</text>
<line x1="228" y1="579.2" x2="310" y2="579.2" stroke="#008000" stroke-width="4.2"/>
<text x="318.5" y="591.4" font-size="35.6">120K</text>
<line x1="228" y1="622.7" x2="310" y2="622.7" stroke="#008080" stroke-width="4.2"/>
<text x="318.5" y="634.9" font-size="35.6">130K</text>
<line x1="228" y1="666.3" x2="310" y2="666.3" stroke="#0000a0" stroke-width="4.2"/>
<text x="318.5" y="678.5" font-size="35.6">140K</text>
<line x1="228" y1="709.8" x2="310" y2="709.8" stroke="#ff8000" stroke-width="4.2"/>
<text x="318.5" y="722.0" font-size="35.6">150K</text>
<line x1="228" y1="753.3" x2="310" y2="753.3" stroke="#8000ff" stroke-width="4.2"/>
<text x="318.5" y="765.5" font-size="35.6">160K</text>
<line x1="228" y1="796.8" x2="310" y2="796.8" stroke="#ff0080" stroke-width="4.2"/>
<text x="318.5" y="809.0" font-size="35.6">190K</text>
<line x1="228" y1="840.3" x2="310" y2="840.3" stroke="#ffffff" stroke-width="4.2"/>
<text x="318.5" y="852.5" font-size="35.6">200K</text>
<line x1="228" y1="883.9" x2="310" y2="883.9" stroke="#c0c0c0" stroke-width="4.2"/>
<text x="318.5" y="896.1" font-size="35.6">220K</text>
<line x1="228" y1="927.4" x2="310" y2="927.4" stroke="#808080" stroke-width="4.2"/>
<text x="318.5" y="939.6" font-size="35.6">240K</text>
<line x1="228" y1="970.9" x2="310" y2="970.9" stroke="#ffff80" stroke-width="4.2"/>
<text x="318.5" y="983.1" font-size="35.6">260K</text>
<line x1="228" y1="1014.4" x2="310" y2="1014.4" stroke="#80ffff" stroke-width="4.2"/>
<text x="318.5" y="1026.6" font-size="35.6">280K</text>
<line x1="228" y1="1057.9" x2="310" y2="1057.9" stroke="#ff80ff" stroke-width="4.2"/>
<text x="318.5" y="1070.1" font-size="35.6">300K</text>
<line x1="775" y1="202.6" x2="1058" y2="202.6" stroke="#6a6a6a" stroke-width="2.2"/>
<polygon points="760,202.6 788,195.3 788,209.9" fill="#000"/>
<text x="919.7" y="177" font-size="50" text-anchor="middle">T</text>
<line x1="1323.5" y1="120" x2="1323.5" y2="594" stroke="#cfcfcf" stroke-width="2.6"/>
<line x1="1322.5" y1="593" x2="1831.5" y2="593" stroke="#cfcfcf" stroke-width="2.6"/>
<line x1="1313.5" y1="540.1" x2="1323.5" y2="540.1" stroke="#cfcfcf" stroke-width="2.2"/>
<text x="1309" y="554.7" font-size="41" text-anchor="end">0</text>
<line x1="1313.5" y1="408.7" x2="1323.5" y2="408.7" stroke="#cfcfcf" stroke-width="2.2"/>
<text x="1309" y="423.3" font-size="41" text-anchor="end">5</text>
<line x1="1313.5" y1="277.3" x2="1323.5" y2="277.3" stroke="#cfcfcf" stroke-width="2.2"/>
<text x="1309" y="291.9" font-size="41" text-anchor="end">10</text>
<line x1="1313.5" y1="145.9" x2="1323.5" y2="145.9" stroke="#cfcfcf" stroke-width="2.2"/>
<text x="1309" y="160.5" font-size="41" text-anchor="end">15</text>
<line x1="1317.5" y1="474.4" x2="1323.5" y2="474.4" stroke="#dcdcdc" stroke-width="2"/>
<line x1="1317.5" y1="343.0" x2="1323.5" y2="343.0" stroke="#dcdcdc" stroke-width="2"/>
<line x1="1317.5" y1="211.6" x2="1323.5" y2="211.6" stroke="#dcdcdc" stroke-width="2"/>
<line x1="1374.0" y1="593" x2="1374.0" y2="598.5" stroke="#e0e0e0" stroke-width="2"/>
<line x1="1411.4" y1="593" x2="1411.4" y2="598.5" stroke="#e0e0e0" stroke-width="2"/>
<line x1="1440.4" y1="593" x2="1440.4" y2="598.5" stroke="#e0e0e0" stroke-width="2"/>
<line x1="1464.1" y1="593" x2="1464.1" y2="598.5" stroke="#e0e0e0" stroke-width="2"/>
<line x1="1484.1" y1="593" x2="1484.1" y2="598.5" stroke="#e0e0e0" stroke-width="2"/>
<line x1="1501.5" y1="593" x2="1501.5" y2="598.5" stroke="#e0e0e0" stroke-width="2"/>
<line x1="1516.8" y1="593" x2="1516.8" y2="598.5" stroke="#e0e0e0" stroke-width="2"/>
<line x1="1530.5" y1="593" x2="1530.5" y2="603" stroke="#cfcfcf" stroke-width="2.2"/>
<line x1="1620.6" y1="593" x2="1620.6" y2="598.5" stroke="#e0e0e0" stroke-width="2"/>
<line x1="1673.3" y1="593" x2="1673.3" y2="598.5" stroke="#e0e0e0" stroke-width="2"/>
<line x1="1710.7" y1="593" x2="1710.7" y2="598.5" stroke="#e0e0e0" stroke-width="2"/>
<line x1="1739.7" y1="593" x2="1739.7" y2="598.5" stroke="#e0e0e0" stroke-width="2"/>
<line x1="1763.4" y1="593" x2="1763.4" y2="598.5" stroke="#e0e0e0" stroke-width="2"/>
<line x1="1783.4" y1="593" x2="1783.4" y2="598.5" stroke="#e0e0e0" stroke-width="2"/>
<line x1="1800.8" y1="593" x2="1800.8" y2="598.5" stroke="#e0e0e0" stroke-width="2"/>
<line x1="1816.1" y1="593" x2="1816.1" y2="598.5" stroke="#e0e0e0" stroke-width="2"/>
<line x1="1829.8" y1="593" x2="1829.8" y2="603" stroke="#cfcfcf" stroke-width="2.2"/>
<text x="1529.5" y="638.3" font-size="40" text-anchor="middle">0.01</text>
<text x="1828" y="638.3" font-size="40" text-anchor="middle">0.1</text>
<text x="1524" y="681.6" font-size="42" xml:space="preserve">1/T,<tspan x="1624.5">K</tspan><tspan font-size="25" dy="-21" dx="1">-1</tspan></text>
<text transform="translate(1265 429) rotate(-90)" font-size="42" xml:space="preserve"><tspan class="ser" font-size="40">Δλ</tspan>, cm<tspan font-size="25" dy="-24">-1</tspan></text>
<polyline points="1389.0,539.4 1397.2,508.4 1408.2,492.5 1417.7,469.7 1429.1,431.0 1441.4,422.7 1448.3,407.3 1470.1,368.5 1478.8,360.3 1487.9,338.4 1497.5,320.7 1508.0,298.8 1518.9,275.1 1531.2,251.8 1545.4,214.5 1560.4,220.4 1577.7,204.4 1597.3,204.4 1621.5,197.1 1650.2,197.1 1687.6,189.4 1740.0,181.2 1822.0,168.0" fill="none" stroke="#9a9a9a" stroke-width="1.6" stroke-dasharray="3 4"/>
<rect x="1382.0" y="532.4" width="14" height="14" fill="#000"/>
<rect x="1390.2" y="501.4" width="14" height="14" fill="#000"/>
<rect x="1401.2" y="485.5" width="14" height="14" fill="#000"/>
<rect x="1410.7" y="462.7" width="14" height="14" fill="#000"/>
<rect x="1422.1" y="424.0" width="14" height="14" fill="#000"/>
<rect x="1434.4" y="415.7" width="14" height="14" fill="#000"/>
<rect x="1441.3" y="400.3" width="14" height="14" fill="#000"/>
<rect x="1463.1" y="361.5" width="14" height="14" fill="#000"/>
<rect x="1471.8" y="353.3" width="14" height="14" fill="#000"/>
<rect x="1480.9" y="331.4" width="14" height="14" fill="#000"/>
<rect x="1490.5" y="313.7" width="14" height="14" fill="#000"/>
<rect x="1501.0" y="291.8" width="14" height="14" fill="#000"/>
<rect x="1511.9" y="268.1" width="14" height="14" fill="#000"/>
<rect x="1524.2" y="244.8" width="14" height="14" fill="#000"/>
<rect x="1538.4" y="207.5" width="14" height="14" fill="#000"/>
<rect x="1553.4" y="213.4" width="14" height="14" fill="#000"/>
<rect x="1570.7" y="197.4" width="14" height="14" fill="#000"/>
<rect x="1590.3" y="197.4" width="14" height="14" fill="#000"/>
<rect x="1614.5" y="190.1" width="14" height="14" fill="#000"/>
<rect x="1643.2" y="190.1" width="14" height="14" fill="#000"/>
<rect x="1680.6" y="182.4" width="14" height="14" fill="#000"/>
<rect x="1733.0" y="174.2" width="14" height="14" fill="#000"/>
<rect x="1815.0" y="161.0" width="14" height="14" fill="#000"/>
</g>
</svg></body></html>
